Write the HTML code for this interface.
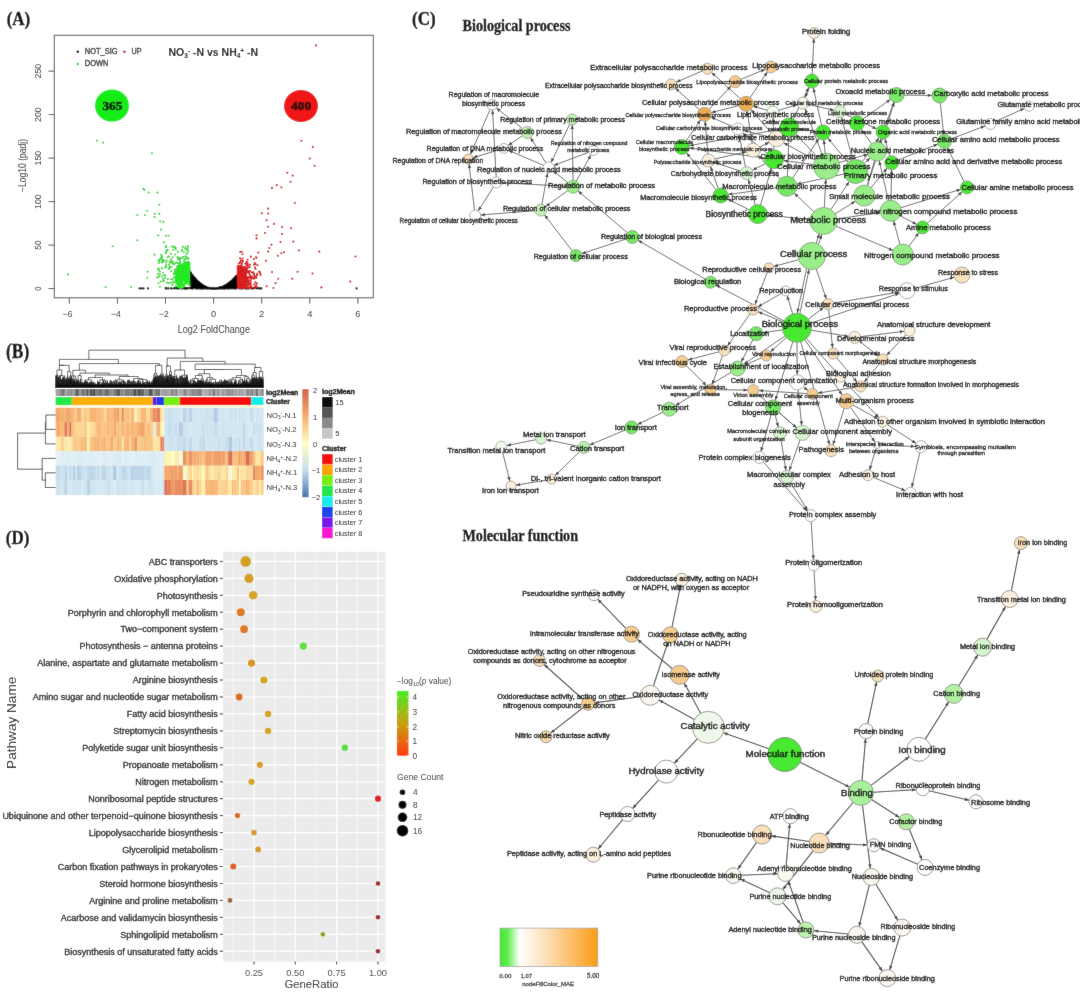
<!DOCTYPE html><html><head><meta charset="utf-8"><style>html,body{margin:0;padding:0;background:#fff;}svg{display:block;}</style></head><body>
<svg width="1080" height="1001" viewBox="0 0 1080 1001">
<defs><filter id="soft" x="0" y="0" width="1" height="1" filterUnits="objectBoundingBox"><feConvolveMatrix order="3" kernelMatrix="1 2 1 2 48 2 1 2 1" divisor="60" edgeMode="duplicate"/></filter></defs>
<rect width="1080" height="1001" fill="#fff"/>
<g filter="url(#soft)">
<rect width="1080" height="1001" fill="#fff"/>
<text x="6.7" y="24.9" font-family="Liberation Serif" font-weight="bold" font-size="19.40" fill="#111" textLength="23.6" lengthAdjust="spacingAndGlyphs" stroke="#111" stroke-width="0.35">(A)</text>
<rect x="54.3" y="35.3" width="319" height="262.5" fill="none" stroke="#555" stroke-width="1"/>
<line x1="48.5" y1="288.6" x2="54.3" y2="288.6" stroke="#555" stroke-width="1"/>
<text transform="translate(41,288.6) rotate(-90)" x="-2.1" y="0" font-family="Liberation Sans" font-size="9.6" fill="#333" textLength="4.2" lengthAdjust="spacingAndGlyphs">0</text>
<line x1="48.5" y1="245.1" x2="54.3" y2="245.1" stroke="#555" stroke-width="1"/>
<text transform="translate(41,245.1) rotate(-90)" x="-4.7" y="0" font-family="Liberation Sans" font-size="9.6" fill="#333" textLength="9.4" lengthAdjust="spacingAndGlyphs">50</text>
<line x1="48.5" y1="201.6" x2="54.3" y2="201.6" stroke="#555" stroke-width="1"/>
<text transform="translate(41,201.6) rotate(-90)" x="-7.3" y="0" font-family="Liberation Sans" font-size="9.6" fill="#333" textLength="14.6" lengthAdjust="spacingAndGlyphs">100</text>
<line x1="48.5" y1="158.1" x2="54.3" y2="158.1" stroke="#555" stroke-width="1"/>
<text transform="translate(41,158.1) rotate(-90)" x="-7.3" y="0" font-family="Liberation Sans" font-size="9.6" fill="#333" textLength="14.6" lengthAdjust="spacingAndGlyphs">150</text>
<line x1="48.5" y1="114.6" x2="54.3" y2="114.6" stroke="#555" stroke-width="1"/>
<text transform="translate(41,114.6) rotate(-90)" x="-7.3" y="0" font-family="Liberation Sans" font-size="9.6" fill="#333" textLength="14.6" lengthAdjust="spacingAndGlyphs">200</text>
<line x1="48.5" y1="71.1" x2="54.3" y2="71.1" stroke="#555" stroke-width="1"/>
<text transform="translate(41,71.1) rotate(-90)" x="-7.3" y="0" font-family="Liberation Sans" font-size="9.6" fill="#333" textLength="14.6" lengthAdjust="spacingAndGlyphs">250</text>
<line x1="69.3" y1="297.8" x2="69.3" y2="303.7" stroke="#555" stroke-width="1"/>
<text x="62.8" y="317.4" font-family="Liberation Sans" font-size="9" fill="#333" textLength="9.7" lengthAdjust="spacingAndGlyphs">−6</text>
<line x1="117.4" y1="297.8" x2="117.4" y2="303.7" stroke="#555" stroke-width="1"/>
<text x="111.0" y="317.4" font-family="Liberation Sans" font-size="9" fill="#333" textLength="9.7" lengthAdjust="spacingAndGlyphs">−4</text>
<line x1="165.5" y1="297.8" x2="165.5" y2="303.7" stroke="#555" stroke-width="1"/>
<text x="159.1" y="317.4" font-family="Liberation Sans" font-size="9" fill="#333" textLength="9.7" lengthAdjust="spacingAndGlyphs">−2</text>
<line x1="213.6" y1="297.8" x2="213.6" y2="303.7" stroke="#555" stroke-width="1"/>
<text x="211.0" y="317.4" font-family="Liberation Sans" font-size="9" fill="#333" textLength="5.2" lengthAdjust="spacingAndGlyphs">0</text>
<line x1="261.7" y1="297.8" x2="261.7" y2="303.7" stroke="#555" stroke-width="1"/>
<text x="259.1" y="317.4" font-family="Liberation Sans" font-size="9" fill="#333" textLength="5.2" lengthAdjust="spacingAndGlyphs">2</text>
<line x1="309.8" y1="297.8" x2="309.8" y2="303.7" stroke="#555" stroke-width="1"/>
<text x="307.2" y="317.4" font-family="Liberation Sans" font-size="9" fill="#333" textLength="5.2" lengthAdjust="spacingAndGlyphs">4</text>
<line x1="357.9" y1="297.8" x2="357.9" y2="303.7" stroke="#555" stroke-width="1"/>
<text x="355.3" y="317.4" font-family="Liberation Sans" font-size="9" fill="#333" textLength="5.2" lengthAdjust="spacingAndGlyphs">6</text>
<text x="177.7" y="332.6" font-family="Liberation Sans" font-size="10" fill="#333" textLength="72.3" lengthAdjust="spacingAndGlyphs">Log2 FoldChange</text>
<text transform="translate(25.5,165.5) rotate(-90)" x="-26.5" y="0" font-family="Liberation Sans" font-size="10" fill="#333" textLength="53" lengthAdjust="spacingAndGlyphs">−Log10 (padj)</text>
<circle cx="77.8" cy="51.8" r="1.3" fill="#000"/>
<circle cx="124.4" cy="51.8" r="1.3" fill="#d42020"/>
<circle cx="77.8" cy="64" r="1.3" fill="#3ad23a"/>
<text x="84.8" y="54.1" font-family="Liberation Sans" font-size="8.30" font-weight="normal" fill="#444" textLength="32.7" lengthAdjust="spacingAndGlyphs" stroke="#444" stroke-width="0.42">NOT_SIG</text>
<text x="131.5" y="54.1" font-family="Liberation Sans" font-size="8.30" font-weight="normal" fill="#444" textLength="10.0" lengthAdjust="spacingAndGlyphs" stroke="#444" stroke-width="0.42">UP</text>
<text x="84.8" y="66.3" font-family="Liberation Sans" font-size="8.30" font-weight="normal" fill="#444" textLength="23.7" lengthAdjust="spacingAndGlyphs" stroke="#444" stroke-width="0.42">DOWN</text>
<text x="168.5" y="56.0" font-family="Liberation Sans" font-weight="bold" font-size="10.5" fill="#111">NO<tspan font-size="6.5" dy="2">3</tspan><tspan font-size="6.5" dy="-5">-</tspan><tspan dy="3"> -N vs NH</tspan><tspan font-size="6.5" dy="2">4</tspan><tspan font-size="6.5" dy="-5">+</tspan><tspan dy="3"> -N</tspan></text>
<ellipse cx="112" cy="105.6" rx="17" ry="16" fill="#18ec18"/>
<ellipse cx="301" cy="106" rx="17" ry="16" fill="#ee1515"/>
<text x="102.5" y="110.1" font-family="Liberation Serif" font-size="13.00" font-weight="bold" fill="#0d2a0d" textLength="19.7" lengthAdjust="spacingAndGlyphs" stroke="#0d2a0d" stroke-width="0.65">365</text>
<text x="291.3" y="110.1" font-family="Liberation Serif" font-size="13.00" font-weight="bold" fill="#3a0808" textLength="19.7" lengthAdjust="spacingAndGlyphs" stroke="#3a0808" stroke-width="0.65">400</text>
<path d="M205.1 287.7h0.01M220.9 288.2h0.01M215.3 288.6h0.01M192.3 278.7h0.01M191.4 278.6h0.01M192.9 284.6h0.01M210.0 288.2h0.01M195.5 283.8h0.01M219.7 287.7h0.01M217.3 288.4h0.01M236.5 285.8h0.01M230.8 284.6h0.01M196.5 285.5h0.01M204.4 286.2h0.01M198.2 283.1h0.01M220.3 287.9h0.01M215.9 288.6h0.01M192.4 282.3h0.01M222.3 287.4h0.01M204.7 286.7h0.01M211.3 288.5h0.01M227.8 284.4h0.01M201.3 285.1h0.01M214.8 288.6h0.01M224.6 287.0h0.01M236.7 284.1h0.01M209.7 288.2h0.01M196.9 282.6h0.01M191.4 276.2h0.01M226.3 285.6h0.01M231.7 284.1h0.01M223.0 286.9h0.01M217.4 288.4h0.01M230.0 282.1h0.01M212.4 288.6h0.01M192.5 277.1h0.01M220.7 287.4h0.01M229.1 285.4h0.01M208.1 287.8h0.01M190.6 277.6h0.01M197.6 285.9h0.01M192.4 276.4h0.01M195.8 283.7h0.01M208.4 287.8h0.01M193.4 280.2h0.01M216.0 288.5h0.01M229.0 283.2h0.01M202.9 286.3h0.01M206.8 287.3h0.01M235.6 283.9h0.01M198.0 285.0h0.01M200.8 285.1h0.01M217.9 288.4h0.01M189.7 277.2h0.01M207.3 287.7h0.01M235.4 278.8h0.01M214.3 288.6h0.01M222.1 288.2h0.01M232.8 280.5h0.01M231.6 281.4h0.01M208.4 288.1h0.01M194.5 279.7h0.01M192.5 285.1h0.01M199.6 286.2h0.01M205.9 288.2h0.01M189.6 281.7h0.01M194.4 281.8h0.01M190.8 273.6h0.01M219.1 288.3h0.01M201.7 286.0h0.01M207.1 288.1h0.01M230.4 281.6h0.01M212.0 288.5h0.01M193.7 284.7h0.01M206.0 287.7h0.01M229.4 286.1h0.01M190.7 272.8h0.01M215.0 288.6h0.01M215.7 288.6h0.01M215.0 288.6h0.01M231.1 282.3h0.01M202.1 286.1h0.01M197.6 281.7h0.01M215.2 288.5h0.01M205.4 287.6h0.01M228.6 283.1h0.01M230.6 282.2h0.01M228.9 283.6h0.01M200.5 284.8h0.01M206.7 288.3h0.01M190.9 280.2h0.01M202.0 285.2h0.01M235.6 280.6h0.01M234.6 277.7h0.01M235.5 281.4h0.01M200.2 285.9h0.01M199.0 285.6h0.01M219.6 287.8h0.01M230.0 284.0h0.01M221.0 287.4h0.01M193.6 278.6h0.01M233.3 280.1h0.01M225.6 286.1h0.01M198.1 282.1h0.01M205.5 286.8h0.01M236.3 280.6h0.01M208.9 287.9h0.01M224.4 287.4h0.01M195.7 284.7h0.01M233.1 280.1h0.01M196.6 280.5h0.01M236.7 277.9h0.01M206.4 287.4h0.01M195.9 287.4h0.01M236.2 278.3h0.01M214.9 288.6h0.01M210.4 288.3h0.01M229.3 285.8h0.01M201.7 286.2h0.01M201.1 284.9h0.01M202.0 285.9h0.01M195.9 279.3h0.01M206.6 287.6h0.01M217.6 288.2h0.01M209.8 288.2h0.01M213.7 288.6h0.01M214.7 288.6h0.01M210.7 288.5h0.01M189.7 272.9h0.01M197.8 283.3h0.01M224.4 286.4h0.01M205.2 287.0h0.01M216.3 288.4h0.01M194.7 280.3h0.01M201.5 286.2h0.01M226.7 285.6h0.01M216.6 288.4h0.01M233.4 282.1h0.01M219.0 288.1h0.01M214.2 288.6h0.01M211.3 288.5h0.01M212.5 288.6h0.01M223.2 286.5h0.01M234.9 282.9h0.01M216.5 288.4h0.01M230.0 286.1h0.01M195.4 281.8h0.01M193.0 282.2h0.01M193.1 278.0h0.01M227.3 284.2h0.01M197.0 281.4h0.01M221.3 288.0h0.01M232.0 280.3h0.01M200.1 283.1h0.01M208.7 288.1h0.01M237.2 276.0h0.01M197.3 283.2h0.01M214.4 288.6h0.01M199.0 284.9h0.01M224.3 288.2h0.01M216.2 288.5h0.01M190.4 279.1h0.01M219.6 288.0h0.01M192.6 275.2h0.01M227.5 283.9h0.01M194.6 282.9h0.01M191.5 275.3h0.01M202.6 287.2h0.01M209.9 288.2h0.01M228.9 285.6h0.01M196.7 280.2h0.01M217.0 288.4h0.01M193.9 285.7h0.01M222.7 287.3h0.01M193.0 276.0h0.01M220.1 287.7h0.01M193.6 277.2h0.01M192.8 276.2h0.01M211.4 288.5h0.01M216.2 288.4h0.01M202.4 287.2h0.01M214.9 288.6h0.01M194.8 284.2h0.01M192.0 282.1h0.01M204.6 287.2h0.01M226.1 286.5h0.01M213.6 288.6h0.01M206.2 288.4h0.01M201.6 288.0h0.01M224.8 286.3h0.01M198.7 283.9h0.01M234.5 285.1h0.01M228.9 284.8h0.01M213.4 288.6h0.01M208.5 288.0h0.01M222.6 286.6h0.01M206.0 287.0h0.01M223.5 286.6h0.01M209.0 288.2h0.01M192.2 283.5h0.01M193.0 277.3h0.01M201.8 286.9h0.01M193.6 277.3h0.01M231.4 282.1h0.01M203.1 286.9h0.01M203.6 286.5h0.01M197.1 283.0h0.01M202.2 284.7h0.01M236.3 279.1h0.01M201.3 284.0h0.01M204.4 287.1h0.01M189.6 277.6h0.01M212.4 288.6h0.01M199.2 284.1h0.01M189.8 279.6h0.01M193.9 281.0h0.01M191.6 286.4h0.01M204.2 287.3h0.01M217.7 288.3h0.01M225.7 285.7h0.01M224.0 286.1h0.01M208.3 288.1h0.01M236.9 283.4h0.01M224.4 286.3h0.01M191.7 275.0h0.01M232.5 281.6h0.01M224.8 285.8h0.01M196.3 281.9h0.01M213.8 288.6h0.01M228.3 283.8h0.01M217.6 288.2h0.01M222.4 287.0h0.01M200.6 287.7h0.01M196.0 282.8h0.01M194.6 278.4h0.01M216.4 288.4h0.01M219.7 287.8h0.01M213.1 288.6h0.01M227.9 284.2h0.01M213.7 288.6h0.01M221.3 288.2h0.01M225.0 287.0h0.01M193.1 281.9h0.01M224.6 287.2h0.01M225.1 285.3h0.01M213.3 288.6h0.01M212.6 288.6h0.01M226.4 285.4h0.01M220.5 288.3h0.01M196.6 284.1h0.01M225.3 286.7h0.01M216.9 288.6h0.01M192.5 281.5h0.01M221.9 287.2h0.01M222.1 287.6h0.01M214.4 288.6h0.01M212.0 288.6h0.01M232.5 284.6h0.01M236.6 275.9h0.01M190.4 277.3h0.01M229.0 282.8h0.01M211.2 288.5h0.01M199.6 282.8h0.01M199.7 284.0h0.01M196.4 282.0h0.01M235.4 284.3h0.01M229.0 284.4h0.01M232.2 281.4h0.01M200.7 283.7h0.01M212.9 288.6h0.01M189.7 276.3h0.01M211.2 288.5h0.01M196.3 283.2h0.01M204.8 286.4h0.01M189.6 273.3h0.01M229.9 286.3h0.01M234.1 279.8h0.01M232.9 283.6h0.01M207.5 287.9h0.01M237.6 277.6h0.01M206.9 287.7h0.01M202.8 287.8h0.01M194.4 278.3h0.01M203.3 285.4h0.01M201.5 286.3h0.01M214.1 288.6h0.01M207.5 287.5h0.01M232.1 281.0h0.01M219.9 287.7h0.01M234.8 280.3h0.01M224.2 288.0h0.01M224.8 286.5h0.01M225.8 285.7h0.01M203.3 287.9h0.01M234.1 284.9h0.01M212.3 288.6h0.01M203.9 286.1h0.01M236.5 282.0h0.01M221.1 287.8h0.01M216.4 288.5h0.01M197.6 285.4h0.01M199.5 282.8h0.01M213.5 288.6h0.01M233.1 279.1h0.01M211.2 288.5h0.01M198.8 286.6h0.01M206.0 288.1h0.01M201.1 286.1h0.01M216.9 288.3h0.01M225.6 286.3h0.01M209.5 288.2h0.01M207.7 288.0h0.01M192.5 281.4h0.01M236.1 284.1h0.01M213.8 288.6h0.01M231.1 285.1h0.01M202.6 286.7h0.01M208.8 288.1h0.01M235.4 277.7h0.01M231.5 287.4h0.01M191.1 275.5h0.01M232.6 282.4h0.01M217.8 288.6h0.01M208.4 287.8h0.01M229.3 283.0h0.01M236.3 282.2h0.01M194.8 284.3h0.01M214.7 288.6h0.01M234.8 279.1h0.01M220.7 287.5h0.01M211.5 288.5h0.01M191.5 275.2h0.01M200.7 283.7h0.01M220.6 287.9h0.01M195.7 283.6h0.01M220.2 287.7h0.01M194.9 285.8h0.01M214.8 288.6h0.01M208.2 288.2h0.01M218.5 288.5h0.01M204.1 286.7h0.01M235.7 278.9h0.01M232.1 282.8h0.01M200.8 286.1h0.01M235.8 278.4h0.01M204.3 288.2h0.01M213.5 288.6h0.01M209.8 288.4h0.01M221.6 287.1h0.01M200.5 287.6h0.01M205.8 287.4h0.01M222.4 287.7h0.01M227.9 284.2h0.01M213.8 288.6h0.01M236.2 281.5h0.01M229.0 285.8h0.01M200.2 283.8h0.01M203.7 285.7h0.01M213.4 288.6h0.01M200.3 285.1h0.01M221.6 287.1h0.01M196.6 283.0h0.01M199.8 282.8h0.01M196.4 286.5h0.01M192.4 279.9h0.01M232.8 280.0h0.01M224.8 285.5h0.01M234.4 282.5h0.01M198.5 281.8h0.01M225.4 288.0h0.01M221.5 287.6h0.01M207.5 287.9h0.01M197.7 288.2h0.01M203.0 286.5h0.01M235.5 284.4h0.01M235.9 283.0h0.01M206.7 287.3h0.01M229.1 284.7h0.01M191.9 278.6h0.01M207.5 287.5h0.01M198.8 284.5h0.01M232.7 287.0h0.01M209.3 288.1h0.01M226.4 287.8h0.01M191.2 284.7h0.01M233.8 283.5h0.01M225.5 285.3h0.01M205.9 287.6h0.01M235.6 279.2h0.01M202.2 285.2h0.01M204.8 287.3h0.01M189.7 273.3h0.01M233.6 280.7h0.01M234.9 286.8h0.01M200.8 285.1h0.01M235.6 276.9h0.01M208.1 288.1h0.01M210.2 288.4h0.01M234.2 284.1h0.01M228.2 284.1h0.01M229.1 283.3h0.01M218.8 288.2h0.01M204.9 287.2h0.01M227.2 287.3h0.01M199.0 282.9h0.01M201.4 287.4h0.01M191.2 277.1h0.01M205.2 286.5h0.01M232.0 280.2h0.01M202.3 287.5h0.01M194.2 280.4h0.01M223.7 286.9h0.01M200.8 285.3h0.01M219.4 287.9h0.01M225.5 285.4h0.01M221.5 288.1h0.01M230.0 285.0h0.01M216.8 288.4h0.01M225.1 287.1h0.01M201.5 286.3h0.01M196.9 280.5h0.01M217.4 288.4h0.01M208.6 287.8h0.01M214.0 288.6h0.01M228.4 284.2h0.01M237.2 284.2h0.01M212.4 288.6h0.01M230.0 282.2h0.01M191.5 280.4h0.01M195.3 284.1h0.01M236.3 278.8h0.01M234.3 282.1h0.01M231.2 283.4h0.01M202.1 285.0h0.01M235.0 284.9h0.01M218.2 288.2h0.01M200.0 285.1h0.01M196.3 284.5h0.01M201.8 285.3h0.01M220.9 288.0h0.01M190.1 278.9h0.01M222.2 287.8h0.01M204.6 287.5h0.01M227.8 284.9h0.01M192.6 284.3h0.01M208.6 288.0h0.01M220.3 288.3h0.01M197.4 281.9h0.01M209.3 288.3h0.01M204.3 286.0h0.01M204.6 286.7h0.01M206.7 287.7h0.01M231.1 281.0h0.01M207.0 288.0h0.01M224.6 287.3h0.01M189.8 272.1h0.01M209.9 288.2h0.01M209.1 288.0h0.01M211.7 288.6h0.01M190.3 276.1h0.01M220.4 287.5h0.01M193.8 279.1h0.01M207.4 287.8h0.01M196.6 283.8h0.01M214.6 288.6h0.01M194.8 281.0h0.01M228.3 283.4h0.01M199.0 286.3h0.01M234.9 277.5h0.01M212.8 288.6h0.01M234.1 282.1h0.01M233.0 281.2h0.01M229.2 286.2h0.01M227.3 286.4h0.01M209.0 288.0h0.01M229.4 285.9h0.01M200.0 285.0h0.01M214.5 288.6h0.01M195.5 283.6h0.01M224.4 285.8h0.01M191.5 277.3h0.01M226.0 287.9h0.01M229.9 286.3h0.01M218.4 288.2h0.01M219.7 288.1h0.01M209.8 288.3h0.01M210.0 288.3h0.01M211.0 288.5h0.01M190.7 275.9h0.01M213.1 288.6h0.01M226.3 285.1h0.01M211.6 288.5h0.01M212.3 288.6h0.01M195.7 282.1h0.01M194.0 280.7h0.01M214.1 288.6h0.01M220.2 288.3h0.01M224.8 285.8h0.01M214.2 288.6h0.01M213.8 288.6h0.01M235.3 284.3h0.01M230.8 281.3h0.01M224.8 285.8h0.01M198.9 282.0h0.01M213.2 288.6h0.01M233.6 284.6h0.01M227.5 284.0h0.01M192.7 280.6h0.01M225.9 287.1h0.01M232.7 283.9h0.01M228.8 286.4h0.01M213.7 288.6h0.01M199.6 285.5h0.01M213.9 288.6h0.01M191.3 282.1h0.01M197.3 280.7h0.01M222.2 286.8h0.01M197.7 281.7h0.01M195.1 280.9h0.01M220.2 288.0h0.01M231.5 282.6h0.01M217.5 288.3h0.01M194.6 277.5h0.01M219.8 288.0h0.01M227.9 286.0h0.01M237.2 278.1h0.01M206.9 287.4h0.01M210.8 288.5h0.01M225.3 287.9h0.01M229.0 285.6h0.01M220.3 287.5h0.01M217.7 288.3h0.01M204.6 288.5h0.01M191.2 282.6h0.01M219.2 288.1h0.01M214.2 288.6h0.01M195.9 284.0h0.01M221.0 288.4h0.01M189.7 278.1h0.01M194.7 282.0h0.01M200.3 284.5h0.01M217.9 288.4h0.01M219.6 288.0h0.01M196.0 279.4h0.01M201.3 286.8h0.01M194.2 279.3h0.01M231.5 281.6h0.01M208.9 288.2h0.01M190.1 274.9h0.01M216.6 288.5h0.01M220.6 287.8h0.01M234.6 279.2h0.01M201.5 284.3h0.01M191.7 277.8h0.01M209.1 288.3h0.01M192.4 276.3h0.01M190.1 276.0h0.01M234.8 284.4h0.01M199.1 283.6h0.01M213.9 288.6h0.01M228.7 286.2h0.01M204.4 287.2h0.01M191.9 274.9h0.01M227.2 284.7h0.01M189.9 272.6h0.01M225.4 286.2h0.01M225.2 286.3h0.01M200.4 286.9h0.01M200.7 287.6h0.01M205.7 286.9h0.01M223.0 286.6h0.01M223.8 287.3h0.01M216.2 288.5h0.01M227.5 285.1h0.01M202.3 285.5h0.01M236.0 282.8h0.01M231.9 287.6h0.01M202.1 286.6h0.01M225.3 285.3h0.01M225.4 286.6h0.01M231.9 283.8h0.01M201.1 284.0h0.01M219.9 287.8h0.01M221.5 287.0h0.01M212.1 288.5h0.01M223.1 286.5h0.01M210.6 288.4h0.01M217.0 288.4h0.01M199.7 283.9h0.01M193.3 276.5h0.01M196.5 287.1h0.01M194.7 278.0h0.01M206.1 288.0h0.01M190.9 285.4h0.01M222.9 286.9h0.01M223.1 286.7h0.01M192.7 278.3h0.01M207.0 287.4h0.01M229.0 283.1h0.01M192.7 276.1h0.01M233.5 279.0h0.01M194.7 283.6h0.01M194.9 286.6h0.01M230.3 282.3h0.01M220.1 287.7h0.01M219.9 288.1h0.01M194.4 285.0h0.01M226.0 286.9h0.01M204.9 287.1h0.01M190.6 280.3h0.01M203.1 285.7h0.01M207.3 287.9h0.01M235.9 279.8h0.01M230.5 283.0h0.01M191.0 278.5h0.01M210.5 288.3h0.01M206.2 287.2h0.01M215.4 288.6h0.01M231.0 286.3h0.01M229.0 286.2h0.01M189.6 280.6h0.01M226.2 284.7h0.01M189.8 276.3h0.01M213.2 288.6h0.01M198.4 283.6h0.01M206.2 287.1h0.01M202.1 284.6h0.01M203.2 287.1h0.01M223.2 287.0h0.01M194.8 279.9h0.01M193.4 277.5h0.01M223.1 286.6h0.01M219.8 288.0h0.01M208.9 288.2h0.01M232.4 286.0h0.01M232.3 287.2h0.01M199.5 285.4h0.01M232.9 282.1h0.01M207.8 287.6h0.01M200.8 285.2h0.01M215.1 288.6h0.01M225.8 285.6h0.01M206.3 287.7h0.01M197.0 280.8h0.01M221.4 287.3h0.01M197.7 283.4h0.01M226.8 285.3h0.01M195.6 281.8h0.01M232.1 284.4h0.01M198.8 284.9h0.01M223.4 286.4h0.01M197.0 285.2h0.01M201.5 286.0h0.01M214.7 288.6h0.01M205.3 287.7h0.01M236.5 277.5h0.01M194.4 277.5h0.01M194.4 281.6h0.01M236.9 276.6h0.01M224.8 286.5h0.01M199.0 283.3h0.01M194.7 283.6h0.01M208.2 288.4h0.01M208.7 288.0h0.01M222.9 287.1h0.01M220.0 287.9h0.01M196.4 281.5h0.01M209.0 288.0h0.01M233.2 282.3h0.01M217.2 288.3h0.01M209.8 288.4h0.01M224.3 285.9h0.01M226.8 285.0h0.01M230.6 282.7h0.01M220.4 287.8h0.01M204.6 286.6h0.01M194.3 281.1h0.01M227.2 284.7h0.01M219.8 288.1h0.01M209.9 288.3h0.01M219.4 288.1h0.01M222.0 286.9h0.01M198.4 282.8h0.01M227.0 285.8h0.01M213.1 288.6h0.01M191.4 277.4h0.01M197.3 281.3h0.01M234.8 280.6h0.01M194.4 280.0h0.01M215.6 288.5h0.01M214.2 288.6h0.01M229.4 284.1h0.01M209.3 288.0h0.01M199.7 283.6h0.01M208.4 287.9h0.01M195.4 278.5h0.01M206.6 288.2h0.01M202.7 286.3h0.01M190.2 277.7h0.01M209.8 288.2h0.01M206.5 287.8h0.01M200.3 283.9h0.01M234.8 280.5h0.01M200.1 283.6h0.01M208.4 288.2h0.01M195.8 280.0h0.01M228.5 284.2h0.01M212.1 288.5h0.01M200.4 283.3h0.01M206.5 287.4h0.01M228.9 283.3h0.01M212.1 288.6h0.01M215.9 288.6h0.01M229.7 284.8h0.01M230.5 284.9h0.01M207.6 288.0h0.01M210.0 288.4h0.01M189.7 273.6h0.01M203.1 286.9h0.01M204.1 286.7h0.01M210.2 288.3h0.01M221.3 287.7h0.01M234.2 278.8h0.01M192.3 275.9h0.01M233.1 280.2h0.01M196.3 280.2h0.01M220.0 288.5h0.01M190.1 272.0h0.01M221.1 287.9h0.01M194.4 284.3h0.01M200.8 284.1h0.01M206.2 287.9h0.01M233.0 280.3h0.01M197.6 281.2h0.01M218.8 288.0h0.01M221.7 287.1h0.01M227.5 284.2h0.01M199.0 283.2h0.01M215.1 288.6h0.01M210.6 288.3h0.01M216.2 288.5h0.01M200.8 286.7h0.01M213.3 288.6h0.01M212.0 288.6h0.01M213.2 288.6h0.01M215.5 288.5h0.01M189.9 272.7h0.01M212.1 288.5h0.01M221.6 287.2h0.01M207.6 287.9h0.01M235.8 285.3h0.01M220.2 287.7h0.01M190.9 276.2h0.01M222.4 286.8h0.01M205.4 286.6h0.01M214.1 288.6h0.01M232.7 286.9h0.01M224.1 286.4h0.01M205.8 286.9h0.01M207.2 287.7h0.01M214.8 288.6h0.01M199.7 284.7h0.01M209.9 288.3h0.01M229.3 285.3h0.01M229.4 284.7h0.01M213.8 288.6h0.01M213.9 288.6h0.01M221.0 287.4h0.01M205.5 287.5h0.01M203.9 286.4h0.01M220.1 287.7h0.01M191.5 275.8h0.01M232.1 282.3h0.01M191.9 280.7h0.01M189.8 281.0h0.01M233.9 280.6h0.01M221.2 287.3h0.01M233.3 281.1h0.01M219.2 288.0h0.01M223.0 286.9h0.01M222.3 287.7h0.01M221.6 287.5h0.01M226.2 287.3h0.01M198.3 287.2h0.01M226.8 284.5h0.01M221.1 287.8h0.01M229.1 283.3h0.01M216.6 288.5h0.01M204.1 286.8h0.01M204.9 287.1h0.01M220.4 287.5h0.01M192.2 277.9h0.01M191.4 283.4h0.01M228.5 284.4h0.01M233.7 281.9h0.01M190.2 278.1h0.01M218.0 288.1h0.01M236.7 279.4h0.01M209.4 288.4h0.01M220.6 288.0h0.01M196.8 287.5h0.01M189.8 274.1h0.01M195.4 278.6h0.01M193.8 277.3h0.01M195.8 287.3h0.01M224.2 287.2h0.01M224.8 287.2h0.01M192.0 275.9h0.01M223.9 286.2h0.01M224.6 287.7h0.01M219.8 287.8h0.01M211.7 288.5h0.01M201.8 284.4h0.01M224.0 288.3h0.01M190.3 275.0h0.01M228.9 287.0h0.01M204.5 286.4h0.01M197.5 281.2h0.01M212.9 288.6h0.01M207.2 287.7h0.01M210.7 288.4h0.01M196.5 280.6h0.01M207.0 287.5h0.01M219.8 288.0h0.01M208.1 287.8h0.01M235.0 278.5h0.01M216.8 288.5h0.01M192.5 275.0h0.01M223.4 286.4h0.01M205.5 287.0h0.01M236.6 276.7h0.01M218.5 288.3h0.01M210.2 288.3h0.01M207.7 287.7h0.01M218.5 288.0h0.01M228.4 285.7h0.01M189.6 279.5h0.01M209.9 288.3h0.01M228.8 283.2h0.01M191.6 275.0h0.01M228.6 283.4h0.01M217.1 288.4h0.01M230.5 282.2h0.01M222.5 286.7h0.01M206.2 288.1h0.01M216.2 288.5h0.01M199.2 283.1h0.01M234.4 283.4h0.01M218.7 288.1h0.01M211.9 288.6h0.01M201.8 284.9h0.01M227.6 285.3h0.01M193.8 277.7h0.01M226.7 286.5h0.01M217.4 288.3h0.01M232.1 282.4h0.01M212.5 288.6h0.01M198.6 285.6h0.01M198.2 282.5h0.01M207.0 287.6h0.01M208.9 288.1h0.01M196.7 286.7h0.01M237.5 279.9h0.01M194.7 279.8h0.01M227.4 286.7h0.01M218.3 288.3h0.01M214.5 288.6h0.01M191.2 273.2h0.01M231.2 283.2h0.01M216.8 288.5h0.01M227.0 285.7h0.01M235.1 278.6h0.01M228.9 282.9h0.01M201.8 287.8h0.01M199.2 285.9h0.01M193.6 285.8h0.01M216.4 288.4h0.01M211.6 288.5h0.01M233.3 286.2h0.01M218.3 288.3h0.01M195.3 278.5h0.01M201.9 285.4h0.01M220.4 287.5h0.01M221.8 287.6h0.01M211.1 288.5h0.01M236.0 276.2h0.01M200.2 287.5h0.01M201.9 286.1h0.01M233.0 279.7h0.01M229.8 287.2h0.01M227.4 284.6h0.01M220.7 287.4h0.01M192.2 283.2h0.01M225.9 285.0h0.01M222.1 287.6h0.01M218.0 288.2h0.01M194.6 282.3h0.01M201.9 287.1h0.01M212.7 288.6h0.01M201.0 286.8h0.01M222.1 288.4h0.01M224.0 287.4h0.01M191.3 273.8h0.01M200.2 283.2h0.01M231.2 281.3h0.01M196.3 282.4h0.01M194.2 277.4h0.01M230.1 283.3h0.01M211.3 288.5h0.01M229.1 284.5h0.01M219.8 288.2h0.01M200.2 287.3h0.01M223.9 286.6h0.01M196.5 280.2h0.01M202.4 286.1h0.01M197.0 284.2h0.01M229.9 284.8h0.01M197.6 283.1h0.01M204.8 286.4h0.01M195.0 278.1h0.01M192.3 275.3h0.01M221.7 287.9h0.01M212.5 288.6h0.01M201.9 286.7h0.01M207.1 287.3h0.01M237.6 274.9h0.01M194.2 282.4h0.01M232.7 286.4h0.01M224.5 287.0h0.01M236.6 286.9h0.01M228.4 285.4h0.01M196.3 288.2h0.01M229.6 284.0h0.01M198.5 284.0h0.01M233.4 284.0h0.01M217.0 288.5h0.01M198.2 282.2h0.01M223.8 287.5h0.01M193.4 284.9h0.01M218.8 288.1h0.01M202.7 286.9h0.01M219.0 288.0h0.01M228.6 284.3h0.01M199.3 287.0h0.01M224.8 286.6h0.01M224.3 287.9h0.01M228.5 285.4h0.01M230.0 282.4h0.01M213.3 288.6h0.01M233.3 281.9h0.01M231.5 284.5h0.01M198.5 282.2h0.01M207.2 288.1h0.01M207.4 287.7h0.01M189.8 276.0h0.01M211.0 288.4h0.01M195.4 279.9h0.01M228.8 283.2h0.01M205.0 286.7h0.01M207.9 287.7h0.01M192.5 275.8h0.01M235.4 280.3h0.01M214.2 288.6h0.01M215.4 288.6h0.01M236.1 282.7h0.01M198.3 286.3h0.01M201.6 284.6h0.01M191.0 283.7h0.01M223.2 287.6h0.01M190.4 275.8h0.01M217.3 288.4h0.01M223.3 287.8h0.01M231.4 282.0h0.01M191.7 283.4h0.01M213.3 288.6h0.01M203.0 287.4h0.01M209.1 288.4h0.01M218.0 288.2h0.01M196.6 281.9h0.01M225.5 287.2h0.01M229.3 282.7h0.01M208.2 288.0h0.01M229.9 283.8h0.01M208.6 287.8h0.01M226.9 286.0h0.01M201.1 285.8h0.01M210.5 288.3h0.01M228.2 283.5h0.01M228.8 283.4h0.01M192.1 278.4h0.01M235.6 277.0h0.01M201.5 285.7h0.01M220.0 288.0h0.01M215.1 288.6h0.01M210.4 288.4h0.01M190.6 282.5h0.01M236.2 277.4h0.01M234.6 279.9h0.01M228.5 283.4h0.01M232.1 287.0h0.01M220.4 288.0h0.01M222.2 287.6h0.01M215.6 288.5h0.01M219.4 288.2h0.01M214.6 288.6h0.01M235.3 282.3h0.01M204.2 286.4h0.01M195.3 280.7h0.01M235.5 280.0h0.01M202.5 286.0h0.01M215.2 288.6h0.01M195.5 284.9h0.01M203.7 286.7h0.01M203.4 287.0h0.01M193.8 279.6h0.01M229.9 283.4h0.01M217.0 288.4h0.01M199.2 283.2h0.01M211.7 288.5h0.01M219.0 288.1h0.01M204.5 287.3h0.01M200.2 284.6h0.01M208.0 287.9h0.01M190.1 278.5h0.01M231.0 284.9h0.01M216.3 288.5h0.01M203.2 285.3h0.01M203.8 286.0h0.01M197.2 286.5h0.01M231.5 283.3h0.01M192.5 280.1h0.01M210.7 288.4h0.01M194.8 283.4h0.01M235.7 278.2h0.01M197.0 283.7h0.01M206.5 287.3h0.01M219.2 287.9h0.01M229.0 284.3h0.01M225.1 285.8h0.01M226.1 285.9h0.01M227.3 284.7h0.01M233.5 285.1h0.01M231.4 288.1h0.01M226.4 285.5h0.01M213.5 288.6h0.01M217.1 288.4h0.01M227.2 284.3h0.01M218.8 288.2h0.01M211.3 288.5h0.01M224.3 287.1h0.01M208.3 288.0h0.01M208.0 288.1h0.01M227.4 284.2h0.01M213.6 288.6h0.01M198.4 284.7h0.01M196.5 281.8h0.01M217.5 288.5h0.01M233.8 282.8h0.01M230.1 282.4h0.01M235.7 283.1h0.01M210.1 288.2h0.01M190.1 284.9h0.01M216.7 288.4h0.01M233.8 279.7h0.01M215.5 288.5h0.01M214.4 288.6h0.01M222.5 287.4h0.01M206.8 287.5h0.01M206.4 287.1h0.01M222.1 287.3h0.01M194.3 281.6h0.01M208.8 288.1h0.01M217.2 288.3h0.01M235.9 280.0h0.01M210.7 288.4h0.01M237.5 280.3h0.01M215.0 288.6h0.01M197.8 284.2h0.01M236.6 276.7h0.01M214.2 288.6h0.01M232.6 281.2h0.01M229.0 282.7h0.01M232.3 283.0h0.01M197.1 284.1h0.01M214.2 288.6h0.01M198.6 285.6h0.01M219.9 287.8h0.01M206.5 287.1h0.01M220.2 288.4h0.01M209.3 288.1h0.01M204.3 286.4h0.01M189.7 278.9h0.01M230.1 283.5h0.01M221.7 287.9h0.01M213.5 288.6h0.01M202.3 285.5h0.01M215.1 288.5h0.01M217.2 288.4h0.01M195.4 284.6h0.01M226.1 287.3h0.01M194.4 283.9h0.01M214.7 288.6h0.01M219.0 287.9h0.01M192.5 287.1h0.01M226.6 286.2h0.01M224.0 287.0h0.01M197.7 284.6h0.01M194.3 277.7h0.01M217.6 288.4h0.01M211.2 288.5h0.01M192.2 275.2h0.01M217.6 288.2h0.01M210.7 288.4h0.01M201.5 287.7h0.01M234.3 278.7h0.01M204.7 286.3h0.01M228.8 285.4h0.01M218.5 288.0h0.01M213.4 288.6h0.01M201.2 285.7h0.01M224.1 287.3h0.01M204.4 286.2h0.01M212.8 288.6h0.01M201.3 286.6h0.01M206.8 288.0h0.01M236.3 281.7h0.01M216.6 288.5h0.01M215.2 288.6h0.01M208.9 288.4h0.01M195.5 279.4h0.01M206.4 287.8h0.01M198.7 285.0h0.01M201.0 287.7h0.01M221.5 287.7h0.01M197.0 281.5h0.01M194.0 282.5h0.01M229.7 286.3h0.01M210.9 288.4h0.01M228.3 286.5h0.01M206.5 287.3h0.01M207.7 287.5h0.01M199.6 282.7h0.01M213.8 288.6h0.01M211.3 288.5h0.01M223.5 287.3h0.01M232.8 281.6h0.01M207.3 288.0h0.01M218.8 288.3h0.01M231.5 285.8h0.01M214.2 288.6h0.01M202.6 285.3h0.01M208.1 287.8h0.01M216.9 288.5h0.01M208.3 288.3h0.01M198.1 281.7h0.01M205.0 286.7h0.01M194.8 280.4h0.01M206.9 287.6h0.01M203.8 287.8h0.01M204.5 287.4h0.01M195.6 280.2h0.01M203.1 286.5h0.01M233.3 280.1h0.01M232.0 280.8h0.01M195.9 283.5h0.01M191.0 275.6h0.01M221.5 287.7h0.01M209.4 288.2h0.01M223.2 287.5h0.01M230.3 284.5h0.01M219.8 288.2h0.01M195.1 278.5h0.01M224.9 285.9h0.01M191.5 285.6h0.01M197.3 285.0h0.01M204.1 286.9h0.01M191.4 280.2h0.01M220.3 288.1h0.01M229.9 283.6h0.01M224.0 287.2h0.01M210.5 288.4h0.01M206.3 288.5h0.01M229.7 282.9h0.01M203.3 287.9h0.01M230.6 283.0h0.01M191.8 281.4h0.01M194.9 279.0h0.01M199.7 282.9h0.01M225.6 287.6h0.01M223.0 287.2h0.01M225.5 285.4h0.01M203.1 287.6h0.01M235.1 281.2h0.01M234.3 279.8h0.01M225.1 285.6h0.01M219.8 288.0h0.01M192.2 276.8h0.01M210.2 288.3h0.01M234.2 284.8h0.01M226.2 287.8h0.01M223.4 286.5h0.01M202.1 285.6h0.01M236.2 278.5h0.01M215.7 288.5h0.01M192.4 280.3h0.01M209.3 288.4h0.01M204.5 287.7h0.01M223.6 286.6h0.01M201.0 286.2h0.01M214.3 288.6h0.01M234.6 282.1h0.01M203.9 285.9h0.01M196.4 281.7h0.01M205.6 286.8h0.01M215.9 288.5h0.01M197.7 282.2h0.01M218.3 288.2h0.01M226.4 284.9h0.01M195.1 282.9h0.01M206.9 288.0h0.01M192.5 281.3h0.01M199.0 283.1h0.01M211.1 288.5h0.01M205.2 287.1h0.01M207.0 288.1h0.01M193.0 287.2h0.01M237.3 276.6h0.01M193.6 278.1h0.01M236.7 278.7h0.01M194.8 281.0h0.01M210.4 288.5h0.01M215.7 288.6h0.01M233.8 280.5h0.01M219.7 287.7h0.01M220.9 287.9h0.01M201.4 286.9h0.01M190.9 274.6h0.01M229.9 285.0h0.01M198.5 283.0h0.01M230.2 282.0h0.01M197.7 281.7h0.01M229.5 283.2h0.01M205.3 287.7h0.01M229.2 285.2h0.01M207.3 287.7h0.01M207.3 287.5h0.01M201.1 287.6h0.01M216.8 288.4h0.01M229.0 283.7h0.01M233.1 279.4h0.01M213.3 288.6h0.01M197.1 284.0h0.01M217.5 288.5h0.01M222.6 287.8h0.01M210.9 288.4h0.01M193.9 286.2h0.01M210.7 288.5h0.01M224.3 288.4h0.01M230.0 282.4h0.01M227.4 285.5h0.01M203.2 285.9h0.01M214.3 288.6h0.01M205.8 287.4h0.01M221.6 287.2h0.01M233.0 284.8h0.01M203.8 286.6h0.01M216.6 288.5h0.01M198.9 286.7h0.01M205.1 287.1h0.01M236.3 276.4h0.01M231.2 281.0h0.01M235.8 279.0h0.01M228.6 287.2h0.01M222.1 287.2h0.01M203.8 286.4h0.01M235.4 280.4h0.01M220.7 287.9h0.01M206.1 287.0h0.01M190.9 281.7h0.01M222.2 287.4h0.01M193.6 278.6h0.01M207.4 287.7h0.01M209.6 288.2h0.01M216.7 288.4h0.01M195.0 284.1h0.01M232.4 282.1h0.01M195.0 278.6h0.01M201.7 287.3h0.01M215.1 288.6h0.01M213.1 288.6h0.01M200.4 284.6h0.01M195.0 280.9h0.01M217.9 288.5h0.01M209.2 288.4h0.01M210.7 288.4h0.01M216.0 288.5h0.01M226.0 287.3h0.01M237.2 276.9h0.01M194.5 278.3h0.01M208.4 288.3h0.01M235.7 279.5h0.01M226.8 287.0h0.01M226.9 287.5h0.01M200.9 285.6h0.01M190.3 275.7h0.01M199.8 285.4h0.01M223.6 287.0h0.01M232.3 281.8h0.01M231.5 282.6h0.01M233.7 279.3h0.01M197.6 281.8h0.01M206.0 287.0h0.01M222.3 286.9h0.01M195.5 282.4h0.01M225.0 285.5h0.01M224.3 288.0h0.01M218.6 288.4h0.01M215.9 288.5h0.01M195.0 278.3h0.01M222.0 287.7h0.01M198.8 284.1h0.01M229.9 283.6h0.01M195.0 287.1h0.01M194.9 278.9h0.01M198.5 283.3h0.01M203.5 286.0h0.01M207.9 288.2h0.01M231.7 282.7h0.01M222.7 286.7h0.01M235.2 287.2h0.01M206.0 287.9h0.01M213.7 288.6h0.01M228.1 287.6h0.01M198.3 282.1h0.01M222.2 287.4h0.01M212.4 288.6h0.01M230.2 284.3h0.01M231.5 282.4h0.01M193.2 281.2h0.01M200.0 283.2h0.01M217.9 288.5h0.01M197.7 283.9h0.01M212.0 288.5h0.01M208.2 288.1h0.01M189.8 275.4h0.01M205.6 288.3h0.01M211.6 288.5h0.01M191.7 283.0h0.01M221.8 287.7h0.01M202.7 286.0h0.01M202.2 285.6h0.01M215.0 288.6h0.01M237.3 286.0h0.01M216.5 288.4h0.01M231.5 281.6h0.01M220.0 287.8h0.01M207.0 287.9h0.01M227.8 283.9h0.01M234.7 279.5h0.01M204.2 286.2h0.01M225.1 286.2h0.01M220.1 288.0h0.01M216.0 288.5h0.01M192.5 280.6h0.01M205.1 286.4h0.01M212.7 288.6h0.01M201.3 286.3h0.01M206.3 288.0h0.01M189.9 272.4h0.01M211.3 288.5h0.01M216.9 288.5h0.01M197.7 286.6h0.01M204.1 287.0h0.01M224.5 286.4h0.01M234.6 282.2h0.01M233.9 280.8h0.01M193.4 283.3h0.01M217.5 288.2h0.01M206.7 287.3h0.01M210.1 288.3h0.01M192.8 279.3h0.01M232.8 283.8h0.01M201.9 288.0h0.01M197.5 284.4h0.01M223.4 287.5h0.01M208.8 288.3h0.01M218.5 288.0h0.01M220.7 288.0h0.01M224.9 285.5h0.01M218.5 288.4h0.01M228.5 283.5h0.01M206.0 287.9h0.01M198.6 283.5h0.01M231.7 282.1h0.01M233.9 283.9h0.01M205.3 286.7h0.01M220.8 287.8h0.01M222.2 287.5h0.01M192.3 279.6h0.01M191.7 276.9h0.01M205.6 287.2h0.01M218.3 288.3h0.01M211.8 288.6h0.01M234.1 280.8h0.01M237.0 285.4h0.01M219.1 288.0h0.01M205.4 288.0h0.01M197.1 285.4h0.01M226.5 287.4h0.01M228.7 284.9h0.01M215.5 288.5h0.01M216.2 288.5h0.01M218.5 288.3h0.01M225.2 286.9h0.01M223.8 286.4h0.01M226.9 286.2h0.01M226.7 284.4h0.01M211.3 288.5h0.01M214.7 288.6h0.01M195.9 287.7h0.01M212.4 288.6h0.01M226.8 286.0h0.01M237.1 282.0h0.01M225.9 287.5h0.01M190.9 282.8h0.01M192.4 278.8h0.01M216.3 288.5h0.01M234.8 281.9h0.01M196.7 284.9h0.01M225.0 285.5h0.01M197.3 287.2h0.01M227.0 286.4h0.01M236.8 279.2h0.01M220.1 288.0h0.01M228.1 285.1h0.01M205.1 286.5h0.01M194.7 279.2h0.01M192.7 277.8h0.01M208.9 288.0h0.01M192.4 278.2h0.01M209.3 288.0h0.01M235.0 279.6h0.01M200.3 285.9h0.01M202.2 285.9h0.01M200.7 286.3h0.01M226.1 285.5h0.01M203.9 285.7h0.01M200.0 284.3h0.01M197.1 280.8h0.01M231.4 284.6h0.01M225.7 285.3h0.01M203.1 286.7h0.01M212.9 288.6h0.01M197.3 281.8h0.01M218.3 288.2h0.01M217.4 288.3h0.01M199.6 283.0h0.01M206.9 287.4h0.01M231.1 285.4h0.01M231.1 281.0h0.01M203.9 288.1h0.01M194.9 278.0h0.01M190.0 272.2h0.01M196.8 281.1h0.01M194.2 283.9h0.01M222.4 288.0h0.01M205.9 286.8h0.01M224.0 286.1h0.01M236.7 286.2h0.01M200.8 284.1h0.01M222.7 288.2h0.01M213.8 288.6h0.01M210.3 288.5h0.01M190.5 272.2h0.01M204.8 286.3h0.01M195.3 281.4h0.01M196.1 282.4h0.01M198.2 282.5h0.01M196.7 281.0h0.01M213.6 288.6h0.01M206.6 287.5h0.01M233.7 282.6h0.01M199.9 282.9h0.01M232.0 281.4h0.01M202.7 287.1h0.01M202.3 287.6h0.01M191.6 278.0h0.01M209.2 288.2h0.01M207.0 288.5h0.01M222.6 287.0h0.01M215.7 288.5h0.01M222.8 286.5h0.01M231.6 281.8h0.01M208.8 288.2h0.01M209.7 288.1h0.01M208.2 288.0h0.01M209.3 288.4h0.01M237.6 287.6h0.01M218.8 288.0h0.01M201.8 285.2h0.01M207.7 288.1h0.01M199.1 286.4h0.01M230.1 282.6h0.01M233.2 286.5h0.01M222.9 287.4h0.01M220.6 287.7h0.01M204.7 286.2h0.01M189.6 273.3h0.01M230.6 283.5h0.01M218.0 288.1h0.01M200.8 284.6h0.01M225.3 286.5h0.01M223.8 287.0h0.01M214.9 288.6h0.01M222.1 287.6h0.01M219.8 287.9h0.01M200.3 284.3h0.01M202.3 284.8h0.01M212.3 288.6h0.01M214.7 288.6h0.01M200.2 286.5h0.01M234.2 281.0h0.01M214.8 288.6h0.01M228.7 285.8h0.01M197.8 281.7h0.01M211.7 288.5h0.01M229.4 282.8h0.01M231.3 287.0h0.01M207.9 287.7h0.01M228.9 286.6h0.01M196.9 284.3h0.01M194.5 281.9h0.01M228.2 284.8h0.01M211.3 288.6h0.01M208.6 287.8h0.01M223.0 287.1h0.01M212.6 288.6h0.01M226.0 287.1h0.01M222.3 287.5h0.01M214.6 288.6h0.01M207.4 287.9h0.01M207.9 288.5h0.01M199.2 283.8h0.01M192.3 282.7h0.01M224.1 287.2h0.01M205.1 287.5h0.01M229.7 286.7h0.01M220.1 287.6h0.01M199.3 284.5h0.01M227.7 284.7h0.01M207.4 288.4h0.01M210.8 288.5h0.01M223.8 287.2h0.01M209.2 288.1h0.01M228.6 285.3h0.01M208.1 287.9h0.01M234.0 284.1h0.01M236.3 277.8h0.01M207.5 287.7h0.01M205.4 288.0h0.01M225.9 286.3h0.01M214.8 288.6h0.01M232.9 280.6h0.01M190.8 276.2h0.01M211.8 288.5h0.01M229.9 284.3h0.01M212.3 288.6h0.01M210.7 288.4h0.01M214.2 288.6h0.01M221.8 287.2h0.01M208.9 288.5h0.01M222.3 287.2h0.01M226.5 284.9h0.01M195.2 283.7h0.01M193.3 277.1h0.01M194.4 285.2h0.01M225.8 285.8h0.01M192.2 276.9h0.01M223.8 286.8h0.01M192.2 276.8h0.01M209.7 288.2h0.01M237.6 275.7h0.01M231.5 285.6h0.01M205.6 287.2h0.01M189.8 271.3h0.01M202.8 286.7h0.01M204.6 287.3h0.01M230.9 283.1h0.01M214.1 288.6h0.01M192.0 280.7h0.01M231.2 281.7h0.01M230.8 284.9h0.01M199.3 287.2h0.01M215.4 288.6h0.01M211.9 288.5h0.01M217.6 288.4h0.01M228.1 286.3h0.01M233.8 281.1h0.01M192.0 280.5h0.01M215.2 288.6h0.01M216.7 288.5h0.01M202.7 285.3h0.01M203.6 286.0h0.01M228.1 284.6h0.01M211.4 288.5h0.01M210.9 288.4h0.01M192.3 279.4h0.01M220.3 288.4h0.01M231.0 286.6h0.01M218.2 288.4h0.01M233.9 280.9h0.01M228.1 284.9h0.01M222.0 287.2h0.01M203.7 287.2h0.01M229.9 286.1h0.01M233.7 284.0h0.01M194.4 285.1h0.01M227.3 284.1h0.01M209.5 288.2h0.01M201.9 284.6h0.01M222.5 287.8h0.01M192.3 276.9h0.01M191.6 274.9h0.01M203.7 287.1h0.01M217.5 288.4h0.01M216.5 288.5h0.01M233.4 283.1h0.01M230.0 286.0h0.01M228.0 283.5h0.01M208.4 288.4h0.01M207.8 287.8h0.01M200.3 284.6h0.01M194.1 280.6h0.01M224.6 286.6h0.01M222.2 288.0h0.01M229.4 286.4h0.01M234.0 278.3h0.01M234.7 280.6h0.01M203.5 286.8h0.01M225.6 286.1h0.01M234.3 285.4h0.01M212.9 288.6h0.01M218.3 288.2h0.01M193.8 284.1h0.01M202.6 285.1h0.01M230.2 285.3h0.01M234.0 286.7h0.01M218.4 288.0h0.01M206.1 286.9h0.01M221.1 288.3h0.01M205.6 287.3h0.01M201.4 284.7h0.01M198.2 282.1h0.01M203.9 287.8h0.01M216.4 288.5h0.01M216.1 288.5h0.01M218.2 288.2h0.01M191.2 277.5h0.01M194.2 279.3h0.01M195.9 281.3h0.01M206.5 287.7h0.01M221.4 288.0h0.01M197.7 281.0h0.01M205.5 286.7h0.01M231.6 283.1h0.01M196.7 285.9h0.01M231.8 285.8h0.01M213.4 288.6h0.01M195.2 281.5h0.01M197.4 282.7h0.01M213.9 288.6h0.01M199.1 284.5h0.01M199.3 286.4h0.01M201.1 284.1h0.01M213.7 288.6h0.01M190.3 272.3h0.01M213.0 288.6h0.01M217.0 288.4h0.01M200.6 284.1h0.01M196.9 284.2h0.01M191.0 278.8h0.01M214.5 288.6h0.01M232.4 286.1h0.01M217.4 288.4h0.01M218.2 288.1h0.01M223.7 288.0h0.01M201.4 285.0h0.01M236.8 285.9h0.01M219.3 287.9h0.01M228.7 285.3h0.01M228.5 284.8h0.01M233.8 287.5h0.01M234.8 281.5h0.01M209.1 288.4h0.01M201.3 284.6h0.01M222.2 287.9h0.01M206.1 288.0h0.01M199.1 285.6h0.01M205.5 286.6h0.01M237.5 276.0h0.01M212.6 288.6h0.01M227.0 284.3h0.01M225.7 285.7h0.01M199.1 283.5h0.01M230.2 282.5h0.01M194.0 278.6h0.01M206.3 287.9h0.01M236.0 278.4h0.01M225.4 287.3h0.01M229.4 282.6h0.01M233.1 280.5h0.01M229.6 282.9h0.01M217.9 288.3h0.01M229.2 283.2h0.01M231.4 284.3h0.01M235.8 279.7h0.01M235.0 284.7h0.01M236.1 277.4h0.01M201.7 284.6h0.01M200.7 286.3h0.01M211.6 288.5h0.01M213.2 288.6h0.01M222.5 286.9h0.01M208.4 287.9h0.01M227.7 284.5h0.01M234.8 278.4h0.01M209.1 288.4h0.01M220.9 287.4h0.01M205.9 287.2h0.01M229.8 282.8h0.01M189.8 276.4h0.01M190.3 283.1h0.01M228.6 285.0h0.01M218.6 288.2h0.01M205.7 287.7h0.01M206.6 287.2h0.01M219.3 288.2h0.01M193.8 282.3h0.01M223.3 287.1h0.01M221.3 287.3h0.01M195.4 280.1h0.01M191.5 275.0h0.01M198.4 284.9h0.01M235.6 281.4h0.01M200.3 283.5h0.01M218.9 287.9h0.01M208.5 288.0h0.01M235.5 280.1h0.01M237.1 282.6h0.01M229.5 286.1h0.01M214.9 288.6h0.01M198.0 281.3h0.01M211.4 288.5h0.01M201.6 286.0h0.01M194.4 280.2h0.01M231.0 283.2h0.01M207.7 287.6h0.01M232.5 281.3h0.01M193.2 278.5h0.01M210.9 288.4h0.01M207.0 287.5h0.01M219.9 288.0h0.01M214.7 288.6h0.01M233.2 281.9h0.01M207.0 287.3h0.01M192.3 275.8h0.01M222.4 287.2h0.01M211.1 288.4h0.01M232.4 281.1h0.01M225.6 287.9h0.01M205.2 287.8h0.01M235.4 277.5h0.01M196.5 281.7h0.01M217.3 288.5h0.01M208.4 287.9h0.01M220.4 288.0h0.01M226.2 286.5h0.01M215.7 288.5h0.01M236.6 278.0h0.01M228.3 284.2h0.01M207.9 287.6h0.01M223.7 286.5h0.01M202.9 287.2h0.01M217.2 288.3h0.01M227.7 285.7h0.01M196.3 282.0h0.01M231.8 285.3h0.01M225.1 287.3h0.01M204.6 288.0h0.01M203.9 286.8h0.01M236.1 276.3h0.01M198.6 284.7h0.01M234.9 283.6h0.01M205.0 287.1h0.01M194.8 283.0h0.01M208.5 288.1h0.01M235.9 282.2h0.01M199.4 282.6h0.01M211.2 288.4h0.01M220.2 287.6h0.01M204.7 287.6h0.01M226.0 286.0h0.01M216.4 288.4h0.01M225.8 286.7h0.01M207.0 287.3h0.01M215.0 288.6h0.01M219.9 288.1h0.01M226.7 287.7h0.01M229.3 284.0h0.01M206.6 287.1h0.01M202.3 286.7h0.01M192.9 278.8h0.01M225.8 285.6h0.01M209.4 288.1h0.01M194.9 282.6h0.01M220.6 287.4h0.01M220.0 287.7h0.01M226.8 285.9h0.01M234.8 279.0h0.01M206.0 287.5h0.01M228.3 285.4h0.01M198.5 282.0h0.01M215.1 288.6h0.01M221.7 287.0h0.01M196.0 283.0h0.01M192.7 280.0h0.01M213.7 288.6h0.01M221.7 287.4h0.01M209.0 288.1h0.01M202.7 285.2h0.01M227.5 284.2h0.01M196.8 281.5h0.01M225.8 286.0h0.01M232.8 280.0h0.01M225.3 285.5h0.01M220.8 287.4h0.01M195.9 280.5h0.01M223.4 286.7h0.01M202.8 287.7h0.01M218.6 288.0h0.01M202.7 286.9h0.01M200.3 286.9h0.01M222.1 286.8h0.01M228.1 285.5h0.01M223.2 288.0h0.01M229.9 284.8h0.01M189.7 274.6h0.01M196.2 283.7h0.01M192.4 279.3h0.01M216.2 288.4h0.01M191.5 274.8h0.01M194.9 283.5h0.01M219.8 288.0h0.01M205.5 287.1h0.01M200.0 283.5h0.01M199.6 283.1h0.01M228.4 284.6h0.01M191.0 274.7h0.01M190.9 277.3h0.01M209.9 288.5h0.01M219.9 287.8h0.01M217.7 288.3h0.01M214.2 288.6h0.01M200.4 283.6h0.01M237.4 275.9h0.01M235.8 281.6h0.01M237.0 285.0h0.01M212.5 288.6h0.01M211.4 288.5h0.01M223.6 286.9h0.01M206.0 287.8h0.01M208.9 288.2h0.01M198.9 282.9h0.01M214.4 288.6h0.01M199.1 283.1h0.01M199.0 285.2h0.01M216.5 288.4h0.01M236.4 277.5h0.01M235.2 277.5h0.01M224.3 286.2h0.01M192.6 282.4h0.01M190.2 272.9h0.01M224.3 286.4h0.01M202.2 286.2h0.01M197.4 282.2h0.01M237.2 280.9h0.01M191.7 282.4h0.01M206.6 287.2h0.01M228.2 285.0h0.01M194.5 284.9h0.01M197.0 281.1h0.01M212.2 288.5h0.01M233.4 279.9h0.01M212.5 288.6h0.01M195.7 285.3h0.01M216.7 288.4h0.01M199.6 285.6h0.01M190.6 273.0h0.01M223.7 286.1h0.01M236.7 279.8h0.01M224.8 286.7h0.01M228.6 283.5h0.01M196.0 287.5h0.01M199.8 284.1h0.01M207.8 288.5h0.01M229.5 283.0h0.01M211.9 288.6h0.01M232.3 282.2h0.01M193.0 281.1h0.01M219.6 287.8h0.01M212.9 288.6h0.01M199.4 285.6h0.01M233.1 282.8h0.01M194.6 280.0h0.01M195.6 284.1h0.01M211.5 288.5h0.01M220.2 287.7h0.01M210.7 288.5h0.01M224.4 287.9h0.01M212.2 288.6h0.01M221.9 287.1h0.01M201.1 284.7h0.01M222.8 287.1h0.01M196.4 279.9h0.01M218.4 288.5h0.01M201.0 283.8h0.01M200.6 285.3h0.01M227.5 284.3h0.01M220.0 287.7h0.01M191.4 283.9h0.01M236.5 276.9h0.01M191.4 285.2h0.01M201.1 284.0h0.01M200.1 284.0h0.01M234.3 280.1h0.01M233.8 283.4h0.01M196.9 287.4h0.01M226.0 287.4h0.01M236.4 277.8h0.01M198.5 282.3h0.01M197.4 282.8h0.01M194.6 278.8h0.01M232.3 280.3h0.01M189.7 272.3h0.01M216.3 288.4h0.01M213.7 288.6h0.01M218.1 288.1h0.01M193.3 285.6h0.01M215.8 288.5h0.01M208.6 288.5h0.01M225.4 288.1h0.01M229.5 283.0h0.01M211.6 288.6h0.01M220.8 288.0h0.01M210.2 288.5h0.01M236.5 279.0h0.01M206.5 288.1h0.01M224.7 285.8h0.01M230.4 286.4h0.01M207.2 287.9h0.01M226.2 287.1h0.01M218.7 288.0h0.01M226.5 288.3h0.01M193.2 284.3h0.01M222.9 287.0h0.01M214.6 288.6h0.01M209.1 288.1h0.01M220.7 287.4h0.01M224.8 285.8h0.01M233.5 279.6h0.01M224.0 288.1h0.01M222.3 286.9h0.01M210.3 288.3h0.01M198.2 281.5h0.01M210.8 288.4h0.01M201.7 286.2h0.01M206.3 287.7h0.01M194.1 280.8h0.01M236.7 277.9h0.01M234.4 279.2h0.01M229.8 282.1h0.01M225.8 286.7h0.01M201.6 285.7h0.01M190.6 280.7h0.01M232.2 280.4h0.01M205.4 286.8h0.01M226.8 284.5h0.01M227.8 285.0h0.01M194.6 278.5h0.01M204.6 286.6h0.01M207.2 287.7h0.01M236.0 283.6h0.01M215.1 288.6h0.01M215.4 288.5h0.01M209.2 288.0h0.01M222.7 286.6h0.01M193.9 283.1h0.01M203.4 285.5h0.01M190.2 280.0h0.01M224.0 285.9h0.01M198.0 283.7h0.01M222.6 286.9h0.01M225.4 285.6h0.01M201.5 286.3h0.01M190.9 275.4h0.01M199.6 285.5h0.01M235.9 278.7h0.01M218.0 288.2h0.01M218.3 288.1h0.01M204.2 287.9h0.01M192.8 287.0h0.01M206.9 288.1h0.01M195.0 281.1h0.01M236.2 278.1h0.01M202.7 285.4h0.01M198.1 286.3h0.01M204.1 286.8h0.01M222.7 287.2h0.01M224.6 287.7h0.01M234.4 282.3h0.01M229.6 287.5h0.01M229.4 285.6h0.01M230.7 282.1h0.01M221.8 287.7h0.01M190.0 281.1h0.01M233.1 284.9h0.01M221.3 287.5h0.01M221.4 288.0h0.01M196.5 285.8h0.01M236.8 280.3h0.01M220.9 287.6h0.01M200.3 287.2h0.01M190.3 273.1h0.01M195.8 279.0h0.01M207.0 287.5h0.01M196.2 280.3h0.01M201.7 285.9h0.01M214.7 288.6h0.01M201.5 284.6h0.01M203.3 286.6h0.01M226.3 286.7h0.01M198.9 285.5h0.01M208.0 288.0h0.01M220.4 287.8h0.01M231.4 286.8h0.01M221.5 287.2h0.01M200.8 287.7h0.01M210.6 288.5h0.01M211.7 288.5h0.01M194.1 284.6h0.01M212.6 288.6h0.01M200.6 285.2h0.01M195.2 285.9h0.01M206.9 287.7h0.01M234.6 280.4h0.01M193.0 282.4h0.01M225.3 286.0h0.01M231.4 280.9h0.01M230.8 286.2h0.01M234.9 280.4h0.01M201.1 286.6h0.01M231.1 285.1h0.01M193.5 282.2h0.01M234.0 281.6h0.01M224.7 287.8h0.01M211.3 288.5h0.01M199.4 283.6h0.01M206.9 288.1h0.01M236.9 279.3h0.01M198.2 287.8h0.01M221.0 287.6h0.01M190.7 277.5h0.01M225.2 286.2h0.01M200.8 285.0h0.01M218.6 288.1h0.01M196.5 280.5h0.01M235.0 278.8h0.01M230.8 284.2h0.01M233.0 284.6h0.01M200.5 284.5h0.01M232.9 285.9h0.01M200.0 287.5h0.01M210.7 288.5h0.01M198.8 282.7h0.01M217.6 288.2h0.01M208.9 288.0h0.01M190.2 272.1h0.01M200.8 285.1h0.01M214.2 288.6h0.01M213.2 288.6h0.01M219.4 288.2h0.01M229.7 285.7h0.01M237.6 278.9h0.01M200.4 283.4h0.01M205.0 287.2h0.01M206.1 287.2h0.01M190.7 278.7h0.01M197.3 281.2h0.01M189.6 274.7h0.01M202.0 285.8h0.01M216.6 288.4h0.01M196.2 284.0h0.01M195.3 278.5h0.01M196.7 285.3h0.01M214.7 288.6h0.01M232.2 286.6h0.01M200.8 286.5h0.01M217.7 288.3h0.01M209.2 288.0h0.01M221.4 287.2h0.01M235.6 282.4h0.01M234.9 281.4h0.01M192.0 274.9h0.01M194.6 287.1h0.01M203.5 286.9h0.01M236.1 276.9h0.01M209.8 288.3h0.01M230.4 282.3h0.01M221.0 287.6h0.01M195.2 283.4h0.01M221.2 287.5h0.01M228.1 283.7h0.01M235.8 283.2h0.01M193.2 276.5h0.01M217.0 288.5h0.01M222.8 287.5h0.01M200.9 285.6h0.01M214.7 288.6h0.01M193.1 277.4h0.01M219.6 288.0h0.01M221.9 287.1h0.01M190.0 276.8h0.01M222.2 287.1h0.01M220.7 288.1h0.01M235.7 277.9h0.01M200.8 285.3h0.01M235.6 283.1h0.01M209.2 288.0h0.01M232.8 284.2h0.01M224.9 286.7h0.01M221.5 287.3h0.01M195.7 283.9h0.01M199.9 285.6h0.01M191.3 282.9h0.01M209.1 288.2h0.01M193.3 278.9h0.01M234.9 280.1h0.01M206.7 287.4h0.01M210.6 288.5h0.01M212.7 288.6h0.01M222.1 287.9h0.01M207.3 287.4h0.01M226.4 284.9h0.01M220.4 287.7h0.01M223.5 286.2h0.01M199.0 282.8h0.01M204.0 287.2h0.01M229.1 284.0h0.01M230.4 282.0h0.01M217.9 288.4h0.01M190.3 276.3h0.01M224.5 287.1h0.01M192.9 287.7h0.01M197.9 282.2h0.01M189.7 280.2h0.01M202.3 285.3h0.01M237.0 286.7h0.01M195.0 278.3h0.01M236.2 283.7h0.01M205.7 287.2h0.01M204.9 287.1h0.01M212.6 288.6h0.01M192.2 284.5h0.01M197.4 286.1h0.01M219.6 287.9h0.01M202.2 285.0h0.01M224.6 286.8h0.01M213.2 288.6h0.01M234.2 280.7h0.01M192.0 283.0h0.01M222.9 287.3h0.01M224.0 287.3h0.01M227.9 284.1h0.01M194.1 279.6h0.01M198.8 282.9h0.01M228.2 283.9h0.01M200.7 287.0h0.01M221.5 287.4h0.01M196.2 284.5h0.01M217.6 288.5h0.01M220.0 288.1h0.01M202.0 285.9h0.01M215.2 288.5h0.01M191.0 275.2h0.01M200.2 285.6h0.01M220.3 287.7h0.01M219.1 287.9h0.01M199.4 285.1h0.01M221.4 287.8h0.01M197.1 284.6h0.01M226.7 284.8h0.01M224.0 286.0h0.01M227.8 285.8h0.01M204.7 286.5h0.01M192.2 277.6h0.01M193.8 285.9h0.01M214.3 288.6h0.01M234.4 278.6h0.01M211.8 288.6h0.01M195.3 281.3h0.01M214.6 288.6h0.01M224.0 286.6h0.01M226.8 287.2h0.01M192.9 280.4h0.01M212.8 288.6h0.01M221.7 287.8h0.01M204.9 287.0h0.01M223.8 286.3h0.01M207.4 287.8h0.01M234.2 278.5h0.01M219.3 288.3h0.01M211.5 288.5h0.01M203.0 287.9h0.01M236.7 275.9h0.01M195.8 281.9h0.01M219.3 288.2h0.01M192.8 277.1h0.01M226.6 285.8h0.01M193.7 280.9h0.01M194.1 277.1h0.01M192.0 280.9h0.01M226.5 287.1h0.01M194.7 285.7h0.01M197.4 282.7h0.01M229.6 286.0h0.01M197.9 282.0h0.01M210.0 288.4h0.01M195.5 283.6h0.01M236.3 284.2h0.01M202.0 285.1h0.01M232.4 280.2h0.01M212.3 288.5h0.01M218.6 288.3h0.01M211.9 288.5h0.01M224.9 287.5h0.01M198.9 282.0h0.01M194.7 278.7h0.01M205.8 287.7h0.01M201.8 285.7h0.01M237.2 283.3h0.01M230.7 284.5h0.01M197.9 282.0h0.01M206.0 287.8h0.01M209.7 288.2h0.01M231.1 282.9h0.01M190.1 273.7h0.01M218.7 288.0h0.01M235.3 281.9h0.01M230.4 282.3h0.01M202.3 286.2h0.01M207.6 287.9h0.01M207.7 288.2h0.01M200.5 283.5h0.01M209.3 288.1h0.01M232.2 281.1h0.01M201.3 284.1h0.01M228.2 283.3h0.01M224.6 286.0h0.01M228.7 285.8h0.01M221.1 287.7h0.01M229.9 286.2h0.01M215.5 288.5h0.01M229.0 285.1h0.01M230.1 282.3h0.01M231.8 285.5h0.01M234.7 279.1h0.01M222.1 287.1h0.01M191.9 275.0h0.01M215.9 288.5h0.01M205.9 287.0h0.01M227.2 284.3h0.01M199.8 285.2h0.01M201.5 287.2h0.01M205.3 288.3h0.01M227.9 286.2h0.01M192.9 285.2h0.01M225.2 287.1h0.01M211.8 288.5h0.01M228.1 283.5h0.01M204.5 286.5h0.01M232.6 282.5h0.01M232.8 280.7h0.01M204.5 286.2h0.01M217.1 288.5h0.01M217.8 288.2h0.01M214.5 288.6h0.01M209.6 288.1h0.01M221.6 287.9h0.01M207.0 287.8h0.01M235.7 278.5h0.01M195.6 279.0h0.01M191.2 276.7h0.01M210.3 288.3h0.01M210.2 288.5h0.01M214.7 288.6h0.01M227.5 285.7h0.01M200.2 283.9h0.01M228.1 286.2h0.01M232.0 280.2h0.01M210.4 288.4h0.01M223.7 286.2h0.01M199.3 285.1h0.01M205.4 286.8h0.01M198.5 283.4h0.01M213.6 288.6h0.01M196.4 279.7h0.01M237.6 277.8h0.01M227.8 286.5h0.01M233.3 281.4h0.01M226.1 285.0h0.01M206.9 287.3h0.01M199.5 287.7h0.01M213.7 288.6h0.01M232.9 279.6h0.01M214.1 288.6h0.01M216.5 288.5h0.01M219.9 287.7h0.01M209.9 288.3h0.01M202.0 286.4h0.01M209.8 288.3h0.01M212.1 288.6h0.01M189.8 278.4h0.01M224.0 286.3h0.01M201.0 286.1h0.01M214.4 288.6h0.01M218.6 288.0h0.01M199.3 283.8h0.01M224.2 286.2h0.01M223.8 286.4h0.01M202.7 285.2h0.01M234.0 286.2h0.01M235.0 281.1h0.01M193.7 285.4h0.01M227.9 284.4h0.01M196.4 282.4h0.01M220.3 287.5h0.01M205.7 286.9h0.01M201.3 286.5h0.01M197.3 283.4h0.01M219.3 288.2h0.01M197.3 284.8h0.01M193.6 283.2h0.01M204.7 286.9h0.01M198.4 283.7h0.01M210.7 288.3h0.01M212.9 288.6h0.01M212.2 288.6h0.01M218.0 288.4h0.01M197.7 286.5h0.01M223.3 286.3h0.01M209.0 288.2h0.01M210.0 288.4h0.01M222.8 287.3h0.01M196.9 280.6h0.01M217.1 288.6h0.01M230.4 282.6h0.01M206.6 287.4h0.01M233.8 282.2h0.01M210.4 288.4h0.01M216.2 288.5h0.01M224.9 285.5h0.01M196.5 283.2h0.01M230.5 282.3h0.01M217.9 288.2h0.01M205.9 286.8h0.01M216.0 288.5h0.01M198.3 286.2h0.01M232.7 280.5h0.01M190.8 279.5h0.01M212.6 288.6h0.01M207.0 287.3h0.01M206.4 287.4h0.01M234.3 280.1h0.01M212.5 288.6h0.01M208.2 287.9h0.01M227.4 286.2h0.01M207.4 287.9h0.01M207.0 287.3h0.01M215.5 288.6h0.01M205.5 286.8h0.01M197.3 281.8h0.01M190.6 281.4h0.01M192.4 276.2h0.01M196.6 284.4h0.01M192.3 281.4h0.01M224.8 285.9h0.01M233.3 279.2h0.01M216.0 288.5h0.01M193.9 277.0h0.01M210.4 288.5h0.01M225.5 285.3h0.01M208.1 288.3h0.01M231.5 281.7h0.01M218.3 288.1h0.01M191.4 285.0h0.01M195.5 287.1h0.01M223.6 286.6h0.01M195.0 284.3h0.01M198.3 282.9h0.01M221.9 286.9h0.01M206.9 287.2h0.01M210.4 288.4h0.01M201.7 286.5h0.01M236.4 275.7h0.01M223.5 287.6h0.01M198.2 285.7h0.01M206.4 287.2h0.01M192.4 278.5h0.01M222.3 288.3h0.01M210.7 288.4h0.01M217.2 288.4h0.01M231.9 282.1h0.01M205.8 287.4h0.01M234.9 278.1h0.01M233.6 281.2h0.01M196.4 284.8h0.01M208.0 287.8h0.01M189.8 272.9h0.01M227.4 285.2h0.01M189.8 273.0h0.01M209.5 288.2h0.01M217.0 288.4h0.01M209.2 288.0h0.01M235.5 277.1h0.01M219.1 288.2h0.01M207.7 288.0h0.01M233.0 280.3h0.01M227.5 284.3h0.01M237.2 277.1h0.01M204.9 286.5h0.01M202.2 285.4h0.01M197.2 280.9h0.01M213.1 288.6h0.01M233.9 285.6h0.01M234.3 279.4h0.01M196.7 280.9h0.01M217.1 288.3h0.01M217.8 288.3h0.01M234.4 285.4h0.01M226.9 287.2h0.01M202.9 287.4h0.01M231.5 283.3h0.01M224.5 287.1h0.01M224.7 286.1h0.01M194.2 280.5h0.01M224.3 287.3h0.01M221.0 287.9h0.01M207.4 287.5h0.01M234.9 277.3h0.01M210.1 288.3h0.01M228.4 283.8h0.01M211.5 288.5h0.01M208.9 287.9h0.01M212.3 288.6h0.01M225.6 287.2h0.01M222.2 288.2h0.01M237.1 278.5h0.01M225.2 287.4h0.01M220.2 287.9h0.01M201.5 284.5h0.01M191.1 277.9h0.01M193.7 277.4h0.01M232.5 287.0h0.01M211.9 288.5h0.01M224.1 286.3h0.01M206.1 286.9h0.01M198.5 286.0h0.01M228.7 286.6h0.01M198.5 283.6h0.01M205.7 287.8h0.01M234.3 281.3h0.01M227.3 286.3h0.01M233.4 284.0h0.01M233.1 281.2h0.01M236.3 277.4h0.01M219.9 287.9h0.01M230.7 283.8h0.01M194.3 277.6h0.01M228.3 284.2h0.01M225.4 286.9h0.01M211.8 288.5h0.01M235.8 276.8h0.01M197.3 281.8h0.01M216.2 288.5h0.01M197.6 285.7h0.01M212.2 288.6h0.01M202.4 286.3h0.01M216.2 288.5h0.01M217.9 288.4h0.01M232.2 283.4h0.01M235.7 276.6h0.01M196.3 281.6h0.01M236.1 280.8h0.01M215.9 288.5h0.01M190.9 281.4h0.01M195.5 283.2h0.01M219.8 287.9h0.01M235.2 279.0h0.01M207.0 287.3h0.01M220.0 287.8h0.01M231.0 282.4h0.01M206.9 287.5h0.01M204.0 285.8h0.01M201.3 284.0h0.01M192.6 287.3h0.01M216.2 288.5h0.01M214.0 288.6h0.01M229.8 283.3h0.01M222.5 286.7h0.01M237.3 277.1h0.01M223.9 288.5h0.01M191.9 279.1h0.01M236.2 281.5h0.01M216.9 288.6h0.01M209.5 288.1h0.01M217.9 288.2h0.01M190.2 281.0h0.01M198.2 281.9h0.01M194.4 277.7h0.01M202.4 285.0h0.01M214.3 288.6h0.01M236.0 280.7h0.01M223.1 288.0h0.01M229.5 282.4h0.01M194.9 279.3h0.01M202.6 287.2h0.01M207.1 287.5h0.01M235.4 276.8h0.01M237.3 277.6h0.01M221.0 288.1h0.01M224.5 286.4h0.01M206.8 287.3h0.01M201.8 287.0h0.01M197.2 285.4h0.01M217.9 288.2h0.01M197.2 282.8h0.01M217.2 288.4h0.01M209.4 288.2h0.01M190.3 284.6h0.01M209.9 288.4h0.01M226.0 286.7h0.01M229.2 285.6h0.01M194.0 280.4h0.01M208.2 288.1h0.01M226.4 286.7h0.01M221.8 287.1h0.01M211.3 288.5h0.01M234.0 280.6h0.01M198.3 286.7h0.01M193.5 281.4h0.01M193.8 278.9h0.01M209.9 288.4h0.01M214.2 288.6h0.01M201.3 286.8h0.01M204.2 287.1h0.01M233.3 280.5h0.01M210.2 288.5h0.01M191.7 283.4h0.01M230.3 283.0h0.01M197.1 281.9h0.01M192.4 278.7h0.01M205.7 288.0h0.01M225.3 285.7h0.01M214.1 288.6h0.01M221.8 287.5h0.01M221.4 288.1h0.01M233.0 288.0h0.01M200.3 285.1h0.01M199.1 286.7h0.01M222.6 286.6h0.01M205.7 287.6h0.01M221.8 287.8h0.01M208.8 288.0h0.01M210.3 288.5h0.01M192.9 278.9h0.01M237.2 275.3h0.01M194.4 280.5h0.01M213.0 288.6h0.01M221.8 287.4h0.01M228.5 285.6h0.01M234.5 278.8h0.01M212.3 288.6h0.01M212.8 288.6h0.01M222.5 286.9h0.01M217.4 288.3h0.01M191.7 276.1h0.01M228.1 286.9h0.01M205.0 288.1h0.01M217.6 288.3h0.01M206.3 287.2h0.01M200.8 288.1h0.01M192.1 287.9h0.01M207.6 288.6h0.01M174.3 288.1h0.01M248.7 288.2h0.01M180.4 288.0h0.01M234.5 288.5h0.01M202.1 288.1h0.01M165.8 288.6h0.01M199.5 288.0h0.01M261.3 288.4h0.01M252.9 288.1h0.01M248.7 288.2h0.01M258.8 288.2h0.01M256.7 288.2h0.01M184.4 288.2h0.01M212.0 288.4h0.01M201.4 288.2h0.01M222.1 288.4h0.01M192.2 288.2h0.01M214.0 288.3h0.01M229.4 288.5h0.01M216.7 288.4h0.01M239.6 288.1h0.01M240.6 288.2h0.01M189.5 288.0h0.01M214.6 288.3h0.01M193.4 288.3h0.01M233.7 288.0h0.01M211.9 288.1h0.01M186.0 288.3h0.01M199.9 288.4h0.01M200.1 288.1h0.01M236.0 288.5h0.01M188.0 288.1h0.01M228.5 288.1h0.01M226.6 288.1h0.01M191.7 288.6h0.01M200.2 288.6h0.01M258.0 288.2h0.01M230.0 287.9h0.01M242.9 288.4h0.01M197.9 288.5h0.01M242.0 288.1h0.01M212.4 288.3h0.01M191.5 288.3h0.01M234.0 288.0h0.01M247.2 288.0h0.01M207.8 288.3h0.01M195.7 287.9h0.01M183.1 288.5h0.01M192.5 288.0h0.01M247.5 288.4h0.01M247.4 288.0h0.01M206.6 288.5h0.01M239.8 288.3h0.01M177.0 288.0h0.01M207.8 288.3h0.01M222.8 288.4h0.01M167.4 288.3h0.01M202.0 288.6h0.01M201.3 288.1h0.01M197.5 288.1h0.01M225.6 288.5h0.01M167.5 288.1h0.01M224.3 288.4h0.01M184.8 288.0h0.01M253.0 288.4h0.01M221.9 288.2h0.01M196.5 288.6h0.01M196.8 288.2h0.01M223.4 288.2h0.01M177.3 288.5h0.01M195.4 288.3h0.01M200.4 288.0h0.01M176.7 287.9h0.01M188.6 288.0h0.01M188.9 288.2h0.01M201.8 288.6h0.01M242.1 288.0h0.01M191.4 288.1h0.01M211.6 287.9h0.01M170.7 288.3h0.01M187.4 288.2h0.01M240.3 288.0h0.01M218.3 288.3h0.01M242.4 288.5h0.01M190.5 288.1h0.01M207.9 287.9h0.01M174.2 288.3h0.01M185.9 288.6h0.01M174.5 288.5h0.01M201.0 288.3h0.01M214.3 288.4h0.01M233.0 288.2h0.01M260.0 288.5h0.01M214.6 288.3h0.01M201.3 288.0h0.01M185.7 288.0h0.01M199.9 288.4h0.01M224.6 288.2h0.01M192.8 288.5h0.01M257.4 288.3h0.01M176.5 288.1h0.01M216.7 288.4h0.01M197.1 288.0h0.01M198.1 288.3h0.01M257.6 288.3h0.01M204.2 288.5h0.01M229.2 288.1h0.01M208.4 288.3h0.01M187.9 288.1h0.01M209.5 288.0h0.01M201.6 288.1h0.01M168.3 288.4h0.01M257.9 288.1h0.01M230.5 288.3h0.01M210.9 288.5h0.01M182.1 288.2h0.01M232.2 288.4h0.01M227.5 288.5h0.01M224.5 288.5h0.01M214.5 288.4h0.01M218.5 288.5h0.01M212.0 288.2h0.01M178.5 288.4h0.01M230.8 288.2h0.01M224.8 288.1h0.01M220.5 288.4h0.01M208.1 288.0h0.01M220.0 288.1h0.01M200.5 288.3h0.01M258.8 288.0h0.01M228.3 288.5h0.01M224.4 288.6h0.01M255.3 287.9h0.01M235.5 288.4h0.01M246.9 288.5h0.01M245.1 288.2h0.01M167.0 288.0h0.01M207.8 288.0h0.01M231.7 288.2h0.01M248.5 288.5h0.01M251.9 288.4h0.01M168.0 288.4h0.01M171.9 288.5h0.01M225.5 288.5h0.01M180.9 288.4h0.01M192.3 288.0h0.01M252.6 288.0h0.01M260.7 288.3h0.01M242.1 288.4h0.01M254.6 288.0h0.01M235.9 288.4h0.01M174.3 288.0h0.01M218.6 288.2h0.01M248.4 288.5h0.01M232.8 288.3h0.01M241.1 288.3h0.01M184.4 287.9h0.01M192.5 288.1h0.01M245.5 288.4h0.01M232.4 288.3h0.01M187.1 288.4h0.01M257.3 288.3h0.01M214.5 288.3h0.01M168.1 288.1h0.01M237.2 288.0h0.01M199.8 288.5h0.01M198.9 288.1h0.01M228.8 288.3h0.01M216.0 288.5h0.01M253.9 288.3h0.01M214.3 288.1h0.01M184.5 288.1h0.01M199.5 288.0h0.01M174.6 288.4h0.01M226.6 288.3h0.01M201.8 288.2h0.01M186.4 288.3h0.01M165.7 288.0h0.01M189.9 288.0h0.01M218.6 288.2h0.01M225.7 288.5h0.01M240.3 288.4h0.01M248.5 288.1h0.01M230.7 288.0h0.01M207.5 288.1h0.01M257.2 288.5h0.01M175.2 288.3h0.01M214.5 288.5h0.01M186.8 288.0h0.01M202.8 288.5h0.01M183.1 288.2h0.01M183.8 288.3h0.01M217.2 288.3h0.01M214.0 288.0h0.01M167.1 288.0h0.01M184.7 288.6h0.01M239.3 288.2h0.01M356.6 288.4h0.01M139.5 288.4h0.01M141.5 288.4h0.01M143.5 288.4h0.01M148.0 288.4h0.01" stroke="#000" stroke-width="2.1" stroke-linecap="round" fill="none"/>
<path d="M183.1 276.2h0.01M186.5 273.5h0.01M185.7 275.4h0.01M183.6 268.2h0.01M180.8 271.8h0.01M176.5 272.2h0.01M185.2 277.7h0.01M183.3 267.1h0.01M177.0 269.7h0.01M187.7 281.8h0.01M179.1 281.3h0.01M179.1 281.2h0.01M182.4 275.6h0.01M179.8 272.6h0.01M180.8 267.6h0.01M185.7 279.0h0.01M178.7 286.1h0.01M180.2 280.2h0.01M185.3 265.8h0.01M189.5 275.7h0.01M176.1 271.3h0.01M181.3 265.7h0.01M181.1 274.7h0.01M176.6 269.0h0.01M182.7 271.7h0.01M181.7 267.4h0.01M187.2 270.1h0.01M178.1 274.3h0.01M188.0 271.2h0.01M184.8 269.1h0.01M182.0 269.8h0.01M179.0 271.6h0.01M187.7 280.3h0.01M180.7 266.6h0.01M189.2 284.9h0.01M184.3 268.2h0.01M187.4 270.1h0.01M177.4 276.5h0.01M185.5 266.5h0.01M178.5 270.8h0.01M184.8 267.7h0.01M175.9 275.1h0.01M180.1 270.4h0.01M180.3 279.5h0.01M185.0 274.2h0.01M186.6 273.5h0.01M183.2 266.2h0.01M177.2 270.7h0.01M176.6 269.1h0.01M176.0 271.7h0.01M180.7 277.8h0.01M181.1 271.3h0.01M181.4 279.4h0.01M182.9 274.3h0.01M189.1 271.7h0.01M181.7 276.3h0.01M189.1 272.9h0.01M184.6 265.4h0.01M181.1 267.9h0.01M179.5 280.3h0.01M176.2 274.9h0.01M187.8 275.9h0.01M181.7 267.4h0.01M179.5 279.0h0.01M182.8 271.9h0.01M188.7 263.8h0.01M178.9 271.6h0.01M181.4 283.4h0.01M181.8 265.6h0.01M179.8 270.7h0.01M185.5 281.2h0.01M188.5 279.0h0.01M179.8 269.1h0.01M175.9 276.1h0.01M177.4 273.8h0.01M175.8 280.3h0.01M178.7 281.5h0.01M176.9 278.9h0.01M182.8 278.6h0.01M187.1 271.1h0.01M179.1 276.9h0.01M187.3 282.1h0.01M186.0 279.6h0.01M188.8 271.2h0.01M183.9 265.2h0.01M177.0 282.7h0.01M185.3 268.6h0.01M185.7 274.2h0.01M182.5 277.2h0.01M181.7 275.1h0.01M183.8 274.1h0.01M179.4 270.2h0.01M176.8 270.2h0.01M182.5 276.1h0.01M177.2 273.4h0.01M182.6 267.6h0.01M180.8 272.9h0.01M188.1 274.1h0.01M189.3 263.8h0.01M189.4 263.2h0.01M179.2 268.3h0.01M184.1 276.3h0.01M189.5 267.1h0.01M186.9 268.7h0.01M176.7 269.7h0.01M178.0 277.0h0.01M184.2 276.6h0.01M182.1 267.9h0.01M176.9 271.7h0.01M177.1 273.9h0.01M184.7 267.3h0.01M176.2 279.2h0.01M189.0 271.5h0.01M181.5 273.3h0.01M185.3 266.4h0.01M184.7 271.8h0.01M183.5 270.2h0.01M178.2 267.6h0.01M189.1 265.3h0.01M189.4 270.1h0.01M187.3 274.9h0.01M186.0 266.6h0.01M188.7 264.6h0.01M187.9 274.2h0.01M186.6 270.1h0.01M180.0 274.0h0.01M186.7 264.7h0.01M187.4 267.0h0.01M178.0 279.4h0.01M183.5 276.3h0.01M180.3 280.3h0.01M177.8 270.4h0.01M178.7 268.3h0.01M180.2 267.3h0.01M179.8 276.1h0.01M181.1 285.4h0.01M181.7 273.1h0.01M175.8 270.5h0.01M180.8 287.9h0.01M189.0 275.2h0.01M179.1 284.4h0.01M177.0 271.1h0.01M183.7 270.3h0.01M179.0 276.0h0.01M189.1 271.9h0.01M189.4 263.9h0.01M177.3 269.3h0.01M175.9 271.9h0.01M186.9 266.6h0.01M183.3 266.1h0.01M177.8 272.6h0.01M179.3 273.8h0.01M178.3 270.1h0.01M183.6 266.4h0.01M184.4 268.6h0.01M188.5 264.9h0.01M183.5 273.6h0.01M188.5 271.9h0.01M177.0 276.1h0.01M185.5 263.9h0.01M184.6 267.6h0.01M188.7 265.3h0.01M181.8 271.7h0.01M186.2 273.3h0.01M177.1 272.0h0.01M186.9 274.8h0.01M185.1 264.5h0.01M177.4 280.1h0.01M182.5 273.8h0.01M188.8 262.6h0.01M181.8 267.0h0.01M184.4 277.2h0.01M189.2 276.7h0.01M176.7 274.5h0.01M175.8 274.7h0.01M181.3 265.4h0.01M181.4 266.6h0.01M186.5 268.3h0.01M178.9 275.7h0.01M182.5 272.6h0.01M184.6 270.0h0.01M180.1 270.3h0.01M189.5 275.9h0.01M180.3 285.4h0.01M176.9 283.1h0.01M181.5 266.7h0.01M185.3 263.5h0.01M187.3 268.2h0.01M183.7 285.1h0.01M181.0 275.8h0.01M184.3 281.2h0.01M183.2 272.7h0.01M182.5 272.4h0.01M177.0 270.8h0.01M186.8 268.1h0.01M177.2 272.2h0.01M187.8 262.8h0.01M186.2 282.2h0.01M187.9 267.0h0.01M179.5 267.0h0.01M187.1 264.0h0.01M179.1 271.3h0.01M180.9 275.1h0.01M186.2 267.9h0.01M180.2 271.1h0.01M188.6 268.4h0.01M188.3 268.4h0.01M189.4 283.3h0.01M182.0 270.2h0.01M185.7 263.4h0.01M184.3 270.6h0.01M184.4 269.6h0.01M185.4 263.7h0.01M175.8 277.0h0.01M187.8 281.3h0.01M186.6 283.2h0.01M184.6 265.8h0.01M178.9 274.3h0.01M178.8 269.9h0.01M183.0 269.0h0.01M180.1 270.6h0.01M188.9 265.3h0.01M188.9 274.7h0.01M182.8 272.7h0.01M180.4 267.6h0.01M178.0 272.2h0.01M186.4 263.6h0.01M175.9 277.8h0.01M182.5 265.0h0.01M177.9 269.0h0.01M181.1 270.6h0.01M188.5 281.0h0.01M180.2 278.6h0.01M177.5 276.4h0.01M185.4 268.7h0.01M177.3 269.8h0.01M182.7 278.4h0.01M187.0 264.9h0.01M178.6 267.4h0.01M186.9 275.3h0.01M175.6 270.6h0.01M187.1 279.5h0.01M186.3 265.7h0.01M184.4 265.4h0.01M189.3 272.8h0.01M187.2 263.6h0.01M180.0 269.4h0.01M185.1 265.0h0.01M183.5 274.7h0.01M179.1 271.7h0.01M177.5 269.1h0.01M188.0 274.9h0.01M185.3 267.3h0.01M177.3 270.1h0.01M186.3 273.5h0.01M177.0 277.0h0.01M186.4 270.3h0.01M187.0 277.3h0.01M177.1 275.8h0.01M187.9 277.1h0.01M176.6 270.9h0.01M176.9 271.6h0.01M176.8 277.8h0.01M184.9 264.8h0.01M181.3 272.1h0.01M176.0 276.5h0.01M179.0 268.7h0.01M185.6 265.7h0.01M183.0 267.7h0.01M177.4 275.1h0.01M179.7 275.8h0.01M185.9 275.8h0.01M180.1 275.6h0.01M187.7 267.4h0.01M182.3 272.9h0.01M188.5 263.3h0.01M181.9 270.0h0.01M187.6 274.5h0.01M179.2 280.6h0.01M182.6 267.0h0.01M177.8 274.1h0.01M189.4 269.8h0.01M180.9 266.9h0.01M188.0 271.8h0.01M177.3 271.7h0.01M185.9 263.9h0.01M184.8 273.7h0.01M182.8 274.6h0.01M181.8 271.6h0.01M188.3 263.7h0.01M188.5 269.9h0.01M189.1 277.9h0.01M188.4 267.3h0.01M187.8 271.1h0.01M189.4 283.6h0.01M187.4 264.9h0.01M180.8 267.1h0.01M178.6 269.4h0.01M182.1 272.4h0.01M178.3 269.1h0.01M185.8 280.0h0.01M189.2 275.4h0.01M180.8 272.9h0.01M183.6 265.0h0.01M188.8 267.4h0.01M180.7 280.1h0.01M176.6 273.7h0.01M183.7 271.3h0.01M189.3 271.1h0.01M180.5 273.0h0.01M178.0 267.9h0.01M183.8 269.7h0.01M181.5 275.8h0.01M180.0 272.0h0.01M181.8 264.9h0.01M183.5 276.4h0.01M176.3 279.9h0.01M180.4 267.9h0.01M188.0 275.0h0.01M186.5 270.8h0.01M183.1 270.1h0.01M176.2 282.8h0.01M184.9 267.2h0.01M180.9 266.0h0.01M187.0 273.5h0.01M176.5 273.2h0.01M184.7 275.7h0.01M176.2 274.3h0.01M176.1 271.5h0.01M184.3 274.5h0.01M181.8 276.2h0.01M178.2 278.6h0.01M187.0 270.5h0.01M185.6 272.7h0.01M186.9 268.1h0.01M184.7 272.0h0.01M183.4 276.9h0.01M189.2 266.8h0.01M183.0 268.5h0.01M177.0 276.1h0.01M178.8 268.2h0.01M175.8 275.2h0.01M187.7 265.3h0.01M185.6 273.7h0.01M178.8 269.8h0.01M179.8 269.0h0.01M180.5 268.1h0.01M183.6 265.9h0.01M189.3 271.7h0.01M189.4 285.3h0.01M187.8 283.3h0.01M183.2 272.5h0.01M186.3 273.3h0.01M178.5 269.1h0.01M183.3 266.8h0.01M182.4 283.1h0.01M186.4 275.6h0.01M182.2 287.8h0.01M179.2 270.1h0.01M186.3 267.6h0.01M181.8 267.8h0.01M184.9 276.2h0.01M183.1 269.1h0.01M185.8 276.3h0.01M179.9 274.5h0.01M176.9 275.9h0.01M185.8 268.6h0.01M178.0 270.1h0.01M177.2 270.4h0.01M177.7 281.3h0.01M179.1 272.1h0.01M179.4 267.4h0.01M188.7 273.8h0.01M186.1 266.8h0.01M183.4 275.2h0.01M188.8 263.0h0.01M175.8 276.9h0.01M180.1 277.5h0.01M181.6 265.9h0.01M175.9 270.6h0.01M179.9 285.3h0.01M188.2 274.1h0.01M178.6 280.3h0.01M180.7 279.6h0.01M178.1 277.1h0.01M183.7 271.3h0.01M179.9 271.6h0.01M186.4 266.3h0.01M180.4 266.4h0.01M186.6 268.7h0.01M182.2 273.9h0.01M177.5 268.8h0.01M184.1 279.8h0.01M188.5 263.9h0.01M176.1 271.9h0.01M178.9 271.9h0.01M187.2 272.4h0.01M182.6 268.3h0.01M178.3 271.1h0.01M181.5 265.0h0.01M178.2 270.2h0.01M176.2 277.6h0.01M177.2 279.8h0.01M183.0 277.4h0.01M186.7 279.6h0.01M184.3 265.1h0.01M177.4 278.1h0.01M186.3 270.3h0.01M188.6 272.6h0.01M181.2 265.5h0.01M180.4 265.8h0.01M188.0 276.0h0.01M183.2 264.6h0.01M177.2 269.4h0.01M186.4 266.0h0.01M184.0 279.7h0.01M189.0 279.2h0.01M186.5 266.3h0.01M180.0 269.3h0.01M181.3 267.8h0.01M176.2 269.5h0.01M181.0 267.3h0.01M182.2 266.6h0.01M179.8 271.3h0.01M176.0 274.5h0.01M176.7 269.7h0.01M185.0 271.3h0.01M189.2 263.1h0.01M188.9 280.1h0.01M185.4 266.5h0.01M184.1 284.7h0.01M188.5 270.6h0.01M183.9 265.8h0.01M179.4 284.0h0.01M188.5 274.1h0.01M176.2 280.6h0.01M189.5 265.8h0.01M178.5 279.4h0.01M188.1 266.9h0.01M183.7 278.6h0.01M181.4 265.5h0.01M175.6 275.6h0.01M176.4 268.7h0.01M177.1 268.5h0.01M187.3 266.1h0.01M176.2 271.9h0.01M182.5 270.9h0.01M177.6 273.0h0.01M186.8 278.2h0.01M187.8 271.0h0.01M179.3 276.9h0.01M182.0 268.8h0.01M183.5 265.1h0.01M182.7 270.5h0.01M189.4 275.5h0.01M175.8 276.9h0.01M180.0 279.7h0.01M181.4 283.4h0.01M188.4 269.8h0.01M187.9 266.5h0.01M185.8 266.0h0.01M179.8 268.9h0.01M178.5 271.9h0.01M183.9 266.3h0.01M177.9 275.4h0.01M187.1 265.1h0.01M189.2 278.6h0.01M178.5 280.7h0.01M185.7 266.2h0.01M184.6 266.0h0.01M182.8 269.7h0.01M188.4 267.2h0.01M184.8 268.7h0.01M182.5 267.1h0.01M183.6 278.7h0.01M181.5 272.5h0.01M181.6 270.2h0.01M180.6 273.4h0.01M181.6 273.3h0.01M189.2 279.8h0.01M175.8 271.9h0.01M181.1 272.2h0.01M183.9 272.7h0.01M178.9 285.2h0.01M187.8 263.3h0.01M179.6 272.6h0.01M180.1 282.2h0.01M188.1 264.6h0.01M179.0 276.7h0.01M185.3 265.6h0.01M182.2 272.8h0.01M178.9 268.7h0.01M187.6 264.4h0.01M177.2 272.3h0.01M189.3 266.2h0.01M182.0 278.5h0.01M176.4 271.3h0.01M176.6 270.4h0.01M184.9 270.5h0.01M188.0 263.4h0.01M184.2 279.7h0.01M183.8 271.7h0.01M179.1 267.1h0.01M185.8 278.7h0.01M178.8 275.0h0.01M183.6 273.6h0.01M181.7 266.8h0.01M178.1 270.1h0.01M180.2 266.2h0.01M188.9 272.8h0.01M184.1 279.3h0.01M181.3 269.5h0.01M184.5 273.0h0.01M176.1 280.9h0.01M183.4 277.4h0.01M179.9 270.3h0.01M188.2 269.3h0.01M179.2 271.1h0.01M179.4 268.5h0.01M177.8 277.0h0.01M181.7 265.7h0.01M177.9 278.5h0.01M177.4 278.2h0.01M180.2 273.5h0.01M186.2 271.5h0.01M182.2 272.7h0.01M186.4 264.0h0.01M181.5 265.7h0.01M179.1 266.6h0.01M182.9 267.9h0.01M180.9 275.6h0.01M177.5 268.8h0.01M180.6 268.8h0.01M182.0 270.6h0.01M178.5 278.6h0.01M180.3 269.2h0.01M183.2 287.0h0.01M185.5 271.1h0.01M176.6 277.7h0.01M178.6 268.7h0.01M183.3 273.7h0.01M179.1 275.9h0.01M179.5 274.6h0.01M186.6 265.4h0.01M185.3 264.5h0.01M184.7 279.1h0.01M176.2 279.8h0.01M179.2 271.9h0.01M187.1 268.3h0.01M181.6 276.0h0.01M189.3 265.6h0.01M180.4 282.8h0.01M189.3 274.5h0.01M187.4 278.7h0.01M184.7 272.7h0.01M188.0 273.5h0.01M177.0 278.7h0.01M186.8 263.0h0.01M184.6 267.4h0.01M179.5 276.1h0.01M176.8 268.4h0.01M176.2 272.8h0.01M180.5 277.7h0.01M181.7 265.5h0.01M179.1 278.8h0.01M184.4 267.8h0.01M182.7 277.3h0.01M187.8 278.9h0.01M178.0 277.3h0.01M182.8 271.1h0.01M183.3 267.2h0.01M188.1 270.1h0.01M176.2 270.5h0.01M175.9 277.0h0.01M177.6 271.9h0.01M186.5 278.4h0.01M179.7 267.5h0.01M185.2 279.2h0.01M185.2 265.7h0.01M181.3 278.4h0.01M184.8 273.5h0.01M177.5 279.3h0.01M181.2 279.3h0.01M181.0 270.6h0.01M183.3 272.2h0.01M186.8 280.0h0.01M180.2 266.3h0.01M187.7 263.6h0.01M186.3 269.2h0.01M186.6 268.5h0.01M177.2 277.4h0.01M177.0 269.4h0.01M180.1 273.3h0.01M183.1 279.8h0.01M185.4 265.6h0.01M186.7 264.2h0.01M180.0 279.0h0.01M186.2 266.8h0.01M180.8 274.2h0.01M177.7 269.2h0.01M182.0 266.7h0.01M180.3 274.8h0.01M182.8 267.2h0.01M187.9 272.3h0.01M185.3 271.7h0.01M187.6 265.6h0.01M183.3 272.9h0.01M179.4 267.4h0.01M186.8 273.5h0.01M176.8 278.9h0.01M189.1 282.5h0.01M186.9 269.2h0.01M183.3 269.9h0.01M181.3 270.4h0.01M176.9 269.0h0.01M177.0 280.2h0.01M185.0 267.8h0.01M186.9 266.7h0.01M188.6 281.7h0.01M175.7 278.5h0.01M186.5 277.5h0.01M183.0 266.8h0.01M177.8 272.7h0.01M188.2 265.8h0.01M181.2 271.7h0.01M179.5 266.5h0.01M186.5 266.9h0.01M179.8 268.8h0.01M182.4 266.7h0.01M180.7 266.6h0.01M185.2 270.9h0.01M183.5 266.1h0.01M183.0 264.5h0.01M175.7 270.3h0.01M185.6 270.1h0.01M187.5 277.6h0.01M180.3 268.8h0.01M187.1 272.0h0.01M189.5 267.1h0.01M176.2 280.9h0.01M176.7 272.9h0.01M180.1 276.1h0.01M181.8 281.0h0.01M188.3 264.5h0.01M183.4 271.4h0.01M179.9 270.5h0.01M180.4 265.7h0.01M188.9 266.0h0.01M187.1 280.5h0.01M177.3 275.7h0.01M177.4 274.5h0.01M189.4 264.5h0.01M189.0 275.4h0.01M178.7 284.6h0.01M179.4 282.4h0.01M183.0 274.3h0.01M185.0 269.0h0.01M183.9 274.1h0.01M185.9 266.9h0.01M185.6 270.4h0.01M182.1 274.9h0.01M176.2 274.6h0.01M184.2 276.8h0.01M187.6 264.1h0.01M187.5 264.9h0.01M182.4 277.5h0.01M179.4 269.1h0.01M189.3 278.9h0.01M175.7 276.6h0.01M180.5 270.2h0.01M177.2 269.5h0.01M180.3 266.5h0.01M180.2 275.1h0.01M178.1 267.6h0.01M183.8 265.7h0.01M176.5 273.4h0.01M185.8 263.2h0.01M188.7 279.2h0.01M180.8 265.2h0.01M183.1 264.5h0.01M179.1 284.3h0.01M188.8 274.3h0.01M183.4 273.0h0.01M183.7 264.5h0.01M188.8 264.0h0.01M179.2 268.2h0.01M175.9 275.5h0.01M188.8 274.5h0.01M180.7 270.3h0.01M178.9 269.7h0.01M184.7 279.8h0.01M188.4 280.7h0.01M185.3 272.8h0.01M177.6 281.9h0.01M189.5 265.0h0.01M182.0 266.9h0.01M189.1 263.4h0.01M183.0 274.9h0.01M182.8 264.3h0.01M185.8 267.2h0.01M187.4 271.3h0.01M183.4 265.6h0.01M178.4 268.4h0.01M175.9 273.9h0.01M183.6 278.1h0.01M188.5 270.6h0.01M178.2 274.2h0.01M183.9 271.6h0.01M175.6 282.0h0.01M185.5 278.3h0.01M179.2 268.4h0.01M187.6 264.1h0.01M178.0 286.6h0.01M186.1 268.2h0.01M180.7 284.7h0.01M181.6 276.1h0.01M183.8 263.9h0.01M178.5 281.8h0.01M185.3 279.3h0.01M178.7 273.5h0.01M189.4 272.9h0.01M180.0 272.3h0.01M177.9 274.5h0.01M185.4 273.3h0.01M186.7 276.5h0.01M177.0 272.0h0.01M181.9 265.5h0.01M177.1 270.6h0.01M184.9 272.4h0.01M177.4 271.9h0.01M186.2 270.3h0.01M182.2 268.2h0.01M184.1 271.6h0.01M178.2 273.4h0.01M183.3 265.1h0.01M189.5 268.5h0.01M180.2 276.9h0.01M184.4 266.7h0.01M179.1 269.8h0.01M189.5 271.5h0.01M188.7 270.6h0.01M184.7 264.9h0.01M178.4 275.2h0.01M189.3 281.0h0.01M179.9 272.3h0.01M186.0 267.8h0.01M188.6 266.8h0.01M175.6 282.8h0.01M176.1 275.1h0.01M176.0 274.0h0.01M184.4 276.3h0.01M187.5 271.2h0.01M189.0 272.2h0.01M184.2 269.6h0.01M179.3 268.6h0.01M175.7 278.3h0.01M180.1 267.0h0.01M182.6 283.1h0.01M179.8 270.4h0.01M186.9 279.1h0.01M186.5 271.7h0.01M182.9 272.0h0.01M181.7 264.8h0.01M188.4 263.5h0.01M185.9 266.8h0.01M177.6 283.9h0.01M187.2 266.9h0.01M184.4 273.7h0.01M179.3 267.1h0.01M183.0 284.4h0.01M180.4 274.2h0.01M176.5 268.7h0.01M188.2 264.9h0.01M175.7 275.6h0.01M177.2 270.8h0.01M186.9 265.4h0.01M186.6 278.6h0.01M175.8 282.0h0.01M187.4 264.8h0.01M182.8 275.9h0.01M187.6 278.6h0.01M180.1 287.2h0.01M189.3 271.0h0.01M186.4 265.3h0.01M183.7 263.9h0.01M186.4 263.7h0.01M189.0 280.1h0.01M186.1 275.4h0.01M180.1 274.5h0.01M189.4 281.2h0.01M181.7 279.1h0.01M189.5 269.6h0.01M185.4 269.6h0.01M186.3 272.8h0.01M181.4 267.8h0.01M185.4 264.4h0.01M179.9 267.4h0.01M185.9 268.7h0.01M181.3 270.3h0.01M176.7 281.5h0.01M179.9 279.7h0.01M176.3 271.6h0.01M185.8 268.0h0.01M178.5 269.8h0.01M187.1 267.7h0.01M178.8 271.6h0.01M181.1 275.6h0.01M177.7 268.9h0.01M184.4 264.2h0.01M178.0 276.9h0.01M182.7 281.8h0.01M179.8 271.4h0.01M182.3 265.4h0.01M183.7 268.3h0.01M183.8 266.3h0.01M180.7 287.8h0.01M189.3 265.1h0.01M177.4 280.8h0.01M178.7 270.5h0.01M177.4 285.0h0.01M182.5 286.1h0.01M179.2 274.1h0.01M178.5 287.1h0.01M179.2 276.8h0.01M180.1 273.2h0.01M180.6 274.6h0.01M175.9 270.7h0.01M185.9 270.0h0.01M175.6 278.6h0.01M188.2 270.3h0.01M178.5 268.8h0.01M188.0 278.5h0.01M182.6 269.8h0.01M177.2 276.2h0.01M184.2 267.6h0.01M184.4 268.3h0.01M180.9 281.6h0.01M175.8 270.7h0.01M187.7 263.8h0.01M176.7 270.7h0.01M178.0 275.4h0.01M178.4 268.4h0.01M187.0 264.8h0.01M180.9 265.8h0.01M179.2 271.2h0.01M185.0 275.4h0.01M180.9 280.3h0.01M186.7 276.5h0.01M177.5 276.9h0.01M184.5 268.0h0.01M182.9 265.8h0.01M186.1 275.9h0.01M183.1 277.5h0.01M179.0 279.3h0.01M176.7 276.0h0.01M188.0 267.1h0.01M176.8 278.3h0.01M183.9 269.9h0.01M176.0 281.9h0.01M183.5 268.9h0.01M176.7 270.6h0.01M179.0 271.2h0.01M183.0 273.5h0.01M188.8 271.4h0.01M181.5 270.6h0.01M187.3 262.8h0.01M186.3 269.1h0.01M185.6 267.7h0.01M189.0 262.9h0.01M186.2 275.7h0.01M183.5 271.5h0.01M178.8 268.9h0.01M178.7 269.9h0.01M182.4 272.0h0.01M185.5 266.5h0.01M189.4 262.5h0.01M186.8 274.4h0.01M184.9 270.1h0.01M188.7 270.4h0.01M180.6 284.1h0.01M182.2 270.4h0.01M179.9 280.3h0.01M182.4 281.2h0.01M178.0 273.8h0.01M180.5 271.7h0.01M183.0 272.5h0.01M177.5 285.1h0.01M183.4 264.2h0.01M179.5 274.5h0.01M180.1 268.6h0.01M182.5 266.7h0.01M175.7 280.9h0.01M178.5 274.7h0.01M181.2 273.2h0.01M189.1 270.6h0.01M183.6 264.2h0.01M184.6 268.6h0.01M187.2 272.8h0.01M176.1 269.3h0.01M183.1 269.3h0.01M176.5 271.0h0.01M180.8 269.4h0.01M179.6 266.9h0.01M180.7 275.5h0.01M188.1 275.4h0.01M179.4 272.4h0.01M189.3 278.7h0.01M178.5 269.0h0.01M176.6 275.0h0.01M186.5 266.5h0.01M186.7 278.8h0.01M188.0 272.2h0.01M187.0 270.2h0.01M188.0 269.9h0.01M179.2 279.1h0.01M182.5 282.3h0.01M177.9 268.6h0.01M183.6 265.4h0.01M177.7 273.4h0.01M182.1 279.7h0.01M179.3 267.1h0.01M185.7 269.7h0.01M184.1 265.2h0.01M188.9 268.0h0.01M176.3 270.0h0.01M177.9 277.4h0.01M177.5 273.1h0.01M183.7 271.0h0.01M182.2 278.6h0.01M185.6 269.3h0.01M179.9 267.6h0.01M188.7 263.5h0.01M189.3 280.8h0.01M181.0 272.2h0.01M179.2 269.1h0.01M188.2 277.9h0.01M182.7 264.6h0.01M188.0 270.4h0.01M177.1 274.2h0.01M182.8 266.6h0.01M178.2 276.5h0.01M189.3 285.1h0.01M184.1 279.9h0.01M186.1 271.2h0.01M188.5 275.3h0.01M187.8 275.2h0.01M176.3 282.0h0.01M176.7 275.4h0.01M189.2 272.2h0.01M185.6 283.0h0.01M182.8 270.1h0.01M177.0 272.6h0.01M181.8 274.1h0.01M187.2 266.7h0.01M177.3 281.1h0.01M176.3 277.7h0.01M184.5 263.8h0.01M189.1 264.2h0.01M177.3 269.9h0.01M186.2 270.3h0.01M189.5 267.9h0.01M177.3 278.2h0.01M177.4 271.9h0.01M184.3 265.2h0.01M175.7 286.2h0.01M189.2 274.3h0.01M179.3 267.7h0.01M177.2 270.0h0.01M188.1 268.5h0.01M184.1 286.1h0.01M184.1 268.5h0.01M186.4 269.5h0.01M177.2 278.1h0.01M184.7 280.5h0.01M177.1 277.6h0.01M186.7 268.9h0.01M180.6 265.8h0.01M183.7 275.5h0.01M183.5 265.5h0.01M180.7 272.6h0.01M183.7 263.9h0.01M184.5 276.9h0.01M183.7 273.7h0.01M182.2 267.8h0.01M175.9 274.3h0.01M180.0 270.5h0.01M187.0 270.2h0.01M184.4 274.2h0.01M179.2 272.2h0.01M183.0 276.1h0.01M186.3 269.8h0.01M180.6 276.1h0.01M187.3 263.9h0.01M188.7 274.7h0.01M176.6 272.3h0.01M175.9 270.4h0.01M185.1 273.0h0.01M181.8 268.4h0.01M177.8 275.1h0.01M186.6 266.9h0.01" stroke="#1ef01e" stroke-width="2.1" stroke-linecap="round" fill="none"/>
<path d="M176.1 281.5h0.01M164.1 275.0h0.01M158.1 269.4h0.01M175.7 247.8h0.01M175.1 248.0h0.01M172.3 262.9h0.01M166.2 265.1h0.01M187.5 264.1h0.01M157.2 277.5h0.01M163.5 261.8h0.01M173.6 264.6h0.01M187.2 253.6h0.01M159.9 286.7h0.01M179.8 259.8h0.01M178.3 263.6h0.01M158.2 273.9h0.01M184.2 259.6h0.01M158.5 283.2h0.01M186.5 261.8h0.01M162.4 260.7h0.01M187.1 249.9h0.01M178.0 251.9h0.01M159.9 271.6h0.01M183.4 270.2h0.01M161.8 257.1h0.01M180.0 287.7h0.01M159.1 270.0h0.01M188.1 259.0h0.01M185.5 281.4h0.01M175.8 277.5h0.01M167.9 279.1h0.01M172.1 284.9h0.01M178.4 257.9h0.01M186.5 253.4h0.01M159.5 261.3h0.01M174.7 247.3h0.01M173.1 282.8h0.01M179.9 277.9h0.01M189.0 262.1h0.01M186.4 263.9h0.01M167.7 257.3h0.01M180.1 265.2h0.01M166.0 266.9h0.01M180.3 275.2h0.01M162.2 268.3h0.01M178.4 283.6h0.01M165.9 246.1h0.01M165.8 253.2h0.01M167.0 282.5h0.01M172.9 249.7h0.01M182.3 284.8h0.01M179.9 258.9h0.01M172.7 257.2h0.01M174.0 277.4h0.01M179.7 280.2h0.01M167.1 250.3h0.01M175.5 263.2h0.01M180.1 263.9h0.01M169.6 261.5h0.01M157.8 277.0h0.01M158.4 260.7h0.01M186.6 257.6h0.01M162.2 256.5h0.01M166.3 252.0h0.01M178.2 259.5h0.01M181.2 273.5h0.01M184.2 261.9h0.01M181.7 250.8h0.01M165.3 267.4h0.01M168.8 283.0h0.01M185.5 256.4h0.01M173.0 261.8h0.01M185.6 283.4h0.01M168.7 256.4h0.01M174.4 263.7h0.01M165.5 275.5h0.01M178.8 270.2h0.01M187.5 248.5h0.01M188.6 273.0h0.01M173.8 281.5h0.01M168.7 283.1h0.01M173.4 246.6h0.01M181.8 269.2h0.01M166.0 247.5h0.01M158.8 263.3h0.01M184.9 283.5h0.01M188.0 257.9h0.01M169.7 266.7h0.01M176.8 262.5h0.01M185.3 248.8h0.01M167.7 287.6h0.01M182.4 257.9h0.01M178.3 283.2h0.01M159.5 260.5h0.01M168.9 264.7h0.01M188.7 276.8h0.01M177.7 283.9h0.01M175.3 254.5h0.01M162.2 259.4h0.01M188.5 251.3h0.01M182.8 246.9h0.01M180.4 261.7h0.01M183.8 252.0h0.01M177.5 257.1h0.01M162.9 272.7h0.01M167.6 250.1h0.01M182.5 272.4h0.01M189.4 284.1h0.01M159.1 276.5h0.01M159.6 259.2h0.01M168.7 268.2h0.01M184.8 262.3h0.01M177.6 266.0h0.01M172.0 246.6h0.01M166.1 262.6h0.01M172.6 279.5h0.01M161.8 268.0h0.01M183.0 266.4h0.01M159.0 260.7h0.01M161.5 257.0h0.01M158.5 268.5h0.01M161.8 276.5h0.01M170.8 253.8h0.01M171.2 266.9h0.01M170.1 262.8h0.01M166.2 246.7h0.01M163.3 280.9h0.01M174.9 269.8h0.01M180.5 285.3h0.01M179.1 269.2h0.01M187.2 272.0h0.01M171.1 271.2h0.01M174.4 272.8h0.01M178.8 267.2h0.01M180.1 272.4h0.01M171.9 261.4h0.01M180.4 257.7h0.01M171.0 282.5h0.01M160.7 281.5h0.01M163.1 278.8h0.01M178.6 270.2h0.01M186.6 275.0h0.01M165.1 277.7h0.01M161.8 262.5h0.01M175.9 274.2h0.01M183.4 256.8h0.01M171.0 259.4h0.01M178.4 266.0h0.01M160.1 274.5h0.01M187.8 268.8h0.01M177.8 282.4h0.01M182.2 249.9h0.01M169.2 268.9h0.01M173.7 274.1h0.01M163.9 280.8h0.01M179.4 263.2h0.01M188.1 246.4h0.01M185.5 247.0h0.01M184.3 286.4h0.01M161.3 254.9h0.01M185.5 259.1h0.01M177.2 266.2h0.01M170.9 279.3h0.01M174.9 273.1h0.01M161.0 258.3h0.01M175.7 249.5h0.01M166.6 260.6h0.01M166.1 251.1h0.01M163.9 260.4h0.01M175.1 270.9h0.01" stroke="#3ad93a" stroke-width="2.1" stroke-linecap="round" fill="none"/>
<path d="M238.3 272.3h0.01M242.1 269.2h0.01M239.4 278.1h0.01M240.2 268.6h0.01M239.6 270.4h0.01M237.9 281.3h0.01M243.6 274.0h0.01M238.6 272.5h0.01M245.6 276.8h0.01M242.3 274.4h0.01M241.9 283.4h0.01M245.1 274.1h0.01M240.6 276.1h0.01M239.2 266.8h0.01M244.7 276.4h0.01M242.7 272.7h0.01M239.3 283.8h0.01M243.8 279.9h0.01M242.4 285.2h0.01M237.8 278.6h0.01M243.2 272.2h0.01M246.0 274.1h0.01M242.0 285.6h0.01M245.7 275.7h0.01M244.9 284.1h0.01M244.7 275.0h0.01M239.5 273.7h0.01M238.3 270.9h0.01M239.5 269.5h0.01M239.1 269.6h0.01M242.8 270.9h0.01M245.7 278.3h0.01M243.4 275.3h0.01M245.2 271.7h0.01M244.1 273.0h0.01M239.9 267.3h0.01M245.8 271.3h0.01M240.5 268.4h0.01M243.4 269.9h0.01M244.4 275.1h0.01M241.0 268.9h0.01M243.2 273.2h0.01M245.0 284.7h0.01M237.8 272.6h0.01M238.5 267.7h0.01M238.4 267.3h0.01M239.5 279.6h0.01M244.0 272.1h0.01M241.1 271.4h0.01M242.3 268.1h0.01M241.9 272.5h0.01M241.5 274.2h0.01M243.5 281.1h0.01M243.5 269.1h0.01M244.1 273.7h0.01M240.6 280.9h0.01M238.4 271.5h0.01M245.1 271.2h0.01M239.2 268.9h0.01M244.4 274.8h0.01M244.9 279.8h0.01M240.5 272.3h0.01M243.8 274.7h0.01M240.2 267.8h0.01M240.9 273.8h0.01M239.5 272.5h0.01M243.6 275.9h0.01M243.2 273.8h0.01M237.7 266.4h0.01M240.1 271.7h0.01M245.7 279.8h0.01M238.2 277.5h0.01M238.9 267.7h0.01M242.0 283.5h0.01M239.9 272.2h0.01M239.1 275.4h0.01M245.3 275.9h0.01M239.6 270.9h0.01M238.6 271.8h0.01M243.1 281.7h0.01M242.3 276.2h0.01M243.9 272.7h0.01M245.3 274.0h0.01M239.2 278.1h0.01M243.6 270.4h0.01M238.2 273.4h0.01M240.0 272.8h0.01M245.0 274.2h0.01M243.9 271.1h0.01M240.0 270.7h0.01M240.8 273.0h0.01M242.1 271.0h0.01M239.1 267.8h0.01M239.0 275.3h0.01M244.8 269.9h0.01M240.7 267.2h0.01M238.0 266.4h0.01M239.3 283.6h0.01M244.1 280.0h0.01M244.0 286.5h0.01M238.7 274.4h0.01M238.4 272.5h0.01M240.6 269.4h0.01M241.8 267.6h0.01M244.8 280.1h0.01M245.4 271.3h0.01M242.4 272.9h0.01M239.1 275.1h0.01M239.5 277.9h0.01M242.8 276.2h0.01M244.1 273.4h0.01M244.6 282.2h0.01M244.8 274.7h0.01M243.0 277.8h0.01M243.5 275.2h0.01M243.7 273.0h0.01M238.8 275.5h0.01M244.0 285.5h0.01M243.0 273.0h0.01M243.7 276.5h0.01M241.7 273.2h0.01M244.0 282.5h0.01M241.9 277.0h0.01M242.6 277.3h0.01M239.4 277.0h0.01M245.2 276.9h0.01M245.1 272.4h0.01M239.9 271.5h0.01M237.7 266.7h0.01M243.0 280.9h0.01M242.0 273.1h0.01M243.3 277.0h0.01M245.3 273.8h0.01M238.3 268.0h0.01M245.1 277.7h0.01M243.6 269.9h0.01M245.1 283.0h0.01M244.7 278.5h0.01M244.4 272.3h0.01M241.6 268.1h0.01M244.4 269.4h0.01M245.7 274.7h0.01M243.8 272.1h0.01M241.0 272.7h0.01M241.9 277.9h0.01M239.8 268.0h0.01M244.8 272.5h0.01M243.4 273.7h0.01M242.5 271.2h0.01M237.7 272.9h0.01M245.8 279.9h0.01M241.6 281.8h0.01M239.8 268.2h0.01M237.9 268.2h0.01M244.4 270.5h0.01M239.8 267.0h0.01M240.8 273.3h0.01M245.7 275.0h0.01M243.4 281.1h0.01M237.7 276.2h0.01M238.5 267.9h0.01M239.8 266.7h0.01M243.4 279.0h0.01M243.6 276.7h0.01M242.1 282.0h0.01M244.7 271.5h0.01M242.5 270.9h0.01M240.5 279.9h0.01M240.4 269.3h0.01M242.4 280.1h0.01M239.7 272.6h0.01M237.8 283.0h0.01M241.4 279.9h0.01M245.1 281.2h0.01M244.0 270.8h0.01M240.3 271.8h0.01M246.0 274.5h0.01M240.9 267.0h0.01M239.8 266.8h0.01M240.3 273.6h0.01M240.3 270.4h0.01M245.1 272.9h0.01M239.2 266.3h0.01M243.7 274.0h0.01M244.8 281.7h0.01M242.7 270.0h0.01M244.2 272.3h0.01M238.2 272.4h0.01M239.9 270.8h0.01M241.0 273.3h0.01M242.2 272.0h0.01M245.1 278.1h0.01M240.0 278.2h0.01M238.6 267.6h0.01M245.4 281.4h0.01M240.7 267.6h0.01M244.9 270.1h0.01M246.0 278.4h0.01M238.2 276.5h0.01M241.9 285.4h0.01M239.8 272.7h0.01M243.4 279.9h0.01M238.7 274.9h0.01M238.4 279.8h0.01M238.5 268.2h0.01M245.1 284.1h0.01M244.4 270.8h0.01M243.1 276.7h0.01M244.6 282.4h0.01M238.0 266.5h0.01M239.5 267.1h0.01M244.0 283.6h0.01M238.4 270.1h0.01M238.9 269.9h0.01M243.3 278.1h0.01M241.7 277.9h0.01M245.0 273.4h0.01M243.5 272.4h0.01M238.2 267.2h0.01M244.2 274.2h0.01M242.6 273.5h0.01M244.0 273.8h0.01M240.0 272.1h0.01M239.4 286.6h0.01M242.0 268.7h0.01M243.7 278.7h0.01M241.9 271.9h0.01M242.5 273.9h0.01M241.9 270.6h0.01M245.1 274.8h0.01M244.3 272.3h0.01M238.7 276.3h0.01M240.3 274.7h0.01M241.8 276.3h0.01M246.0 273.4h0.01M240.8 269.9h0.01M245.4 280.6h0.01M242.9 268.4h0.01M240.8 268.0h0.01M244.4 277.1h0.01M238.9 268.2h0.01M241.1 275.1h0.01M241.6 270.0h0.01M245.2 270.9h0.01M244.1 279.7h0.01M240.8 286.3h0.01M239.3 274.8h0.01M239.1 272.5h0.01M238.8 270.0h0.01M241.1 277.0h0.01M243.4 276.4h0.01M237.9 267.7h0.01M244.0 270.1h0.01M240.1 276.4h0.01M243.5 280.1h0.01M245.8 274.0h0.01M242.3 283.1h0.01M240.0 273.5h0.01M245.9 281.2h0.01M242.6 282.0h0.01M245.8 273.1h0.01M244.5 271.8h0.01M239.2 276.8h0.01M238.0 271.3h0.01M238.3 277.9h0.01M239.1 267.0h0.01M244.3 277.6h0.01M245.8 280.9h0.01M238.8 274.0h0.01M244.4 281.8h0.01M244.3 273.9h0.01M244.4 276.8h0.01M238.0 280.6h0.01M243.7 273.9h0.01M244.1 279.1h0.01M240.0 277.6h0.01M244.8 272.5h0.01M239.0 269.1h0.01M238.0 272.6h0.01M239.8 268.9h0.01M243.7 271.8h0.01M239.3 283.2h0.01M243.0 271.2h0.01M237.7 267.7h0.01M245.2 277.0h0.01M242.0 271.1h0.01M245.4 273.7h0.01M242.0 269.7h0.01M241.8 284.0h0.01M242.3 274.4h0.01M240.5 274.1h0.01M239.5 275.4h0.01M243.9 269.9h0.01M241.5 268.6h0.01M238.7 271.9h0.01M243.9 270.9h0.01M240.9 278.8h0.01M245.7 274.4h0.01M243.1 276.0h0.01M238.6 271.1h0.01M241.1 267.9h0.01M243.2 270.7h0.01M242.4 270.2h0.01M238.8 266.1h0.01M242.5 272.1h0.01M239.2 281.0h0.01M243.6 271.3h0.01M243.3 277.6h0.01M241.7 269.6h0.01M243.0 269.0h0.01M238.4 268.5h0.01M237.8 270.3h0.01M242.1 282.0h0.01M241.2 270.5h0.01M245.0 282.7h0.01M241.9 269.4h0.01M238.6 267.2h0.01M245.6 277.5h0.01M239.4 279.2h0.01M239.5 273.5h0.01M243.6 269.2h0.01M242.4 268.1h0.01M241.2 270.7h0.01M237.7 273.3h0.01M237.8 279.5h0.01M244.5 281.4h0.01M240.2 272.0h0.01M242.1 284.2h0.01M238.6 269.7h0.01M241.1 281.2h0.01M241.7 274.9h0.01M246.1 284.2h0.01M239.2 281.6h0.01M242.3 267.9h0.01M244.2 281.3h0.01M242.2 275.3h0.01M245.9 273.5h0.01M242.7 277.4h0.01M241.3 272.4h0.01M240.8 271.7h0.01M238.4 273.3h0.01M246.0 277.0h0.01M241.9 269.9h0.01M244.5 271.9h0.01M240.9 269.8h0.01M239.3 270.6h0.01M237.8 277.8h0.01M239.1 274.6h0.01M243.9 285.1h0.01M245.0 282.2h0.01M245.6 271.1h0.01M242.8 269.5h0.01M245.6 276.1h0.01M244.9 284.5h0.01M244.2 272.6h0.01M244.2 280.3h0.01M238.4 271.7h0.01M242.8 271.1h0.01M239.2 271.2h0.01M245.8 279.1h0.01M244.6 269.8h0.01M243.3 274.6h0.01M241.2 273.2h0.01M238.7 281.6h0.01M240.0 278.5h0.01M245.2 277.0h0.01M245.0 274.2h0.01M245.2 271.1h0.01M243.6 274.7h0.01M239.7 271.4h0.01M240.3 268.3h0.01M238.0 270.1h0.01M240.5 273.7h0.01M242.2 267.7h0.01M246.0 277.6h0.01M245.7 271.1h0.01M242.1 272.2h0.01M239.3 268.4h0.01M241.7 269.7h0.01M245.4 273.9h0.01M243.5 273.3h0.01M238.8 272.7h0.01M238.2 278.1h0.01M245.9 277.2h0.01M238.8 273.1h0.01M238.2 270.5h0.01M239.6 277.4h0.01M243.0 268.8h0.01M237.8 269.2h0.01M242.5 273.5h0.01M241.2 285.7h0.01M240.6 272.2h0.01M240.5 266.6h0.01M240.5 268.2h0.01M244.5 271.3h0.01M241.8 273.0h0.01M244.8 281.4h0.01M239.5 285.4h0.01M241.8 273.6h0.01M245.7 271.3h0.01M241.1 272.7h0.01M238.5 268.7h0.01M242.0 279.1h0.01M245.0 284.1h0.01M239.3 272.5h0.01M246.0 281.4h0.01M239.9 268.6h0.01M240.5 267.3h0.01M237.8 276.7h0.01M240.3 268.1h0.01M238.5 269.7h0.01M245.1 270.3h0.01M244.4 283.6h0.01M241.7 277.8h0.01M238.7 276.7h0.01M243.8 273.2h0.01M238.7 275.8h0.01M238.2 266.8h0.01M244.0 274.6h0.01M245.7 271.0h0.01M239.4 276.5h0.01M239.3 270.4h0.01M242.7 273.1h0.01M244.2 274.0h0.01M240.3 270.2h0.01M245.6 284.0h0.01M241.7 279.8h0.01M243.9 275.1h0.01M244.7 272.8h0.01M245.7 274.7h0.01M242.7 268.1h0.01M244.4 276.8h0.01M238.5 266.9h0.01M238.2 266.8h0.01M245.5 273.6h0.01M245.6 274.3h0.01M243.9 273.0h0.01M239.5 281.5h0.01M243.9 274.8h0.01M238.7 271.3h0.01M239.9 276.4h0.01M245.0 273.6h0.01M243.9 270.6h0.01M241.3 273.5h0.01M241.3 275.0h0.01M244.2 270.2h0.01M240.2 269.6h0.01M239.5 286.1h0.01M243.4 270.6h0.01M240.4 266.6h0.01M243.7 276.7h0.01M244.0 270.4h0.01M238.8 267.0h0.01M241.3 276.5h0.01M240.8 272.2h0.01M242.1 276.4h0.01M238.2 270.2h0.01M243.7 271.7h0.01M241.0 268.3h0.01M237.8 279.6h0.01M237.8 271.3h0.01M242.1 277.7h0.01M242.1 286.9h0.01M238.0 266.4h0.01M245.1 283.0h0.01M243.2 273.6h0.01M242.2 269.1h0.01M243.0 268.7h0.01M243.4 269.2h0.01M238.6 268.0h0.01M240.3 267.3h0.01M244.3 269.5h0.01M244.0 275.7h0.01M242.1 269.6h0.01M238.1 271.5h0.01M242.4 270.6h0.01M240.5 271.0h0.01M243.8 275.8h0.01M243.4 269.3h0.01M240.8 272.2h0.01M241.7 268.8h0.01M239.9 275.9h0.01M241.0 270.6h0.01M239.0 266.3h0.01M241.9 270.1h0.01M241.1 284.3h0.01M240.9 271.6h0.01M238.4 266.2h0.01M242.6 273.9h0.01M237.9 276.6h0.01M240.5 270.5h0.01M239.1 272.4h0.01M239.9 271.4h0.01M243.4 273.6h0.01M244.0 272.7h0.01M238.4 269.9h0.01M241.7 269.7h0.01M245.5 277.3h0.01M244.8 278.9h0.01M243.1 286.6h0.01M244.6 275.3h0.01M241.5 272.9h0.01M240.8 277.3h0.01M243.5 272.3h0.01M238.1 276.0h0.01M245.5 278.4h0.01M240.1 271.3h0.01M240.8 267.2h0.01M245.9 281.6h0.01M239.5 278.5h0.01M241.4 276.4h0.01M243.3 269.4h0.01M238.3 284.2h0.01M238.6 275.3h0.01M238.8 273.2h0.01M240.7 269.6h0.01M245.8 271.0h0.01M241.2 270.8h0.01M238.8 270.6h0.01M245.1 271.0h0.01M238.8 278.6h0.01M245.2 273.0h0.01M244.1 282.8h0.01M242.9 284.8h0.01M243.9 270.8h0.01M240.4 287.0h0.01M243.8 268.8h0.01M242.9 275.5h0.01M240.4 268.5h0.01M245.8 277.3h0.01M239.5 266.3h0.01M241.2 273.6h0.01M240.3 269.5h0.01M245.9 276.1h0.01M244.8 276.1h0.01M241.2 269.0h0.01M245.8 273.0h0.01M243.6 270.2h0.01M245.4 270.8h0.01M242.1 274.8h0.01M237.7 271.6h0.01M240.6 288.0h0.01M246.0 278.3h0.01M245.5 285.8h0.01M240.7 268.9h0.01M243.3 271.7h0.01M241.8 281.3h0.01M244.6 271.8h0.01M241.7 272.1h0.01M244.4 274.6h0.01M241.7 273.1h0.01M243.8 271.4h0.01M240.5 268.9h0.01M240.8 270.3h0.01M240.8 267.7h0.01M245.6 272.5h0.01M240.9 274.9h0.01M241.3 271.3h0.01M237.9 271.4h0.01M245.5 283.3h0.01M245.2 274.2h0.01M246.0 273.5h0.01M243.7 271.1h0.01M241.2 280.3h0.01M244.8 270.9h0.01M243.7 278.6h0.01M241.9 272.8h0.01M240.7 272.7h0.01M241.5 267.3h0.01M242.9 268.3h0.01M245.3 280.2h0.01M244.1 276.0h0.01M242.7 272.6h0.01M243.9 277.1h0.01M243.4 275.7h0.01M244.2 274.5h0.01M243.1 268.2h0.01M240.0 286.6h0.01M245.2 274.8h0.01M243.1 269.8h0.01M245.1 276.6h0.01M246.0 277.1h0.01M243.8 270.3h0.01M240.7 273.8h0.01M240.7 275.1h0.01M241.1 268.4h0.01M238.2 266.1h0.01M244.3 273.7h0.01M243.1 276.7h0.01M244.1 270.2h0.01M240.9 272.6h0.01M239.5 276.6h0.01M244.8 273.2h0.01M241.4 270.9h0.01M239.2 286.8h0.01M240.7 271.5h0.01M239.2 271.6h0.01M240.4 276.5h0.01M243.9 276.1h0.01M243.9 271.3h0.01M240.8 284.0h0.01M244.7 274.1h0.01M242.5 271.0h0.01M242.3 268.5h0.01M237.7 266.3h0.01M242.8 274.8h0.01M245.3 271.2h0.01M242.7 286.0h0.01M242.9 274.8h0.01M242.5 269.4h0.01M238.8 267.7h0.01M240.3 276.7h0.01M238.0 280.3h0.01M239.9 271.9h0.01M245.6 280.4h0.01M240.1 274.4h0.01M243.0 275.8h0.01M243.3 280.0h0.01M238.0 270.9h0.01M243.7 280.6h0.01M238.1 269.7h0.01M238.2 266.8h0.01M243.5 279.8h0.01M241.1 282.7h0.01M238.4 274.5h0.01M245.0 270.8h0.01M244.0 272.5h0.01M242.6 273.2h0.01M243.2 273.7h0.01M241.0 268.5h0.01M240.2 273.8h0.01M243.4 268.7h0.01M240.6 273.5h0.01M241.0 277.8h0.01M240.6 268.9h0.01M239.2 272.5h0.01M240.0 271.3h0.01M244.2 281.2h0.01M241.7 278.5h0.01M243.1 271.4h0.01M239.5 277.0h0.01M240.2 275.2h0.01M245.2 271.2h0.01M244.3 275.9h0.01M241.5 278.1h0.01M241.5 267.6h0.01M238.4 273.7h0.01M239.3 267.8h0.01M240.2 272.6h0.01M238.1 269.5h0.01M242.0 269.4h0.01M243.7 271.2h0.01M239.9 276.7h0.01M242.7 283.2h0.01M245.5 273.0h0.01M241.8 275.1h0.01M238.3 271.3h0.01M244.2 281.2h0.01M238.5 269.6h0.01M241.6 269.3h0.01M241.1 267.0h0.01M245.0 277.4h0.01M242.2 272.0h0.01M241.4 268.9h0.01M243.6 270.3h0.01M239.8 272.2h0.01M242.2 272.1h0.01M237.8 268.0h0.01M241.4 279.2h0.01M244.8 274.2h0.01M243.9 271.3h0.01M242.9 268.8h0.01M238.1 274.8h0.01M239.0 270.3h0.01M239.5 284.1h0.01M238.8 278.3h0.01M242.2 273.8h0.01M241.6 285.6h0.01M242.1 277.2h0.01M238.4 282.4h0.01M238.9 273.7h0.01M239.1 272.7h0.01M239.0 269.0h0.01M245.0 277.4h0.01M238.3 266.4h0.01M238.4 270.0h0.01M244.0 274.5h0.01M245.2 280.8h0.01M243.7 269.5h0.01M245.2 271.5h0.01M241.3 272.6h0.01M244.8 276.4h0.01M239.8 283.9h0.01M239.4 279.3h0.01M245.5 277.9h0.01M240.6 266.9h0.01M243.5 274.8h0.01M238.5 274.3h0.01M240.1 266.9h0.01M241.2 267.2h0.01M239.9 283.0h0.01M245.2 282.9h0.01M244.3 273.3h0.01M240.0 268.1h0.01M241.3 267.1h0.01M242.3 268.1h0.01M245.5 276.9h0.01M243.5 271.2h0.01M243.2 284.9h0.01M243.4 270.8h0.01M239.3 280.8h0.01M238.2 271.4h0.01M238.5 267.7h0.01M241.1 266.9h0.01M243.8 275.1h0.01M239.2 273.3h0.01M242.8 269.2h0.01M245.2 277.5h0.01M237.8 269.8h0.01M243.4 272.0h0.01M244.4 271.1h0.01M242.9 269.8h0.01M238.7 266.6h0.01M243.3 281.6h0.01M239.1 270.2h0.01M240.2 267.1h0.01M240.0 272.5h0.01M241.9 267.9h0.01M240.2 267.6h0.01M243.7 273.2h0.01M245.6 271.6h0.01M244.0 273.6h0.01M238.0 277.1h0.01M243.1 280.8h0.01M243.1 275.9h0.01M240.9 268.6h0.01M244.7 272.0h0.01M241.4 272.3h0.01M245.9 271.6h0.01M242.8 282.0h0.01M245.2 284.0h0.01M238.6 269.9h0.01M239.3 268.9h0.01M243.4 279.6h0.01M245.3 270.3h0.01M243.2 268.4h0.01M244.4 274.8h0.01M244.6 270.1h0.01M243.5 282.0h0.01M240.8 269.9h0.01M240.7 278.8h0.01M241.5 279.7h0.01M241.6 281.0h0.01M243.8 278.7h0.01M245.5 282.0h0.01M243.0 271.8h0.01M239.3 270.4h0.01M242.3 271.7h0.01M239.2 272.5h0.01M244.7 273.3h0.01M239.7 275.0h0.01M245.1 283.6h0.01M241.7 272.7h0.01M241.3 287.1h0.01M238.5 267.7h0.01M241.5 276.2h0.01M241.5 282.9h0.01M238.3 267.8h0.01M244.0 279.2h0.01M240.3 281.6h0.01M240.3 272.1h0.01M244.0 274.1h0.01M244.8 269.7h0.01M242.4 283.5h0.01M238.8 269.8h0.01M238.7 267.1h0.01M238.1 282.5h0.01M246.0 277.0h0.01M242.3 272.0h0.01M238.6 274.8h0.01M240.8 269.5h0.01M244.2 272.1h0.01M239.2 272.7h0.01M245.4 280.3h0.01M240.6 270.9h0.01M246.0 285.3h0.01M243.5 274.4h0.01M242.1 269.0h0.01M238.5 270.7h0.01M240.3 269.1h0.01M243.7 275.2h0.01M238.9 268.7h0.01M243.5 273.1h0.01M243.9 269.3h0.01M239.7 269.7h0.01M244.4 278.0h0.01M245.3 277.7h0.01M245.7 274.6h0.01M245.8 271.9h0.01M244.2 276.2h0.01M241.5 271.7h0.01M244.4 275.6h0.01M245.2 279.4h0.01M242.0 279.7h0.01M239.1 275.7h0.01M238.1 271.0h0.01M242.9 275.0h0.01M244.4 273.9h0.01M243.4 281.9h0.01M240.4 284.7h0.01M239.0 267.7h0.01M238.8 270.8h0.01M240.8 270.3h0.01M245.0 271.4h0.01M245.8 271.1h0.01M241.0 266.9h0.01M244.1 277.6h0.01M240.4 272.1h0.01M244.8 281.9h0.01M245.2 273.2h0.01M242.6 274.7h0.01M240.9 274.0h0.01M243.7 274.8h0.01M243.7 269.8h0.01M238.4 284.8h0.01M245.6 280.0h0.01M244.5 275.8h0.01M239.5 285.5h0.01M241.3 271.4h0.01M238.1 285.6h0.01M240.1 267.6h0.01M244.0 277.9h0.01M241.0 273.9h0.01M243.6 277.2h0.01M240.6 272.5h0.01M239.6 273.3h0.01M243.9 274.1h0.01M238.1 274.5h0.01M242.5 277.8h0.01M240.9 271.8h0.01M240.7 278.4h0.01M245.0 283.1h0.01M245.3 282.2h0.01M242.3 272.6h0.01M241.1 271.0h0.01M245.1 277.5h0.01M238.2 277.6h0.01M245.0 273.8h0.01M244.0 275.7h0.01M240.4 269.9h0.01" stroke="#f51010" stroke-width="2.1" stroke-linecap="round" fill="none"/>
<path d="M250.6 284.9h0.01M253.3 272.4h0.01M239.7 277.9h0.01M240.3 279.6h0.01M253.9 284.5h0.01M246.2 268.9h0.01M239.0 280.9h0.01M247.9 265.5h0.01M238.3 277.1h0.01M238.8 284.1h0.01M241.3 278.8h0.01M240.9 281.6h0.01M243.7 284.0h0.01M243.4 277.4h0.01M248.1 282.6h0.01M247.6 267.5h0.01M238.5 267.5h0.01M244.8 287.3h0.01M242.1 273.5h0.01M242.0 278.5h0.01M242.6 258.5h0.01M250.1 277.6h0.01M249.1 277.4h0.01M243.6 266.9h0.01M253.9 278.7h0.01M255.6 264.3h0.01M242.2 262.5h0.01M245.3 266.9h0.01M245.3 263.7h0.01M253.9 273.9h0.01M254.8 276.6h0.01M238.7 263.5h0.01M247.5 288.1h0.01M242.1 277.8h0.01M250.3 288.1h0.01M250.4 285.6h0.01M237.7 281.0h0.01M242.6 278.0h0.01M249.5 276.8h0.01M239.5 283.4h0.01M238.3 279.3h0.01M254.7 287.9h0.01M253.2 273.2h0.01M251.2 278.9h0.01M241.8 264.5h0.01M238.7 274.7h0.01M239.7 269.0h0.01M238.3 277.4h0.01M247.5 279.1h0.01M257.3 273.9h0.01M247.3 265.7h0.01M247.2 276.9h0.01M243.2 268.4h0.01M244.4 284.9h0.01M241.2 281.9h0.01M251.8 287.5h0.01M240.8 267.9h0.01M257.5 265.3h0.01M243.5 286.6h0.01M249.8 275.1h0.01M249.9 283.3h0.01M254.8 263.1h0.01M240.1 276.7h0.01M245.9 271.1h0.01M243.8 280.8h0.01M241.5 279.5h0.01M256.7 274.2h0.01M238.0 267.2h0.01M260.6 274.9h0.01M239.5 275.2h0.01M240.4 268.6h0.01M241.8 280.5h0.01M249.2 272.3h0.01M242.1 267.4h0.01M247.7 278.2h0.01M246.7 270.0h0.01M248.8 282.7h0.01M242.1 288.1h0.01M245.8 281.5h0.01M240.1 287.1h0.01M249.6 267.1h0.01M242.7 268.1h0.01M254.9 267.6h0.01M249.3 273.9h0.01M260.0 272.0h0.01M239.4 270.7h0.01M245.9 273.8h0.01M249.9 287.4h0.01M243.1 279.6h0.01M244.0 287.3h0.01M246.5 263.1h0.01M244.1 284.1h0.01M244.2 278.9h0.01M253.9 259.1h0.01M241.9 273.8h0.01M251.8 276.2h0.01M259.6 272.2h0.01M250.3 284.9h0.01M241.3 280.7h0.01M238.0 275.1h0.01M241.6 287.6h0.01M249.0 277.4h0.01M243.8 285.1h0.01M256.4 258.0h0.01M238.6 284.5h0.01M244.9 275.5h0.01M246.3 283.8h0.01M241.5 268.9h0.01M241.9 284.0h0.01M244.0 281.2h0.01M241.0 282.0h0.01M244.5 285.0h0.01M249.2 287.4h0.01M252.8 277.7h0.01M238.7 270.4h0.01M257.1 275.1h0.01M246.8 282.6h0.01M238.0 278.7h0.01M242.4 282.6h0.01M250.1 284.7h0.01M239.5 267.8h0.01M240.5 261.5h0.01M243.8 282.7h0.01M244.5 271.2h0.01M237.9 282.4h0.01M247.3 265.6h0.01M250.2 284.4h0.01M254.0 264.6h0.01M241.1 272.7h0.01M255.5 268.9h0.01M238.5 276.3h0.01M245.4 287.8h0.01M241.8 280.4h0.01M248.4 280.0h0.01M238.1 269.5h0.01M251.5 286.9h0.01M244.6 278.8h0.01M247.6 268.2h0.01M244.1 283.1h0.01M241.4 272.2h0.01M239.7 278.8h0.01M238.0 287.0h0.01M242.5 282.9h0.01M247.5 277.3h0.01M241.6 265.4h0.01M254.1 275.2h0.01M247.7 259.7h0.01M240.6 265.8h0.01M251.0 281.4h0.01M243.7 278.9h0.01M251.4 288.1h0.01M240.2 251.8h0.01M244.1 278.1h0.01M257.0 274.4h0.01M238.6 284.1h0.01M244.5 280.7h0.01M237.9 288.3h0.01M238.2 287.9h0.01M247.9 280.8h0.01M258.3 252.6h0.01M243.8 274.2h0.01M239.3 275.6h0.01M250.0 288.5h0.01M242.8 272.9h0.01M248.0 265.4h0.01M254.3 277.9h0.01M251.6 272.2h0.01M246.8 285.7h0.01M242.2 282.6h0.01M242.9 260.9h0.01M245.3 269.3h0.01M246.1 282.7h0.01M238.9 286.4h0.01M244.8 284.7h0.01M245.8 273.6h0.01M242.3 277.5h0.01M247.5 287.0h0.01M244.3 279.1h0.01M238.4 274.6h0.01M256.2 285.0h0.01M237.9 280.3h0.01M243.0 278.7h0.01M245.8 287.9h0.01M241.6 287.0h0.01M238.2 281.4h0.01M249.9 271.1h0.01M243.8 271.3h0.01M246.9 270.5h0.01M246.9 265.1h0.01M242.5 254.2h0.01M244.2 284.1h0.01M243.9 281.7h0.01M241.2 266.9h0.01M239.7 287.6h0.01M247.2 270.7h0.01M237.8 269.5h0.01M248.1 284.9h0.01M250.9 284.1h0.01M243.1 269.5h0.01M249.8 288.2h0.01M255.0 286.8h0.01M243.8 287.6h0.01M243.4 287.7h0.01M256.1 257.2h0.01M240.5 279.3h0.01M241.7 286.1h0.01M245.4 271.4h0.01M240.3 279.9h0.01M256.3 277.9h0.01M241.8 251.8h0.01M260.2 273.0h0.01M250.8 256.5h0.01M241.3 277.6h0.01M239.9 284.6h0.01M259.0 271.6h0.01M247.8 281.3h0.01M240.7 277.3h0.01M240.1 258.3h0.01M256.9 283.3h0.01M255.3 282.4h0.01M238.6 280.4h0.01M247.5 272.4h0.01M239.5 263.1h0.01M246.6 261.7h0.01M256.7 287.1h0.01M247.0 279.5h0.01M241.0 271.9h0.01M241.8 263.2h0.01M243.6 282.1h0.01M250.0 264.7h0.01M248.2 271.2h0.01M241.0 260.3h0.01M256.2 276.2h0.01M250.7 256.7h0.01M241.9 287.0h0.01M243.5 287.1h0.01M247.7 263.2h0.01M249.3 280.6h0.01M251.4 276.6h0.01M254.1 277.8h0.01" stroke="#d42020" stroke-width="2.1" stroke-linecap="round" fill="none"/>
<path d="M309.7 158.5h0.01M314.6 165.8h0.01M287.3 172.8h0.01M292.7 175.6h0.01M290.5 181.7h0.01M272.0 187.9h0.01M276.7 185.1h0.01M281.4 187.3h0.01M294.8 203.0h0.01M268.2 208.6h0.01M261.8 213.2h0.01M268.2 213.5h0.01M266.7 220.3h0.01M273.9 223.9h0.01M282.0 227.1h0.01M291.0 228.2h0.01M268.2 226.7h0.01M265.0 233.0h0.01M282.0 234.1h0.01M256.5 235.2h0.01M256.5 238.4h0.01M280.5 242.0h0.01M293.3 241.6h0.01M271.4 244.8h0.01M269.2 248.0h0.01M268.2 251.6h0.01M299.0 250.5h0.01M319.3 251.6h0.01M355.5 256.5h0.01M284.2 252.2h0.01M281.4 253.3h0.01M277.8 255.8h0.01M266.0 260.7h0.01M272.0 272.0h0.01M297.6 271.8h0.01M312.5 273.5h0.01M292.3 278.8h0.01M278.2 278.8h0.01M350.2 281.6h0.01M275.6 283.1h0.01M321.4 287.4h0.01M273.5 288.0h0.01M266.7 286.3h0.01M316.1 45.4h0.01M301.3 140.7h0.01M312.8 146.9h0.01" stroke="#cc1f1f" stroke-width="2.1" stroke-linecap="round" fill="none"/>
<path d="M151.9 153.3h0.01M143.5 188.9h0.01M144.4 189.8h0.01M148.7 192.6h0.01M157.4 192.6h0.01M159.3 204.8h0.01M147.2 210.7h0.01M137.4 215.2h0.01M145.0 215.2h0.01M154.6 213.9h0.01M159.3 213.9h0.01M154.6 217.0h0.01M160.2 221.3h0.01M163.3 221.9h0.01M161.1 229.6h0.01M158.3 235.2h0.01M165.7 235.7h0.01M168.5 235.7h0.01M137.4 240.2h0.01M163.9 242.0h0.01M112.6 246.3h0.01M68.1 274.4h0.01M105.6 287.0h0.01M131.1 287.0h0.01M147.6 271.7h0.01M147.2 277.8h0.01M154.6 254.6h0.01M97.0 140.7h0.01M103.0 142.6h0.01" stroke="#3ad23a" stroke-width="2.1" stroke-linecap="round" fill="none"/>
<text x="6.1" y="357.8" font-family="Liberation Serif" font-weight="bold" font-size="20.00" fill="#111" textLength="23.1" lengthAdjust="spacingAndGlyphs" stroke="#111" stroke-width="0.35">(B)</text>
<path d="M88.90 350.20H185.00M88.90 350.20V359.40M185.00 350.20V358.10M59.40 359.40H118.30M59.40 359.40V365.30M118.30 359.40V363.60M79.40 363.60H159.40M79.40 363.60V370.20M159.40 363.60V365.30M167.10 358.10H202.80M167.10 358.10V366.00M202.80 358.10V361.40M180.40 361.40H225.20M180.40 361.40V370.00M225.20 361.40V364.10M195.10 364.10H255.20M195.10 364.10V369.50M255.20 364.10V367.50M55.75 378.29V387.70M56.02 383.90V387.70M56.28 383.07V387.70M56.02 381.47V383.90M56.28 381.47V383.07M56.02 381.47H56.28M55.75 376.41V378.29M56.15 376.41V381.47M55.75 376.41H56.15M56.60 384.28V387.70M56.93 383.85V387.70M56.60 383.47V384.28M56.93 383.47V383.85M56.60 383.47H56.93M57.29 384.68V387.70M56.77 382.98V383.47M57.29 382.98V384.68M56.77 382.98H57.29M57.72 383.50V387.70M57.03 381.20V382.98M57.72 381.20V383.50M57.03 381.20H57.72M58.06 386.13V387.70M58.34 385.80V387.70M58.06 385.18V386.13M58.34 385.18V385.80M58.06 385.18H58.34M58.61 385.48V387.70M58.20 383.86V385.18M58.61 383.86V385.48M58.20 383.86H58.61M58.87 384.33V387.70M58.40 382.54V383.86M58.87 382.54V384.33M58.40 382.54H58.87M57.38 380.17V381.20M58.64 380.17V382.54M57.38 380.17H58.64M55.95 375.37V376.41M58.01 375.37V380.17M55.95 375.37H58.01M59.25 383.51V387.70M59.62 383.87V387.70M59.89 383.81V387.70M59.62 382.78V383.87M59.89 382.78V383.81M59.62 382.78H59.89M59.25 381.61V383.51M59.75 381.61V382.78M59.25 381.61H59.75M60.27 387.07V387.70M60.61 387.05V387.70M60.27 386.59V387.07M60.61 386.59V387.05M60.27 386.59H60.61M60.79 386.28V387.70M60.44 386.04V386.59M60.79 386.04V386.28M60.44 386.04H60.79M61.03 386.56V387.70M61.31 386.24V387.70M61.03 385.97V386.56M61.31 385.97V386.24M61.03 385.97H61.31M60.62 384.83V386.04M61.17 384.83V385.97M60.62 384.83H61.17M61.53 386.68V387.70M61.70 387.12V387.70M62.01 386.98V387.70M61.70 386.76V387.12M62.01 386.76V386.98M61.70 386.76H62.01M61.53 386.01V386.68M61.85 386.01V386.76M61.53 386.01H61.85M62.41 385.75V387.70M61.69 385.31V386.01M62.41 385.31V385.75M61.69 385.31H62.41M60.89 383.62V384.83M62.05 383.62V385.31M60.89 383.62H62.05M59.50 380.45V381.61M61.47 380.45V383.62M59.50 380.45H61.47M62.74 378.96V387.70M62.97 383.65V387.70M63.26 382.76V387.70M62.97 381.51V383.65M63.26 381.51V382.76M62.97 381.51H63.26M63.59 382.96V387.70M63.12 380.85V381.51M63.59 380.85V382.96M63.12 380.85H63.59M62.74 376.92V378.96M63.35 376.92V380.85M62.74 376.92H63.35M60.49 375.51V380.45M63.05 375.51V376.92M60.49 375.51H63.05M56.98 369.99V375.37M61.77 369.99V375.51M56.98 369.99H61.77M63.83 384.99V387.70M64.13 386.14V387.70M64.49 386.24V387.70M64.13 385.56V386.14M64.49 385.56V386.24M64.13 385.56H64.49M64.77 384.86V387.70M64.31 384.06V385.56M64.77 384.06V384.86M64.31 384.06H64.77M63.83 383.17V384.99M64.54 383.17V384.06M63.83 383.17H64.54M65.07 385.26V387.70M65.38 385.33V387.70M65.07 384.76V385.26M65.38 384.76V385.33M65.07 384.76H65.38M65.60 384.65V387.70M65.23 383.69V384.76M65.60 383.69V384.65M65.23 383.69H65.60M65.74 385.54V387.70M66.00 385.71V387.70M65.74 384.88V385.54M66.00 384.88V385.71M65.74 384.88H66.00M66.27 384.92V387.70M65.87 383.82V384.88M66.27 383.82V384.92M65.87 383.82H66.27M65.41 382.08V383.69M66.07 382.08V383.82M65.41 382.08H66.07M64.19 381.18V383.17M65.74 381.18V382.08M64.19 381.18H65.74M66.56 383.49V387.70M66.97 384.83V387.70M67.41 385.46V387.70M67.79 385.49V387.70M67.41 385.24V385.46M67.79 385.24V385.49M67.41 385.24H67.79M68.17 385.65V387.70M67.60 384.58V385.24M68.17 384.58V385.65M67.60 384.58H68.17M66.97 383.53V384.83M67.89 383.53V384.58M66.97 383.53H67.89M66.56 381.62V383.49M67.43 381.62V383.53M66.56 381.62H67.43M64.96 380.52V381.18M66.99 380.52V381.62M64.96 380.52H66.99M68.59 384.56V387.70M68.94 384.11V387.70M68.59 383.22V384.56M68.94 383.22V384.11M68.59 383.22H68.94M69.37 381.13V387.70M68.77 379.76V383.22M69.37 379.76V381.13M68.77 379.76H69.37M65.98 378.79V380.52M69.07 378.79V379.76M65.98 378.79H69.07M69.77 380.76V387.70M70.03 382.29V387.70M69.77 380.07V380.76M70.03 380.07V382.29M69.77 380.07H70.03M70.32 380.34V387.70M69.90 378.27V380.07M70.32 378.27V380.34M69.90 378.27H70.32M70.65 383.63V387.70M70.93 382.27V387.70M70.65 381.55V383.63M70.93 381.55V382.27M70.65 381.55H70.93M71.21 381.41V387.70M70.79 380.30V381.55M71.21 380.30V381.41M70.79 380.30H71.21M71.57 380.01V387.70M71.00 378.52V380.30M71.57 378.52V380.01M71.00 378.52H71.57M70.11 375.98V378.27M71.29 375.98V378.52M70.11 375.98H71.29M67.52 371.71V378.79M70.70 371.71V375.98M67.52 371.71H70.70M59.37 365.30V369.99M69.11 365.30V371.71M59.37 365.30H69.11M59.40 365.30H64.24M72.80 370.20H85.60M72.80 370.20V376.00M85.60 370.20V373.10M72.05 382.27V387.70M72.41 385.17V387.70M72.73 385.89V387.70M73.04 385.17V387.70M72.73 384.73V385.89M73.04 384.73V385.17M72.73 384.73H73.04M72.41 384.21V385.17M72.89 384.21V384.73M72.41 384.21H72.89M73.29 383.82V387.70M72.65 383.06V384.21M73.29 383.06V383.82M72.65 383.06H73.29M72.05 380.88V382.27M72.97 380.88V383.06M72.05 380.88H72.97M73.57 384.32V387.70M73.93 383.99V387.70M73.57 382.27V384.32M73.93 382.27V383.99M73.57 382.27H73.93M72.51 378.70V380.88M73.75 378.70V382.27M72.51 378.70H73.75M74.27 384.29V387.70M74.57 384.30V387.70M74.27 383.25V384.29M74.57 383.25V384.30M74.27 383.25H74.57M74.98 384.33V387.70M75.26 384.83V387.70M75.54 384.71V387.70M75.26 382.68V384.83M75.54 382.68V384.71M75.26 382.68H75.54M74.98 381.88V384.33M75.40 381.88V382.68M74.98 381.88H75.40M74.42 380.59V383.25M75.19 380.59V381.88M74.42 380.59H75.19M75.98 382.72V387.70M76.27 383.87V387.70M75.98 381.76V382.72M76.27 381.76V383.87M75.98 381.76H76.27M76.42 383.25V387.70M76.13 379.88V381.76M76.42 379.88V383.25M76.13 379.88H76.42M74.80 378.73V380.59M76.27 378.73V379.88M74.80 378.73H76.27M73.13 376.00V378.70M75.54 376.00V378.73M73.13 376.00H75.54M72.80 376.00H74.33M80.00 373.10H109.40M80.00 373.10V375.50M109.40 373.10V375.00M76.60 384.17V387.70M76.88 382.56V387.70M76.60 382.01V384.17M76.88 382.01V382.56M76.60 382.01H76.88M77.12 386.58V387.70M77.42 386.21V387.70M77.12 385.96V386.58M77.42 385.96V386.21M77.12 385.96H77.42M77.77 385.61V387.70M77.27 384.74V385.96M77.77 384.74V385.61M77.27 384.74H77.77M78.02 385.12V387.70M77.52 383.24V384.74M78.02 383.24V385.12M77.52 383.24H78.02M76.74 381.34V382.01M77.77 381.34V383.24M76.74 381.34H77.77M78.30 385.30V387.70M78.60 384.80V387.70M78.30 383.51V385.30M78.60 383.51V384.80M78.30 383.51H78.60M78.96 383.98V387.70M79.31 385.99V387.70M79.60 385.56V387.70M79.31 384.99V385.99M79.60 384.99V385.56M79.31 384.99H79.60M78.96 383.20V383.98M79.45 383.20V384.99M78.96 383.20H79.45M78.45 381.49V383.51M79.21 381.49V383.20M78.45 381.49H79.21M77.26 379.88V381.34M78.83 379.88V381.49M77.26 379.88H78.83M79.91 383.92V387.70M80.31 385.55V387.70M80.67 384.50V387.70M80.31 384.21V385.55M80.67 384.21V384.50M80.31 384.21H80.67M79.91 381.67V383.92M80.49 381.67V384.21M79.91 381.67H80.49M81.02 385.16V387.70M81.43 386.03V387.70M81.84 386.28V387.70M81.43 385.45V386.03M81.84 385.45V386.28M81.43 385.45H81.84M81.02 384.60V385.16M81.64 384.60V385.45M81.02 384.60H81.64M82.16 383.52V387.70M82.35 384.07V387.70M82.65 385.68V387.70M82.92 386.03V387.70M82.65 385.43V385.68M82.92 385.43V386.03M82.65 385.43H82.92M82.35 383.64V384.07M82.79 383.64V385.43M82.35 383.64H82.79M82.16 383.05V383.52M82.57 383.05V383.64M82.16 383.05H82.57M81.33 382.54V384.60M82.36 382.54V383.05M81.33 382.54H82.36M80.20 379.35V381.67M81.85 379.35V382.54M80.20 379.35H81.85M78.04 375.50V379.88M81.02 375.50V379.35M78.04 375.50H81.02M80.00 375.50H79.53M95.00 375.00H128.00M95.00 375.00V377.50M128.00 375.00V376.50M83.14 384.81V387.70M83.45 384.93V387.70M83.14 384.45V384.81M83.45 384.45V384.93M83.14 384.45H83.45M83.79 386.41V387.70M84.14 386.27V387.70M83.79 385.63V386.41M84.14 385.63V386.27M83.79 385.63H84.14M84.57 386.23V387.70M84.95 386.64V387.70M85.21 386.78V387.70M84.95 386.32V386.64M85.21 386.32V386.78M84.95 386.32H85.21M84.57 385.82V386.23M85.08 385.82V386.32M84.57 385.82H85.08M83.96 384.72V385.63M84.82 384.72V385.82M83.96 384.72H84.82M83.29 383.15V384.45M84.39 383.15V384.72M83.29 383.15H84.39M85.53 385.82V387.70M85.85 386.63V387.70M86.11 386.56V387.70M85.85 385.88V386.63M86.11 385.88V386.56M85.85 385.88H86.11M85.53 384.53V385.82M85.98 384.53V385.88M85.53 384.53H85.98M86.37 385.68V387.70M86.66 385.34V387.70M86.37 385.00V385.68M86.66 385.00V385.34M86.37 385.00H86.66M85.75 384.16V384.53M86.51 384.16V385.00M85.75 384.16H86.51M87.06 386.46V387.70M87.46 386.72V387.70M87.06 386.30V386.46M87.46 386.30V386.72M87.06 386.30H87.46M87.83 386.35V387.70M87.26 385.62V386.30M87.83 385.62V386.35M87.26 385.62H87.83M88.07 386.12V387.70M88.33 386.54V387.70M88.07 385.88V386.12M88.33 385.88V386.54M88.07 385.88H88.33M87.54 384.62V385.62M88.20 384.62V385.88M87.54 384.62H88.20M86.13 383.43V384.16M87.87 383.43V384.62M86.13 383.43H87.87M83.84 382.35V383.15M87.00 382.35V383.43M83.84 382.35H87.00M88.70 386.30V387.70M88.98 385.67V387.70M88.70 385.47V386.30M88.98 385.47V385.67M88.70 385.47H88.98M89.29 385.62V387.70M88.84 384.04V385.47M89.29 384.04V385.62M88.84 384.04H89.29M89.66 385.16V387.70M89.06 383.52V384.04M89.66 383.52V385.16M89.06 383.52H89.66M90.10 383.24V387.70M89.36 382.80V383.52M90.10 382.80V383.24M89.36 382.80H90.10M90.47 385.86V387.70M90.70 386.76V387.70M90.99 386.83V387.70M90.70 386.34V386.76M90.99 386.34V386.83M90.70 386.34H90.99M91.30 386.31V387.70M90.84 386.07V386.34M91.30 386.07V386.31M90.84 386.07H91.30M90.47 385.41V385.86M91.07 385.41V386.07M90.47 385.41H91.07M91.55 387.01V387.70M91.82 386.76V387.70M91.55 386.47V387.01M91.82 386.47V386.76M91.55 386.47H91.82M92.21 386.47V387.70M92.59 386.75V387.70M92.21 386.27V386.47M92.59 386.27V386.75M92.21 386.27H92.59M91.69 386.09V386.47M92.40 386.09V386.27M91.69 386.09H92.40M92.80 387.06V387.70M93.07 387.23V387.70M92.80 386.98V387.06M93.07 386.98V387.23M92.80 386.98H93.07M93.48 387.24V387.70M93.76 387.23V387.70M93.48 387.08V387.24M93.76 387.08V387.23M93.48 387.08H93.76M92.94 386.64V386.98M93.62 386.64V387.08M92.94 386.64H93.62M94.01 386.72V387.70M94.30 386.75V387.70M94.01 386.55V386.72M94.30 386.55V386.75M94.01 386.55H94.30M93.28 386.12V386.64M94.16 386.12V386.55M93.28 386.12H94.16M92.04 385.65V386.09M93.72 385.65V386.12M92.04 385.65H93.72M90.77 384.13V385.41M92.88 384.13V385.65M90.77 384.13H92.88M94.52 386.20V387.70M94.86 386.42V387.70M94.52 385.45V386.20M94.86 385.45V386.42M94.52 385.45H94.86M95.27 386.51V387.70M95.54 386.31V387.70M95.27 386.01V386.51M95.54 386.01V386.31M95.27 386.01H95.54M95.76 385.90V387.70M96.03 386.45V387.70M96.33 386.55V387.70M96.03 386.24V386.45M96.33 386.24V386.55M96.03 386.24H96.33M95.76 385.73V385.90M96.18 385.73V386.24M95.76 385.73H96.18M95.40 385.13V386.01M95.97 385.13V385.73M95.40 385.13H95.97M94.69 384.50V385.45M95.69 384.50V385.13M94.69 384.50H95.69M91.83 382.82V384.13M95.19 382.82V384.50M91.83 382.82H95.19M89.73 382.17V382.80M93.51 382.17V382.82M89.73 382.17H93.51M85.42 379.84V382.35M91.62 379.84V382.17M85.42 379.84H91.62M96.60 387.07V387.70M96.90 387.05V387.70M96.60 386.73V387.07M96.90 386.73V387.05M96.60 386.73H96.90M97.19 386.62V387.70M96.75 386.40V386.73M97.19 386.40V386.62M96.75 386.40H97.19M97.43 386.61V387.70M96.97 386.02V386.40M97.43 386.02V386.61M96.97 386.02H97.43M97.70 386.96V387.70M97.97 387.24V387.70M98.22 387.25V387.70M97.97 386.94V387.24M98.22 386.94V387.25M97.97 386.94H98.22M97.70 386.81V386.96M98.10 386.81V386.94M97.70 386.81H98.10M98.42 386.47V387.70M97.90 386.22V386.81M98.42 386.22V386.47M97.90 386.22H98.42M97.20 385.44V386.02M98.16 385.44V386.22M97.20 385.44H98.16M98.70 386.81V387.70M99.09 386.49V387.70M98.70 386.33V386.81M99.09 386.33V386.49M98.70 386.33H99.09M99.48 386.58V387.70M99.88 386.65V387.70M100.16 386.91V387.70M100.47 386.94V387.70M100.16 386.70V386.91M100.47 386.70V386.94M100.16 386.70H100.47M99.88 386.21V386.65M100.32 386.21V386.70M99.88 386.21H100.32M99.48 385.87V386.58M100.10 385.87V386.21M99.48 385.87H100.10M98.90 385.42V386.33M99.79 385.42V385.87M98.90 385.42H99.79M97.68 384.00V385.44M99.34 384.00V385.42M97.68 384.00H99.34M100.93 385.43V387.70M101.19 385.59V387.70M100.93 384.77V385.43M101.19 384.77V385.59M100.93 384.77H101.19M101.33 385.70V387.70M101.61 386.05V387.70M101.33 385.25V385.70M101.61 385.25V386.05M101.33 385.25H101.61M101.06 384.22V384.77M101.47 384.22V385.25M101.06 384.22H101.47M98.51 382.72V384.00M101.26 382.72V384.22M98.51 382.72H101.26M102.00 386.22V387.70M102.28 385.83V387.70M102.00 385.39V386.22M102.28 385.39V385.83M102.00 385.39H102.28M102.55 386.33V387.70M102.92 386.83V387.70M103.23 386.64V387.70M102.92 386.49V386.83M103.23 386.49V386.64M102.92 386.49H103.23M102.55 385.56V386.33M103.08 385.56V386.49M102.55 385.56H103.08M103.52 386.15V387.70M103.84 386.42V387.70M103.52 385.74V386.15M103.84 385.74V386.42M103.52 385.74H103.84M102.81 384.55V385.56M103.68 384.55V385.74M102.81 384.55H103.68M102.14 383.66V385.39M103.25 383.66V384.55M102.14 383.66H103.25M104.22 387.10V387.70M104.60 387.06V387.70M104.22 386.90V387.10M104.60 386.90V387.06M104.22 386.90H104.60M104.97 386.88V387.70M104.41 386.56V386.90M104.97 386.56V386.88M104.41 386.56H104.97M105.38 386.65V387.70M104.69 386.38V386.56M105.38 386.38V386.65M104.69 386.38H105.38M105.66 386.18V387.70M105.94 386.59V387.70M105.66 386.00V386.18M105.94 386.00V386.59M105.66 386.00H105.94M105.04 385.76V386.38M105.80 385.76V386.00M105.04 385.76H105.80M106.34 386.27V387.70M106.75 386.48V387.70M107.04 386.71V387.70M106.75 386.35V386.48M107.04 386.35V386.71M106.75 386.35H107.04M106.34 385.96V386.27M106.90 385.96V386.35M106.34 385.96H106.90M107.21 386.71V387.70M107.47 386.47V387.70M107.21 386.14V386.71M107.47 386.14V386.47M107.21 386.14H107.47M106.62 385.29V385.96M107.34 385.29V386.14M106.62 385.29H107.34M105.42 384.87V385.76M106.98 384.87V385.29M105.42 384.87H106.98M107.73 386.01V387.70M108.04 385.88V387.70M107.73 385.63V386.01M108.04 385.63V385.88M107.73 385.63H108.04M108.43 386.11V387.70M107.88 385.08V385.63M108.43 385.08V386.11M107.88 385.08H108.43M108.77 386.16V387.70M109.12 386.35V387.70M109.52 386.95V387.70M109.87 386.92V387.70M109.52 386.48V386.95M109.87 386.48V386.92M109.52 386.48H109.87M109.12 386.11V386.35M109.70 386.11V386.48M109.12 386.11H109.70M108.77 385.26V386.16M109.41 385.26V386.11M108.77 385.26H109.41M108.15 384.31V385.08M109.09 384.31V385.26M108.15 384.31H109.09M106.20 383.72V384.87M108.62 383.72V384.31M106.20 383.72H108.62M102.69 380.88V383.66M107.41 380.88V383.72M102.69 380.88H107.41M99.89 379.83V382.72M105.05 379.83V380.88M99.89 379.83H105.05M88.52 377.50V379.84M102.47 377.50V379.83M88.52 377.50H102.47M95.00 377.50H95.50M110.24 386.77V387.70M110.61 387.06V387.70M110.24 386.69V386.77M110.61 386.69V387.06M110.24 386.69H110.61M110.90 386.75V387.70M110.42 386.33V386.69M110.90 386.33V386.75M110.42 386.33H110.90M111.19 386.04V387.70M110.66 385.65V386.33M111.19 385.65V386.04M110.66 385.65H111.19M111.49 386.45V387.70M111.84 386.63V387.70M111.49 386.23V386.45M111.84 386.23V386.63M111.49 386.23H111.84M112.26 386.25V387.70M111.67 385.70V386.23M112.26 385.70V386.25M111.67 385.70H112.26M110.92 384.79V385.65M111.97 384.79V385.70M110.92 384.79H111.97M112.60 384.77V387.70M112.86 385.77V387.70M113.21 386.17V387.70M112.86 384.98V385.77M113.21 384.98V386.17M112.86 384.98H113.21M112.60 383.71V384.77M113.04 383.71V384.98M112.60 383.71H113.04M111.44 382.58V384.79M112.82 382.58V383.71M111.44 382.58H112.82M113.52 385.25V387.70M113.88 385.72V387.70M113.52 384.95V385.25M113.88 384.95V385.72M113.52 384.95H113.88M114.31 385.78V387.70M114.57 386.26V387.70M114.31 385.30V385.78M114.57 385.30V386.26M114.31 385.30H114.57M113.70 384.65V384.95M114.44 384.65V385.30M113.70 384.65H114.44M114.86 385.50V387.70M114.07 384.19V384.65M114.86 384.19V385.50M114.07 384.19H114.86M112.13 382.06V382.58M114.47 382.06V384.19M112.13 382.06H114.47M115.32 386.72V387.70M115.69 386.54V387.70M115.32 386.38V386.72M115.69 386.38V386.54M115.32 386.38H115.69M115.93 386.03V387.70M115.50 385.50V386.38M115.93 385.50V386.03M115.50 385.50H115.93M116.10 386.16V387.70M116.37 386.24V387.70M116.10 385.98V386.16M116.37 385.98V386.24M116.10 385.98H116.37M115.72 384.93V385.50M116.24 384.93V385.98M115.72 384.93H116.24M116.75 385.38V387.70M117.14 386.11V387.70M117.55 386.29V387.70M117.14 385.62V386.11M117.55 385.62V386.29M117.14 385.62H117.55M116.75 384.55V385.38M117.34 384.55V385.62M116.75 384.55H117.34M115.98 382.90V384.93M117.04 382.90V384.55M115.98 382.90H117.04M117.88 385.58V387.70M118.20 386.24V387.70M117.88 385.21V385.58M118.20 385.21V386.24M117.88 385.21H118.20M118.54 386.53V387.70M118.86 386.30V387.70M118.54 386.03V386.53M118.86 386.03V386.30M118.54 386.03H118.86M119.21 386.03V387.70M118.70 385.57V386.03M119.21 385.57V386.03M118.70 385.57H119.21M118.04 384.37V385.21M118.96 384.37V385.57M118.04 384.37H118.96M116.51 382.18V382.90M118.50 382.18V384.37M116.51 382.18H118.50M113.30 381.03V382.06M117.50 381.03V382.18M113.30 381.03H117.50M119.51 384.61V387.70M119.85 384.93V387.70M119.51 384.10V384.61M119.85 384.10V384.93M119.51 384.10H119.85M120.17 384.96V387.70M120.43 384.37V387.70M120.17 384.00V384.96M120.43 384.00V384.37M120.17 384.00H120.43M120.74 385.00V387.70M121.00 385.44V387.70M121.29 386.30V387.70M121.00 385.22V385.44M121.29 385.22V386.30M121.00 385.22H121.29M121.64 385.58V387.70M121.14 384.95V385.22M121.64 384.95V385.58M121.14 384.95H121.64M120.74 384.12V385.00M121.39 384.12V384.95M120.74 384.12H121.39M120.30 383.63V384.00M121.06 383.63V384.12M120.30 383.63H121.06M119.68 382.90V384.10M120.68 382.90V383.63M119.68 382.90H120.68M121.95 385.73V387.70M122.20 386.80V387.70M122.55 386.63V387.70M122.20 386.27V386.80M122.55 386.27V386.63M122.20 386.27H122.55M121.95 385.51V385.73M122.37 385.51V386.27M121.95 385.51H122.37M122.89 386.59V387.70M123.19 386.86V387.70M122.89 386.44V386.59M123.19 386.44V386.86M122.89 386.44H123.19M123.47 386.83V387.70M123.63 386.94V387.70M123.96 387.13V387.70M123.63 386.86V386.94M123.96 386.86V387.13M123.63 386.86H123.96M123.47 386.72V386.83M123.80 386.72V386.86M123.47 386.72H123.80M124.34 386.41V387.70M123.63 386.30V386.72M124.34 386.30V386.41M123.63 386.30H124.34M123.04 385.66V386.44M123.98 385.66V386.30M123.04 385.66H123.98M124.65 385.94V387.70M124.92 386.53V387.70M124.65 385.62V385.94M124.92 385.62V386.53M124.65 385.62H124.92M123.51 385.18V385.66M124.79 385.18V385.62M123.51 385.18H124.79M122.16 384.52V385.51M124.15 384.52V385.18M122.16 384.52H124.15M125.24 387.18V387.70M125.68 387.10V387.70M126.10 387.20V387.70M125.68 386.94V387.10M126.10 386.94V387.20M125.68 386.94H126.10M125.24 386.84V387.18M125.89 386.84V386.94M125.24 386.84H125.89M126.52 387.15V387.70M126.78 387.16V387.70M126.52 387.00V387.15M126.78 387.00V387.16M126.52 387.00H126.78M126.98 386.88V387.70M126.65 386.55V387.00M126.98 386.55V386.88M126.65 386.55H126.98M127.25 386.83V387.70M126.81 386.36V386.55M127.25 386.36V386.83M126.81 386.36H127.25M125.57 386.19V386.84M127.03 386.19V386.36M125.57 386.19H127.03M127.50 386.85V387.70M127.86 386.70V387.70M127.50 386.36V386.85M127.86 386.36V386.70M127.50 386.36H127.86M126.30 386.04V386.19M127.68 386.04V386.36M126.30 386.04H127.68M128.27 386.95V387.70M128.61 387.13V387.70M128.27 386.83V386.95M128.61 386.83V387.13M128.27 386.83H128.61M128.83 386.93V387.70M129.09 387.04V387.70M128.83 386.67V386.93M129.09 386.67V387.04M128.83 386.67H129.09M128.44 386.37V386.83M128.96 386.37V386.67M128.44 386.37H128.96M129.62 387.24V387.70M130.07 387.34V387.70M129.62 387.09V387.24M130.07 387.09V387.34M129.62 387.09H130.07M130.39 387.17V387.70M129.85 386.80V387.09M130.39 386.80V387.17M129.85 386.80H130.39M130.64 387.18V387.70M130.90 387.32V387.70M130.64 387.03V387.18M130.90 387.03V387.32M130.64 387.03H130.90M131.25 387.04V387.70M130.77 386.86V387.03M131.25 386.86V387.04M130.77 386.86H131.25M130.12 386.69V386.80M131.01 386.69V386.86M130.12 386.69H131.01M128.70 386.15V386.37M130.56 386.15V386.69M128.70 386.15H130.56M126.99 385.03V386.04M129.63 385.03V386.15M126.99 385.03H129.63M123.16 384.11V384.52M128.31 384.11V385.03M123.16 384.11H128.31M120.18 382.00V382.90M125.73 382.00V384.11M120.18 382.00H125.73M115.40 379.84V381.03M122.96 379.84V382.00M115.40 379.84H122.96M131.56 383.91V387.70M131.95 385.40V387.70M132.25 385.75V387.70M131.95 384.96V385.40M132.25 384.96V385.75M131.95 384.96H132.25M132.56 385.20V387.70M132.10 384.71V384.96M132.56 384.71V385.20M132.10 384.71H132.56M131.56 383.31V383.91M132.33 383.31V384.71M131.56 383.31H132.33M133.00 385.52V387.70M133.31 386.33V387.70M133.54 387.20V387.70M133.86 386.95V387.70M133.54 386.85V387.20M133.86 386.85V386.95M133.54 386.85H133.86M133.31 386.20V386.33M133.70 386.20V386.85M133.31 386.20H133.70M133.00 385.25V385.52M133.51 385.25V386.20M133.00 385.25H133.51M134.23 385.29V387.70M134.55 385.93V387.70M134.23 384.82V385.29M134.55 384.82V385.93M134.23 384.82H134.55M133.25 384.31V385.25M134.39 384.31V384.82M133.25 384.31H134.39M134.93 385.92V387.70M135.30 386.94V387.70M135.55 386.66V387.70M135.30 386.46V386.94M135.55 386.46V386.66M135.30 386.46H135.55M134.93 385.68V385.92M135.42 385.68V386.46M134.93 385.68H135.42M135.85 385.92V387.70M135.18 385.15V385.68M135.85 385.15V385.92M135.18 385.15H135.85M136.09 386.29V387.70M136.36 386.38V387.70M136.09 385.91V386.29M136.36 385.91V386.38M136.09 385.91H136.36M136.79 386.15V387.70M136.22 385.31V385.91M136.79 385.31V386.15M136.22 385.31H136.79M135.51 383.96V385.15M136.51 383.96V385.31M135.51 383.96H136.51M133.82 382.33V384.31M136.01 382.33V383.96M133.82 382.33H136.01M131.94 381.24V383.31M134.92 381.24V382.33M131.94 381.24H134.92M137.14 385.36V387.70M137.43 384.96V387.70M137.14 384.62V385.36M137.43 384.62V384.96M137.14 384.62H137.43M137.79 385.85V387.70M138.23 386.96V387.70M138.62 387.01V387.70M138.23 386.46V386.96M138.62 386.46V387.01M138.23 386.46H138.62M137.79 385.55V385.85M138.43 385.55V386.46M137.79 385.55H138.43M137.29 383.80V384.62M138.11 383.80V385.55M137.29 383.80H138.11M138.97 386.73V387.70M139.24 386.87V387.70M138.97 386.39V386.73M139.24 386.39V386.87M138.97 386.39H139.24M139.45 386.96V387.70M139.77 386.92V387.70M139.45 386.36V386.96M139.77 386.36V386.92M139.45 386.36H139.77M139.11 385.41V386.39M139.61 385.41V386.36M139.11 385.41H139.61M140.12 386.05V387.70M140.37 386.10V387.70M140.65 385.71V387.70M140.37 385.25V386.10M140.65 385.25V385.71M140.37 385.25H140.65M140.12 384.82V386.05M140.51 384.82V385.25M140.12 384.82H140.51M139.36 383.71V385.41M140.32 383.71V384.82M139.36 383.71H140.32M137.70 381.97V383.80M139.84 381.97V383.71M137.70 381.97H139.84M140.99 386.23V387.70M141.29 386.27V387.70M140.99 386.05V386.23M141.29 386.05V386.27M140.99 386.05H141.29M141.72 387.10V387.70M142.05 386.92V387.70M141.72 386.70V387.10M142.05 386.70V386.92M141.72 386.70H142.05M142.30 386.85V387.70M141.89 386.18V386.70M142.30 386.18V386.85M141.89 386.18H142.30M141.14 385.83V386.05M142.09 385.83V386.18M141.14 385.83H142.09M142.65 386.62V387.70M143.00 386.52V387.70M142.65 386.20V386.62M143.00 386.20V386.52M142.65 386.20H143.00M143.31 387.26V387.70M143.54 387.23V387.70M143.82 387.23V387.70M143.54 387.05V387.23M143.82 387.05V387.23M143.54 387.05H143.82M143.31 386.99V387.26M143.68 386.99V387.05M143.31 386.99H143.68M144.18 386.78V387.70M143.50 386.56V386.99M144.18 386.56V386.78M143.50 386.56H144.18M144.58 386.65V387.70M143.84 386.30V386.56M144.58 386.30V386.65M143.84 386.30H144.58M142.82 385.83V386.20M144.21 385.83V386.30M142.82 385.83H144.21M141.62 384.80V385.83M143.51 384.80V385.83M141.62 384.80H143.51M145.03 385.88V387.70M145.35 386.34V387.70M145.03 385.27V385.88M145.35 385.27V386.34M145.03 385.27H145.35M145.62 386.54V387.70M145.91 386.83V387.70M146.26 387.01V387.70M145.91 386.73V386.83M146.26 386.73V387.01M145.91 386.73H146.26M145.62 386.43V386.54M146.09 386.43V386.73M145.62 386.43H146.09M146.72 385.63V387.70M145.85 385.42V386.43M146.72 385.42V385.63M145.85 385.42H146.72M145.19 385.00V385.27M146.29 385.00V385.42M145.19 385.00H146.29M142.57 384.15V384.80M145.74 384.15V385.00M142.57 384.15H145.74M147.08 385.50V387.70M147.44 386.54V387.70M147.83 386.46V387.70M147.44 385.71V386.54M147.83 385.71V386.46M147.44 385.71H147.83M147.08 384.81V385.50M147.63 384.81V385.71M147.08 384.81H147.63M148.23 384.59V387.70M147.36 383.92V384.81M148.23 383.92V384.59M147.36 383.92H148.23M148.52 386.32V387.70M148.79 386.51V387.70M148.52 385.68V386.32M148.79 385.68V386.51M148.52 385.68H148.79M149.24 385.58V387.70M148.66 385.22V385.68M149.24 385.22V385.58M148.66 385.22H149.24M149.73 385.63V387.70M148.95 384.32V385.22M149.73 384.32V385.63M148.95 384.32H149.73M150.09 387.14V387.70M150.44 387.24V387.70M150.09 386.86V387.14M150.44 386.86V387.24M150.09 386.86H150.44M150.92 386.94V387.70M151.36 386.92V387.70M150.92 386.71V386.94M151.36 386.71V386.92M150.92 386.71H151.36M150.26 386.55V386.86M151.14 386.55V386.71M150.26 386.55H151.14M151.69 386.89V387.70M151.94 386.72V387.70M151.69 386.40V386.89M151.94 386.40V386.72M151.69 386.40H151.94M150.70 385.84V386.55M151.81 385.84V386.40M150.70 385.84H151.81M152.22 386.59V387.70M152.50 386.82V387.70M152.22 386.25V386.59M152.50 386.25V386.82M152.22 386.25H152.50M152.72 386.35V387.70M152.36 386.02V386.25M152.72 386.02V386.35M152.36 386.02H152.72M151.26 385.21V385.84M152.54 385.21V386.02M151.26 385.21H152.54M149.34 383.81V384.32M151.90 383.81V385.21M149.34 383.81H151.90M147.79 383.00V383.92M150.62 383.00V383.81M147.79 383.00H150.62M144.15 382.51V384.15M149.21 382.51V383.00M144.15 382.51H149.21M138.77 379.69V381.97M146.68 379.69V382.51M138.77 379.69H146.68M133.43 378.59V381.24M142.72 378.59V379.69M133.43 378.59H142.72M119.18 376.50V379.84M138.08 376.50V378.59M119.18 376.50H138.08M128.00 376.50H128.63M153.03 385.21V387.70M153.35 384.69V387.70M153.03 383.29V385.21M153.35 383.29V384.69M153.03 383.29H153.35M153.64 383.58V387.70M153.19 382.06V383.29M153.64 382.06V383.58M153.19 382.06H153.64M153.94 382.75V387.70M154.26 380.42V387.70M153.94 379.16V382.75M154.26 379.16V380.42M153.94 379.16H154.26M153.41 378.02V382.06M154.10 378.02V379.16M153.41 378.02H154.10M154.58 383.97V387.70M154.90 383.96V387.70M154.58 381.14V383.97M154.90 381.14V383.96M154.58 381.14H154.90M155.27 381.05V387.70M155.51 381.91V387.70M155.76 383.80V387.70M155.51 380.70V381.91M155.76 380.70V383.80M155.51 380.70H155.76M155.27 379.12V381.05M155.64 379.12V380.70M155.27 379.12H155.64M154.74 377.01V381.14M155.45 377.01V379.12M154.74 377.01H155.45M153.76 374.61V378.02M155.10 374.61V377.01M153.76 374.61H155.10M156.02 381.53V387.70M156.32 382.21V387.70M156.02 379.19V381.53M156.32 379.19V382.21M156.02 379.19H156.32M156.67 382.87V387.70M156.92 384.96V387.70M157.18 385.92V387.70M157.57 385.47V387.70M157.18 385.22V385.92M157.57 385.22V385.47M157.18 385.22H157.57M156.92 384.36V384.96M157.38 384.36V385.22M156.92 384.36H157.38M156.67 381.78V382.87M157.15 381.78V384.36M156.67 381.78H157.15M157.91 384.69V387.70M158.17 383.09V387.70M157.91 382.38V384.69M158.17 382.38V383.09M157.91 382.38H158.17M156.91 379.08V381.78M158.04 379.08V382.38M156.91 379.08H158.04M156.17 377.51V379.19M157.48 377.51V379.08M156.17 377.51H157.48M154.43 373.29V374.61M156.82 373.29V377.51M154.43 373.29H156.82M158.44 384.54V387.70M158.73 384.64V387.70M158.44 382.56V384.54M158.73 382.56V384.64M158.44 382.56H158.73M159.15 383.82V387.70M159.44 384.59V387.70M159.69 384.89V387.70M159.44 384.14V384.59M159.69 384.14V384.89M159.44 384.14H159.69M159.94 383.89V387.70M159.57 383.33V384.14M159.94 383.33V383.89M159.57 383.33H159.94M160.24 385.81V387.70M160.56 385.79V387.70M160.24 384.27V385.81M160.56 384.27V385.79M160.24 384.27H160.56M160.74 384.43V387.70M160.40 383.85V384.27M160.74 383.85V384.43M160.40 383.85H160.74M159.75 382.74V383.33M160.57 382.74V383.85M159.75 382.74H160.57M159.15 380.83V383.82M160.16 380.83V382.74M159.15 380.83H160.16M158.59 379.66V382.56M159.66 379.66V380.83M158.59 379.66H159.66M160.98 382.37V387.70M161.27 381.20V387.70M160.98 379.62V382.37M161.27 379.62V381.20M160.98 379.62H161.27M161.52 383.09V387.70M161.78 385.69V387.70M162.06 385.78V387.70M161.78 385.04V385.69M162.06 385.04V385.78M161.78 385.04H162.06M162.34 384.90V387.70M161.92 383.96V385.04M162.34 383.96V384.90M161.92 383.96H162.34M161.52 381.88V383.09M162.13 381.88V383.96M161.52 381.88H162.13M161.13 377.46V379.62M161.83 377.46V381.88M161.13 377.46H161.83M159.12 375.89V379.66M161.48 375.89V377.46M159.12 375.89H161.48M162.58 385.68V387.70M162.88 385.55V387.70M162.58 385.31V385.68M162.88 385.31V385.55M162.58 385.31H162.88M163.15 384.34V387.70M162.73 383.78V385.31M163.15 383.78V384.34M162.73 383.78H163.15M163.35 382.18V387.70M162.94 381.24V383.78M163.35 381.24V382.18M162.94 381.24H163.35M163.69 382.35V387.70M163.15 380.06V381.24M163.69 380.06V382.35M163.15 380.06H163.69M160.30 373.88V375.89M163.42 373.88V380.06M160.30 373.88H163.42M155.63 365.30V373.29M161.86 365.30V373.88M155.63 365.30H161.86M159.40 365.30H158.74M164.07 383.93V387.70M164.37 384.93V387.70M164.68 385.22V387.70M165.02 385.15V387.70M164.68 384.53V385.22M165.02 384.53V385.15M164.68 384.53H165.02M164.37 383.74V384.93M164.85 383.74V384.53M164.37 383.74H164.85M164.07 382.46V383.93M164.61 382.46V383.74M164.07 382.46H164.61M165.36 384.49V387.70M165.78 385.14V387.70M165.36 383.10V384.49M165.78 383.10V385.14M165.36 383.10H165.78M164.34 380.48V382.46M165.57 380.48V383.10M164.34 380.48H165.57M166.13 385.56V387.70M166.44 384.56V387.70M166.13 383.87V385.56M166.44 383.87V384.56M166.13 383.87H166.44M166.73 383.80V387.70M166.29 381.32V383.87M166.73 381.32V383.80M166.29 381.32H166.73M164.95 376.17V380.48M166.51 376.17V381.32M164.95 376.17H166.51M166.98 378.87V387.70M167.30 382.39V387.70M167.71 381.34V387.70M167.30 379.90V382.39M167.71 379.90V381.34M167.30 379.90H167.71M166.98 375.68V378.87M167.50 375.68V379.90M166.98 375.68H167.50M165.73 374.56V376.17M167.24 374.56V375.68M165.73 374.56H167.24M168.05 383.50V387.70M168.37 384.70V387.70M168.69 385.68V387.70M168.37 384.36V384.70M168.69 384.36V385.68M168.37 384.36H168.69M168.05 382.19V383.50M168.53 382.19V384.36M168.05 382.19H168.53M168.97 384.90V387.70M169.36 383.75V387.70M168.97 382.67V384.90M169.36 382.67V383.75M168.97 382.67H169.36M168.29 380.42V382.19M169.17 380.42V382.67M168.29 380.42H169.17M169.84 382.84V387.70M170.32 385.29V387.70M170.67 385.57V387.70M170.95 385.77V387.70M170.67 385.06V385.57M170.95 385.06V385.77M170.67 385.06H170.95M170.32 383.68V385.29M170.81 383.68V385.06M170.32 383.68H170.81M169.84 380.92V382.84M170.57 380.92V383.68M169.84 380.92H170.57M168.73 375.49V380.42M170.20 375.49V380.92M168.73 375.49H170.20M171.31 378.27V387.70M171.75 379.51V387.70M171.31 375.64V378.27M171.75 375.64V379.51M171.31 375.64H171.75M169.47 371.48V375.49M171.53 371.48V375.64M169.47 371.48H171.53M166.49 366.00V374.56M170.50 366.00V371.48M166.49 366.00H170.50M167.10 366.00H168.49M172.13 383.86V387.70M172.39 382.91V387.70M172.13 381.07V383.86M172.39 381.07V382.91M172.13 381.07H172.39M172.70 384.27V387.70M172.96 384.67V387.70M172.70 383.16V384.27M172.96 383.16V384.67M172.70 383.16H172.96M173.17 383.19V387.70M172.83 380.30V383.16M173.17 380.30V383.19M172.83 380.30H173.17M172.26 379.56V381.07M173.00 379.56V380.30M172.26 379.56H173.00M173.44 382.74V387.70M173.75 383.86V387.70M174.12 382.41V387.70M173.75 381.20V383.86M174.12 381.20V382.41M173.75 381.20H174.12M173.44 379.36V382.74M173.94 379.36V381.20M173.44 379.36H173.94M172.63 378.33V379.56M173.69 378.33V379.36M172.63 378.33H173.69M174.53 382.81V387.70M174.89 385.10V387.70M175.22 384.89V387.70M175.57 385.88V387.70M175.91 385.91V387.70M175.57 385.05V385.88M175.91 385.05V385.91M175.57 385.05H175.91M175.22 384.08V384.89M175.74 384.08V385.05M175.22 384.08H175.74M174.89 383.45V385.10M175.48 383.45V384.08M174.89 383.45H175.48M174.53 382.32V382.81M175.18 382.32V383.45M174.53 382.32H175.18M176.17 385.73V387.70M176.45 386.45V387.70M176.74 386.08V387.70M176.45 385.67V386.45M176.74 385.67V386.08M176.45 385.67H176.74M176.17 385.04V385.73M176.59 385.04V385.67M176.17 385.04H176.59M177.01 383.40V387.70M176.38 382.90V385.04M177.01 382.90V383.40M176.38 382.90H177.01M177.36 384.82V387.70M177.70 385.28V387.70M177.36 383.61V384.82M177.70 383.61V385.28M177.36 383.61H177.70M176.69 382.30V382.90M177.53 382.30V383.61M176.69 382.30H177.53M178.09 385.30V387.70M178.43 386.18V387.70M178.09 385.06V385.30M178.43 385.06V386.18M178.09 385.06H178.43M178.70 386.10V387.70M179.06 386.41V387.70M178.70 385.56V386.10M179.06 385.56V386.41M178.70 385.56H179.06M179.49 385.51V387.70M179.83 386.21V387.70M179.49 385.01V385.51M179.83 385.01V386.21M179.49 385.01H179.83M178.88 384.68V385.56M179.66 384.68V385.01M178.88 384.68H179.66M178.26 384.29V385.06M179.27 384.29V384.68M178.26 384.29H179.27M177.11 381.59V382.30M178.77 381.59V384.29M177.11 381.59H178.77M174.85 378.95V382.32M177.94 378.95V381.59M174.85 378.95H177.94M173.16 376.53V378.33M176.40 376.53V378.95M173.16 376.53H176.40M180.20 385.90V387.70M180.51 385.78V387.70M180.20 385.57V385.90M180.51 385.57V385.78M180.20 385.57H180.51M180.78 385.49V387.70M180.35 384.04V385.57M180.78 384.04V385.49M180.35 384.04H180.78M181.14 384.34V387.70M181.58 384.15V387.70M181.14 383.52V384.34M181.58 383.52V384.15M181.14 383.52H181.58M180.57 382.40V384.04M181.36 382.40V383.52M180.57 382.40H181.36M181.89 384.12V387.70M182.17 385.38V387.70M182.45 384.30V387.70M182.17 383.91V385.38M182.45 383.91V384.30M182.17 383.91H182.45M181.89 382.83V384.12M182.31 382.83V383.91M181.89 382.83H182.31M182.73 383.88V387.70M183.02 384.24V387.70M183.28 384.91V387.70M183.02 383.50V384.24M183.28 383.50V384.91M183.02 383.50H183.28M182.73 382.78V383.88M183.15 382.78V383.50M182.73 382.78H183.15M182.10 381.92V382.83M182.94 381.92V382.78M182.10 381.92H182.94M183.55 384.32V387.70M183.80 384.48V387.70M183.55 383.86V384.32M183.80 383.86V384.48M183.55 383.86H183.80M182.52 381.10V381.92M183.67 381.10V383.86M182.52 381.10H183.67M184.14 384.26V387.70M184.56 383.69V387.70M184.14 382.86V384.26M184.56 382.86V383.69M184.14 382.86H184.56M183.10 379.84V381.10M184.35 379.84V382.86M183.10 379.84H184.35M180.96 378.67V382.40M183.72 378.67V379.84M180.96 378.67H183.72M185.02 382.25V387.70M185.45 383.70V387.70M185.77 382.95V387.70M185.45 382.41V383.70M185.77 382.41V382.95M185.45 382.41H185.77M185.02 380.14V382.25M185.61 380.14V382.41M185.02 380.14H185.61M186.07 384.89V387.70M186.36 385.69V387.70M186.07 384.28V384.89M186.36 384.28V385.69M186.07 384.28H186.36M186.63 383.50V387.70M186.21 382.02V384.28M186.63 382.02V383.50M186.21 382.02H186.63M185.32 378.85V380.14M186.42 378.85V382.02M185.32 378.85H186.42M186.92 383.69V387.70M187.22 384.63V387.70M186.92 383.01V383.69M187.22 383.01V384.63M186.92 383.01H187.22M187.45 384.43V387.70M187.07 381.77V383.01M187.45 381.77V384.43M187.07 381.77H187.45M187.76 383.33V387.70M187.26 380.63V381.77M187.76 380.63V383.33M187.26 380.63H187.76M185.87 377.17V378.85M187.51 377.17V380.63M185.87 377.17H187.51M182.34 375.24V378.67M186.69 375.24V377.17M182.34 375.24H186.69M174.78 370.00V376.53M184.52 370.00V375.24M174.78 370.00H184.52M180.40 370.00H179.65M188.24 386.11V387.70M188.68 386.81V387.70M189.06 386.72V387.70M188.68 386.10V386.81M189.06 386.10V386.72M188.68 386.10H189.06M188.24 385.00V386.11M188.87 385.00V386.10M188.24 385.00H188.87M189.46 386.89V387.70M189.81 386.82V387.70M189.46 386.57V386.89M189.81 386.57V386.82M189.46 386.57H189.81M190.04 386.76V387.70M190.31 386.80V387.70M190.57 386.88V387.70M190.31 386.64V386.80M190.57 386.64V386.88M190.31 386.64H190.57M190.04 386.38V386.76M190.44 386.38V386.64M190.04 386.38H190.44M189.63 386.11V386.57M190.24 386.11V386.38M189.63 386.11H190.24M190.82 386.21V387.70M191.05 386.46V387.70M191.36 386.68V387.70M191.05 386.33V386.46M191.36 386.33V386.68M191.05 386.33H191.36M190.82 385.76V386.21M191.21 385.76V386.33M190.82 385.76H191.21M189.94 385.24V386.11M191.01 385.24V385.76M189.94 385.24H191.01M191.80 385.67V387.70M192.12 385.98V387.70M192.46 386.70V387.70M192.78 386.64V387.70M192.46 386.32V386.70M192.78 386.32V386.64M192.46 386.32H192.78M192.12 385.32V385.98M192.62 385.32V386.32M192.12 385.32H192.62M191.80 384.93V385.67M192.37 384.93V385.32M191.80 384.93H192.37M190.47 384.67V385.24M192.08 384.67V384.93M190.47 384.67H192.08M188.55 383.47V385.00M191.28 383.47V384.67M188.55 383.47H191.28M193.04 384.54V387.70M193.41 384.27V387.70M193.04 383.54V384.54M193.41 383.54V384.27M193.04 383.54H193.41M193.71 385.00V387.70M193.23 382.95V383.54M193.71 382.95V385.00M193.23 382.95H193.71M194.05 386.14V387.70M194.40 386.30V387.70M194.05 385.84V386.14M194.40 385.84V386.30M194.05 385.84H194.40M194.64 386.31V387.70M194.22 385.59V385.84M194.64 385.59V386.31M194.22 385.59H194.64M194.89 385.52V387.70M194.43 384.34V385.59M194.89 384.34V385.52M194.43 384.34H194.89M195.15 385.91V387.70M195.45 385.99V387.70M195.77 386.40V387.70M195.45 385.52V385.99M195.77 385.52V386.40M195.45 385.52H195.77M195.15 385.04V385.91M195.61 385.04V385.52M195.15 385.04H195.61M196.05 385.58V387.70M195.38 384.37V385.04M196.05 384.37V385.58M195.38 384.37H196.05M194.66 383.73V384.34M195.72 383.73V384.37M194.66 383.73H195.72M196.40 385.27V387.70M196.73 385.50V387.70M196.40 384.39V385.27M196.73 384.39V385.50M196.40 384.39H196.73M195.19 383.03V383.73M196.56 383.03V384.39M195.19 383.03H196.56M193.47 381.89V382.95M195.88 381.89V383.03M193.47 381.89H195.88M189.92 380.82V383.47M194.67 380.82V381.89M189.92 380.82H194.67M196.95 385.18V387.70M197.15 386.41V387.70M197.47 386.23V387.70M197.15 385.69V386.41M197.47 385.69V386.23M197.15 385.69H197.47M196.95 384.76V385.18M197.31 384.76V385.69M196.95 384.76H197.31M197.81 385.92V387.70M198.10 386.29V387.70M197.81 385.73V385.92M198.10 385.73V386.29M197.81 385.73H198.10M198.35 385.59V387.70M197.96 384.45V385.73M198.35 384.45V385.59M197.96 384.45H198.35M197.13 383.52V384.76M198.16 383.52V384.45M197.13 383.52H198.16M198.62 385.91V387.70M199.01 386.36V387.70M199.44 385.91V387.70M199.01 385.62V386.36M199.44 385.62V385.91M199.01 385.62H199.44M198.62 384.49V385.91M199.23 384.49V385.62M198.62 384.49H199.23M199.84 384.55V387.70M200.17 384.44V387.70M199.84 383.02V384.55M200.17 383.02V384.44M199.84 383.02H200.17M198.92 382.16V384.49M200.01 382.16V383.02M198.92 382.16H200.01M197.64 380.98V383.52M199.47 380.98V382.16M197.64 380.98H199.47M192.29 378.59V380.82M198.55 378.59V380.98M192.29 378.59H198.55M200.47 383.50V387.70M200.80 384.84V387.70M201.20 384.11V387.70M200.80 382.53V384.84M201.20 382.53V384.11M200.80 382.53H201.20M200.47 381.03V383.50M201.00 381.03V382.53M200.47 381.03H201.00M201.62 380.66V387.70M200.73 380.02V381.03M201.62 380.02V380.66M200.73 380.02H201.62M202.05 385.04V387.70M202.38 385.19V387.70M202.71 385.27V387.70M203.02 385.99V387.70M202.71 384.95V385.27M203.02 384.95V385.99M202.71 384.95H203.02M202.38 384.26V385.19M202.86 384.26V384.95M202.38 384.26H202.86M202.05 383.68V385.04M202.62 383.68V384.26M202.05 383.68H202.62M203.23 385.97V387.70M203.52 385.50V387.70M203.23 384.92V385.97M203.52 384.92V385.50M203.23 384.92H203.52M203.87 384.79V387.70M203.37 384.22V384.92M203.87 384.22V384.79M203.37 384.22H203.87M204.29 384.46V387.70M204.67 385.05V387.70M204.98 385.52V387.70M205.24 385.26V387.70M204.98 385.02V385.52M205.24 385.02V385.26M204.98 385.02H205.24M204.67 383.96V385.05M205.11 383.96V385.02M204.67 383.96H205.11M204.29 383.48V384.46M204.89 383.48V383.96M204.29 383.48H204.89M203.62 382.11V384.22M204.59 382.11V383.48M203.62 382.11H204.59M202.34 381.62V383.68M204.11 381.62V382.11M202.34 381.62H204.11M201.18 378.87V380.02M203.22 378.87V381.62M201.18 378.87H203.22M195.42 375.44V378.59M202.20 375.44V378.87M195.42 375.44H202.20M205.59 384.31V387.70M206.06 384.12V387.70M205.59 383.25V384.31M206.06 383.25V384.12M205.59 383.25H206.06M206.37 385.03V387.70M206.53 385.89V387.70M206.81 385.49V387.70M206.53 384.56V385.89M206.81 384.56V385.49M206.53 384.56H206.81M206.37 383.43V385.03M206.67 383.43V384.56M206.37 383.43H206.67M205.83 381.11V383.25M206.52 381.11V383.43M205.83 381.11H206.52M207.14 385.29V387.70M207.40 386.02V387.70M207.14 384.79V385.29M207.40 384.79V386.02M207.14 384.79H207.40M207.59 385.25V387.70M207.27 384.37V384.79M207.59 384.37V385.25M207.27 384.37H207.59M207.74 384.66V387.70M207.43 383.82V384.37M207.74 383.82V384.66M207.43 383.82H207.74M207.96 383.61V387.70M208.25 384.37V387.70M207.96 383.23V383.61M208.25 383.23V384.37M207.96 383.23H208.25M207.59 382.58V383.82M208.10 382.58V383.23M207.59 382.58H208.10M206.17 379.68V381.11M207.85 379.68V382.58M206.17 379.68H207.85M208.54 384.41V387.70M208.86 385.10V387.70M208.54 383.92V384.41M208.86 383.92V385.10M208.54 383.92H208.86M209.19 385.39V387.70M209.52 385.42V387.70M209.82 385.70V387.70M209.52 384.55V385.42M209.82 384.55V385.70M209.52 384.55H209.82M210.01 384.40V387.70M209.67 383.99V384.55M210.01 383.99V384.40M209.67 383.99H210.01M209.19 383.59V385.39M209.84 383.59V383.99M209.19 383.59H209.84M208.70 382.62V383.92M209.52 382.62V383.59M208.70 382.62H209.52M210.24 385.11V387.70M210.53 384.35V387.70M210.24 383.93V385.11M210.53 383.93V384.35M210.24 383.93H210.53M209.11 382.07V382.62M210.39 382.07V383.93M209.11 382.07H210.39M210.90 385.72V387.70M211.31 385.79V387.70M210.90 385.14V385.72M211.31 385.14V385.79M210.90 385.14H211.31M211.64 385.50V387.70M211.10 384.36V385.14M211.64 384.36V385.50M211.10 384.36H211.64M211.95 386.86V387.70M212.22 386.60V387.70M211.95 386.22V386.86M212.22 386.22V386.60M211.95 386.22H212.22M212.47 386.69V387.70M212.75 386.89V387.70M213.09 386.91V387.70M212.75 386.55V386.89M213.09 386.55V386.91M212.75 386.55H213.09M212.47 386.42V386.69M212.92 386.42V386.55M212.47 386.42H212.92M212.08 385.82V386.22M212.70 385.82V386.42M212.08 385.82H212.70M213.46 386.25V387.70M213.69 386.60V387.70M213.97 386.46V387.70M213.69 386.20V386.60M213.97 386.20V386.46M213.69 386.20H213.97M213.46 386.00V386.25M213.83 386.00V386.20M213.46 386.00H213.83M212.39 385.42V385.82M213.64 385.42V386.00M212.39 385.42H213.64M214.37 386.68V387.70M214.68 386.85V387.70M214.37 386.40V386.68M214.68 386.40V386.85M214.37 386.40H214.68M214.93 386.92V387.70M215.30 386.92V387.70M214.93 386.77V386.92M215.30 386.77V386.92M214.93 386.77H215.30M214.53 386.26V386.40M215.11 386.26V386.77M214.53 386.26H215.11M215.61 386.58V387.70M215.87 386.61V387.70M215.61 386.10V386.58M215.87 386.10V386.61M215.61 386.10H215.87M214.82 385.68V386.26M215.74 385.68V386.10M214.82 385.68H215.74M213.02 385.20V385.42M215.28 385.20V385.68M213.02 385.20H215.28M211.37 383.96V384.36M214.15 383.96V385.20M211.37 383.96H214.15M216.19 386.60V387.70M216.44 386.72V387.70M216.19 386.02V386.60M216.44 386.02V386.72M216.19 386.02H216.44M216.63 386.79V387.70M216.93 386.74V387.70M216.63 386.16V386.79M216.93 386.16V386.74M216.63 386.16H216.93M216.31 385.72V386.02M216.78 385.72V386.16M216.31 385.72H216.78M217.37 387.09V387.70M217.73 386.79V387.70M217.37 386.66V387.09M217.73 386.66V386.79M217.37 386.66H217.73M218.06 386.08V387.70M217.55 385.83V386.66M218.06 385.83V386.08M217.55 385.83H218.06M216.55 385.16V385.72M217.80 385.16V385.83M216.55 385.16H217.80M218.35 387.19V387.70M218.60 387.32V387.70M218.35 387.09V387.19M218.60 387.09V387.32M218.35 387.09H218.60M218.88 386.91V387.70M218.47 386.65V387.09M218.88 386.65V386.91M218.47 386.65H218.88M219.11 386.50V387.70M219.40 386.57V387.70M219.11 386.21V386.50M219.40 386.21V386.57M219.11 386.21H219.40M218.68 385.86V386.65M219.25 385.86V386.21M218.68 385.86H219.25M217.17 384.81V385.16M218.97 384.81V385.86M217.17 384.81H218.97M212.76 382.58V383.96M218.07 382.58V384.81M212.76 382.58H218.07M209.75 379.15V382.07M215.41 379.15V382.58M209.75 379.15H215.41M207.01 377.61V379.68M212.58 377.61V379.15M207.01 377.61H212.58M198.81 373.77V375.44M209.80 373.77V377.61M198.81 373.77H209.80M219.63 386.57V387.70M219.95 386.55V387.70M219.63 386.34V386.57M219.95 386.34V386.55M219.63 386.34H219.95M220.30 386.39V387.70M219.79 385.58V386.34M220.30 385.58V386.39M219.79 385.58H220.30M220.53 386.80V387.70M220.87 387.03V387.70M221.17 386.88V387.70M220.87 386.77V387.03M221.17 386.77V386.88M220.87 386.77H221.17M220.53 386.10V386.80M221.02 386.10V386.77M220.53 386.10H221.02M220.05 385.08V385.58M220.77 385.08V386.10M220.05 385.08H220.77M221.37 385.62V387.70M221.72 386.24V387.70M221.37 385.15V385.62M221.72 385.15V386.24M221.37 385.15H221.72M222.08 386.74V387.70M222.38 386.52V387.70M222.66 386.91V387.70M222.38 386.36V386.52M222.66 386.36V386.91M222.38 386.36H222.66M222.08 386.04V386.74M222.52 386.04V386.36M222.08 386.04H222.52M221.54 384.86V385.15M222.30 384.86V386.04M221.54 384.86H222.30M220.41 384.02V385.08M221.92 384.02V384.86M220.41 384.02H221.92M222.91 385.74V387.70M223.23 385.88V387.70M222.91 385.42V385.74M223.23 385.42V385.88M222.91 385.42H223.23M223.49 386.50V387.70M223.76 386.62V387.70M223.49 386.20V386.50M223.76 386.20V386.62M223.49 386.20H223.76M223.07 385.20V385.42M223.63 385.20V386.20M223.07 385.20H223.63M224.17 385.59V387.70M224.51 386.34V387.70M224.77 386.07V387.70M224.51 385.55V386.34M224.77 385.55V386.07M224.51 385.55H224.77M224.17 385.05V385.59M224.64 385.05V385.55M224.17 385.05H224.64M223.35 384.67V385.20M224.40 384.67V385.05M223.35 384.67H224.40M225.02 386.85V387.70M225.29 386.99V387.70M225.02 386.54V386.85M225.29 386.54V386.99M225.02 386.54H225.29M225.50 386.89V387.70M225.76 386.87V387.70M225.50 386.58V386.89M225.76 386.58V386.87M225.50 386.58H225.76M226.15 386.86V387.70M226.51 386.87V387.70M226.15 386.58V386.86M226.51 386.58V386.87M226.15 386.58H226.51M225.63 386.27V386.58M226.33 386.27V386.58M225.63 386.27H226.33M225.15 385.78V386.54M225.98 385.78V386.27M225.15 385.78H225.98M226.77 386.54V387.70M227.06 386.05V387.70M226.77 385.77V386.54M227.06 385.77V386.05M226.77 385.77H227.06M227.44 386.44V387.70M226.92 385.43V385.77M227.44 385.43V386.44M226.92 385.43H227.44M225.57 385.11V385.78M227.18 385.11V385.43M225.57 385.11H227.18M223.87 383.88V384.67M226.37 383.88V385.11M223.87 383.88H226.37M221.17 383.15V384.02M225.12 383.15V383.88M221.17 383.15H225.12M227.75 386.91V387.70M228.08 387.13V387.70M227.75 386.81V386.91M228.08 386.81V387.13M227.75 386.81H228.08M228.38 386.26V387.70M227.92 386.10V386.81M228.38 386.10V386.26M227.92 386.10H228.38M228.70 386.67V387.70M229.10 386.70V387.70M228.70 386.10V386.67M229.10 386.10V386.70M228.70 386.10H229.10M228.15 385.07V386.10M228.90 385.07V386.10M228.15 385.07H228.90M229.49 386.00V387.70M229.81 386.57V387.70M229.49 385.79V386.00M229.81 385.79V386.57M229.49 385.79H229.81M230.04 386.00V387.70M229.65 384.85V385.79M230.04 384.85V386.00M229.65 384.85H230.04M228.52 384.50V385.07M229.85 384.50V384.85M228.52 384.50H229.85M223.14 382.25V383.15M229.19 382.25V384.50M223.14 382.25H229.19M230.31 384.40V387.70M230.59 384.79V387.70M230.90 383.67V387.70M230.59 383.26V384.79M230.90 383.26V383.67M230.59 383.26H230.90M230.31 382.81V384.40M230.74 382.81V383.26M230.31 382.81H230.74M231.20 387.11V387.70M231.50 387.24V387.70M231.20 386.88V387.11M231.50 386.88V387.24M231.20 386.88H231.50M231.86 386.56V387.70M231.35 386.45V386.88M231.86 386.45V386.56M231.35 386.45H231.86M232.11 386.76V387.70M232.38 386.54V387.70M232.11 386.37V386.76M232.38 386.37V386.54M232.11 386.37H232.38M231.61 385.77V386.45M232.24 385.77V386.37M231.61 385.77H232.24M232.77 386.58V387.70M233.07 386.18V387.70M232.77 385.84V386.58M233.07 385.84V386.18M232.77 385.84H233.07M233.37 386.31V387.70M232.92 385.56V385.84M233.37 385.56V386.31M232.92 385.56H233.37M233.78 385.64V387.70M233.15 384.87V385.56M233.78 384.87V385.64M233.15 384.87H233.78M231.93 384.33V385.77M233.46 384.33V384.87M231.93 384.33H233.46M230.53 382.20V382.81M232.69 382.20V384.33M230.53 382.20H232.69M226.17 381.13V382.25M231.61 381.13V382.20M226.17 381.13H231.61M234.18 383.88V387.70M234.49 383.91V387.70M234.18 382.94V383.88M234.49 382.94V383.91M234.18 382.94H234.49M234.84 384.87V387.70M235.20 384.08V387.70M234.84 383.23V384.87M235.20 383.23V384.08M234.84 383.23H235.20M234.33 381.56V382.94M235.02 381.56V383.23M234.33 381.56H235.02M235.50 385.84V387.70M235.82 386.33V387.70M235.50 385.28V385.84M235.82 385.28V386.33M235.50 385.28H235.82M236.15 386.10V387.70M236.54 386.48V387.70M236.80 386.35V387.70M236.54 385.90V386.48M236.80 385.90V386.35M236.54 385.90H236.80M236.15 385.41V386.10M236.67 385.41V385.90M236.15 385.41H236.67M237.02 386.48V387.70M237.34 386.46V387.70M237.02 386.02V386.48M237.34 386.02V386.46M237.02 386.02H237.34M237.71 386.03V387.70M237.18 385.29V386.02M237.71 385.29V386.03M237.18 385.29H237.71M236.41 384.97V385.41M237.45 384.97V385.29M236.41 384.97H237.45M235.66 383.50V385.28M236.93 383.50V384.97M235.66 383.50H236.93M234.68 380.55V381.56M236.29 380.55V383.50M234.68 380.55H236.29M228.89 379.65V381.13M235.49 379.65V380.55M228.89 379.65H235.49M238.04 385.21V387.70M238.40 385.06V387.70M238.04 384.67V385.21M238.40 384.67V385.06M238.04 384.67H238.40M238.84 385.84V387.70M239.21 385.28V387.70M238.84 385.07V385.84M239.21 385.07V385.28M238.84 385.07H239.21M238.22 383.69V384.67M239.03 383.69V385.07M238.22 383.69H239.03M239.56 384.15V387.70M239.92 383.64V387.70M239.56 382.70V384.15M239.92 382.70V383.64M239.56 382.70H239.92M240.22 386.13V387.70M240.40 386.74V387.70M240.61 386.85V387.70M240.91 386.84V387.70M240.61 386.47V386.85M240.91 386.47V386.84M240.61 386.47H240.91M240.40 386.17V386.74M240.76 386.17V386.47M240.40 386.17H240.76M240.22 385.63V386.13M240.58 385.63V386.17M240.22 385.63H240.58M241.27 386.35V387.70M241.60 386.06V387.70M241.27 385.45V386.35M241.60 385.45V386.06M241.27 385.45H241.60M240.40 384.36V385.63M241.44 384.36V385.45M240.40 384.36H241.44M239.74 381.79V382.70M240.92 381.79V384.36M239.74 381.79H240.92M238.62 381.08V383.69M240.33 381.08V381.79M238.62 381.08H240.33M241.91 384.53V387.70M242.25 384.22V387.70M241.91 383.30V384.53M242.25 383.30V384.22M241.91 383.30H242.25M242.55 384.52V387.70M242.75 385.87V387.70M242.95 386.30V387.70M243.24 386.24V387.70M242.95 385.57V386.30M243.24 385.57V386.24M242.95 385.57H243.24M242.75 384.68V385.87M243.09 384.68V385.57M242.75 384.68H243.09M242.55 384.19V384.52M242.92 384.19V384.68M242.55 384.19H242.92M242.08 382.79V383.30M242.73 382.79V384.19M242.08 382.79H242.73M239.48 379.91V381.08M242.41 379.91V382.79M239.48 379.91H242.41M232.19 377.67V379.65M240.94 377.67V379.91M232.19 377.67H240.94M243.57 384.49V387.70M243.82 384.87V387.70M243.57 383.99V384.49M243.82 383.99V384.87M243.57 383.99H243.82M244.15 385.73V387.70M244.44 385.44V387.70M244.15 384.28V385.73M244.44 384.28V385.44M244.15 384.28H244.44M244.70 385.49V387.70M244.29 383.89V384.28M244.70 383.89V385.49M244.29 383.89H244.70M243.70 381.53V383.99M244.50 381.53V383.89M243.70 381.53H244.50M245.07 381.91V387.70M244.10 380.58V381.53M245.07 380.58V381.91M244.10 380.58H245.07M245.44 385.32V387.70M245.87 385.14V387.70M245.44 383.69V385.32M245.87 383.69V385.14M245.44 383.69H245.87M246.32 384.78V387.70M245.66 383.17V383.69M246.32 383.17V384.78M245.66 383.17H246.32M246.76 385.60V387.70M247.23 386.49V387.70M247.63 386.38V387.70M247.23 385.66V386.49M247.63 385.66V386.38M247.23 385.66H247.63M246.76 385.02V385.60M247.43 385.02V385.66M246.76 385.02H247.43M247.94 386.00V387.70M248.24 386.06V387.70M247.94 385.05V386.00M248.24 385.05V386.06M247.94 385.05H248.24M248.49 384.55V387.70M248.09 383.70V385.05M248.49 383.70V384.55M248.09 383.70H248.49M247.09 383.28V385.02M248.29 383.28V383.70M247.09 383.28H248.29M245.99 382.52V383.17M247.69 382.52V383.28M245.99 382.52H247.69M248.77 384.14V387.70M249.15 383.62V387.70M249.50 383.02V387.70M249.15 382.18V383.62M249.50 382.18V383.02M249.15 382.18H249.50M248.77 381.70V384.14M249.33 381.70V382.18M248.77 381.70H249.33M249.86 385.33V387.70M250.15 386.01V387.70M249.86 384.94V385.33M250.15 384.94V386.01M249.86 384.94H250.15M250.33 385.36V387.70M250.00 383.78V384.94M250.33 383.78V385.36M250.00 383.78H250.33M250.67 386.06V387.70M251.00 385.80V387.70M250.67 384.73V386.06M251.00 384.73V385.80M250.67 384.73H251.00M250.17 382.43V383.78M250.83 382.43V384.73M250.17 382.43H250.83M249.05 380.10V381.70M250.50 380.10V382.43M249.05 380.10H250.50M246.84 378.44V382.52M249.77 378.44V380.10M246.84 378.44H249.77M244.58 376.62V380.58M248.31 376.62V378.44M244.58 376.62H248.31M236.56 375.56V377.67M246.44 375.56V376.62M236.56 375.56H246.44M204.30 369.50V373.77M241.50 369.50V375.56M204.30 369.50H241.50M195.10 369.50H222.90M251.26 384.42V387.70M251.64 384.21V387.70M251.26 383.10V384.42M251.64 383.10V384.21M251.26 383.10H251.64M251.97 385.76V387.70M252.25 386.21V387.70M251.97 385.41V385.76M252.25 385.41V386.21M251.97 385.41H252.25M252.51 385.23V387.70M252.11 383.83V385.41M252.51 383.83V385.23M252.11 383.83H252.51M252.76 384.77V387.70M253.02 384.07V387.70M252.76 383.38V384.77M253.02 383.38V384.07M252.76 383.38H253.02M252.31 382.40V383.83M252.89 382.40V383.38M252.31 382.40H252.89M251.45 379.84V383.10M252.60 379.84V382.40M251.45 379.84H252.60M253.29 384.63V387.70M253.58 382.85V387.70M253.29 382.18V384.63M253.58 382.18V382.85M253.29 382.18H253.58M253.92 382.72V387.70M253.43 380.38V382.18M253.92 380.38V382.72M253.43 380.38H253.92M254.32 383.21V387.70M254.63 382.37V387.70M254.32 379.82V383.21M254.63 379.82V382.37M254.32 379.82H254.63M253.68 377.62V380.38M254.47 377.62V379.82M253.68 377.62H254.47M252.03 374.91V379.84M254.08 374.91V377.62M252.03 374.91H254.08M254.95 384.90V387.70M255.28 384.78V387.70M255.57 385.66V387.70M255.28 384.16V384.78M255.57 384.16V385.66M255.28 384.16H255.57M254.95 383.65V384.90M255.42 383.65V384.16M254.95 383.65H255.42M255.93 383.57V387.70M255.19 381.83V383.65M255.93 381.83V383.57M255.19 381.83H255.93M256.32 382.92V387.70M256.71 382.04V387.70M256.32 381.12V382.92M256.71 381.12V382.04M256.32 381.12H256.71M257.12 382.04V387.70M256.52 378.87V381.12M257.12 378.87V382.04M256.52 378.87H257.12M255.56 377.98V381.83M256.82 377.98V378.87M255.56 377.98H256.82M253.05 372.51V374.91M256.19 372.51V377.98M253.05 372.51H256.19M257.44 384.93V387.70M257.73 384.47V387.70M257.44 383.01V384.93M257.73 383.01V384.47M257.44 383.01H257.73M258.00 384.18V387.70M258.25 383.21V387.70M258.00 382.01V384.18M258.25 382.01V383.21M258.00 382.01H258.25M257.58 381.36V383.01M258.12 381.36V382.01M257.58 381.36H258.12M258.58 385.73V387.70M258.88 385.81V387.70M258.58 385.24V385.73M258.88 385.24V385.81M258.58 385.24H258.88M259.16 384.88V387.70M258.73 383.70V385.24M259.16 383.70V384.88M258.73 383.70H259.16M259.50 383.19V387.70M258.94 382.01V383.70M259.50 382.01V383.19M258.94 382.01H259.50M259.76 385.51V387.70M260.02 386.06V387.70M259.76 385.09V385.51M260.02 385.09V386.06M259.76 385.09H260.02M260.26 383.41V387.70M259.89 383.04V385.09M260.26 383.04V383.41M259.89 383.04H260.26M259.22 381.21V382.01M260.08 381.21V383.04M259.22 381.21H260.08M260.41 382.56V387.70M260.68 383.88V387.70M260.41 381.70V382.56M260.68 381.70V383.88M260.41 381.70H260.68M259.65 380.44V381.21M260.55 380.44V381.70M259.65 380.44H260.55M260.99 383.02V387.70M261.35 383.81V387.70M261.65 382.38V387.70M261.35 381.40V383.81M261.65 381.40V382.38M261.35 381.40H261.65M260.99 379.31V383.02M261.50 379.31V381.40M260.99 379.31H261.50M260.10 378.29V380.44M261.25 378.29V379.31M260.10 378.29H261.25M257.85 377.42V381.36M260.67 377.42V378.29M257.85 377.42H260.67M261.87 382.49V387.70M262.18 384.26V387.70M262.48 383.47V387.70M262.77 383.93V387.70M262.48 382.93V383.47M262.77 382.93V383.93M262.48 382.93H262.77M262.18 382.07V384.26M262.63 382.07V382.93M262.18 382.07H262.63M261.87 379.80V382.49M262.40 379.80V382.07M261.87 379.80H262.40M263.13 381.36V387.70M263.42 380.25V387.70M263.13 379.07V381.36M263.42 379.07V380.25M263.13 379.07H263.42M262.13 377.40V379.80M263.28 377.40V379.07M262.13 377.40H263.28M259.26 371.57V377.42M262.71 371.57V377.40M259.26 371.57H262.71M254.62 367.50V372.51M260.98 367.50V371.57M254.62 367.50H260.98M255.20 367.50H257.80" stroke="#1a1a1a" stroke-width="0.65" fill="none"/>
<path d="M55.6 388L55.60 375.42L56.39 375.67L57.32 374.36L58.24 377.73L59.13 376.13L59.58 375.03L60.35 374.16L60.82 378.69L61.74 379.14L62.65 377.33L63.57 378.19L64.31 376.55L64.72 374.54L65.27 376.77L65.74 379.82L66.49 378.44L67.42 375.36L68.36 379.75L68.92 374.75L69.80 379.34L70.68 376.45L71.44 374.68L71.98 381.51L72.82 379.53L73.78 379.18L74.76 380.42L75.65 383.91L76.63 381.82L77.45 380.75L78.35 379.65L79.28 382.55L79.71 384.65L80.30 379.41L80.86 379.16L81.43 383.26L82.42 382.79L83.33 383.93L84.16 381.31L84.71 379.94L85.44 380.22L86.29 380.92L87.03 382.28L87.81 379.93L88.36 383.13L88.89 383.03L89.87 381.33L90.85 382.69L91.81 382.16L92.67 383.10L93.18 382.11L93.93 381.78L94.73 384.45L95.60 383.87L96.09 383.22L96.87 384.63L97.27 380.03L98.25 381.23L99.08 382.55L99.72 381.63L100.45 384.91L101.17 383.74L101.76 383.27L102.52 383.46L103.45 379.48L104.43 382.66L104.98 381.79L105.44 380.39L106.34 383.27L107.26 379.97L107.73 381.28L108.42 383.26L109.00 383.42L109.75 380.73L110.63 379.44L111.38 380.13L111.81 381.87L112.52 382.68L113.14 384.58L114.02 379.92L114.42 384.76L115.06 379.63L115.57 383.20L116.08 381.24L116.88 381.11L117.68 384.69L118.55 382.77L119.33 380.86L120.11 382.89L120.86 381.94L121.71 380.23L122.54 384.87L122.96 380.51L123.96 379.49L124.85 382.49L125.29 382.78L125.69 384.10L126.27 384.54L127.21 379.82L127.85 379.91L128.71 379.57L129.15 379.70L130.07 380.48L130.66 381.68L131.39 381.48L132.36 381.04L133.05 384.17L133.59 380.04L134.49 380.90L135.43 383.93L136.05 381.00L136.51 384.24L137.18 381.05L137.69 380.36L138.61 379.78L139.34 382.75L140.06 382.01L140.69 380.15L141.59 384.38L142.32 380.51L143.27 380.21L143.77 382.76L144.67 382.43L145.14 384.87L145.63 381.06L146.63 383.75L147.48 379.45L148.39 381.40L148.80 383.73L149.76 379.29L150.43 384.41L151.03 380.82L151.89 381.65L152.89 378.64L153.81 377.74L154.33 377.62L155.07 376.40L155.81 375.33L156.33 378.97L156.95 374.13L157.94 376.56L158.74 375.54L159.23 375.49L160.13 375.14L161.08 375.33L162.02 374.57L162.68 374.27L163.17 376.64L163.79 376.73L164.32 375.36L164.91 378.89L165.36 376.00L166.28 376.93L166.83 379.48L167.29 374.32L167.70 376.13L168.62 375.19L169.19 378.29L169.64 373.60L170.44 374.03L171.15 374.37L171.91 378.61L172.59 375.14L173.36 377.70L173.79 374.94L174.42 376.53L174.98 377.45L175.54 378.93L176.15 374.83L176.59 374.26L177.12 378.80L177.77 376.16L178.75 379.30L179.61 374.94L180.21 376.53L180.76 375.58L181.29 374.95L182.14 377.12L182.81 376.33L183.57 377.61L183.99 378.56L184.66 375.55L185.64 378.04L186.25 373.65L186.91 376.14L187.54 374.09L188.28 380.03L189.14 381.67L189.72 383.46L190.38 379.01L190.95 378.82L191.61 383.95L192.57 382.41L193.07 379.94L193.59 380.74L194.37 378.63L195.07 381.05L195.86 383.46L196.50 382.12L197.06 381.23L197.84 378.81L198.55 381.51L199.06 379.99L199.96 380.60L200.47 380.21L201.19 380.89L201.80 380.44L202.33 381.53L203.09 379.03L203.84 380.35L204.83 384.13L205.31 382.68L205.91 379.17L206.84 383.95L207.71 382.32L208.70 381.83L209.50 382.42L210.42 383.64L211.00 379.75L211.73 382.04L212.34 383.66L213.25 382.62L213.97 382.67L214.49 383.35L214.96 383.92L215.74 380.16L216.25 382.10L216.93 382.68L217.39 383.75L218.05 381.14L218.89 382.14L219.56 380.26L220.24 378.69L220.79 383.45L221.26 379.02L222.17 380.74L222.89 382.02L223.72 380.41L224.58 378.50L225.49 380.36L226.27 380.32L227.12 380.76L227.88 380.42L228.78 383.16L229.30 383.04L230.26 379.92L230.78 384.09L231.76 379.28L232.62 384.08L233.18 383.18L233.76 383.22L234.46 381.33L234.94 382.41L235.76 380.24L236.19 379.04L236.74 384.48L237.59 383.88L238.44 379.30L239.07 384.20L239.98 384.45L240.87 382.77L241.73 383.99L242.39 378.70L242.97 378.58L243.54 382.04L244.10 379.99L244.56 380.65L245.27 382.05L246.24 378.92L246.79 378.96L247.75 382.29L248.54 383.38L248.94 383.92L249.54 382.27L250.18 382.97L250.76 380.17L251.31 378.85L251.99 375.43L252.60 377.91L253.22 378.05L254.13 378.34L255.01 376.32L255.93 380.14L256.65 374.64L257.10 379.04L258.02 378.85L258.73 377.74L259.20 378.09L260.20 375.73L260.96 379.60L261.75 376.60L262.30 378.90L263.25 379.77L263.5 388Z" fill="#141414" opacity="0.85"/>
<rect x="55.6" y="384.5" width="207.9" height="3.5" fill="#111"/>
<rect x="55.60" y="389.0" width="2.44" height="7.0" fill="#a4a4a4"/>
<rect x="57.89" y="389.0" width="1.70" height="7.0" fill="#a0a0a0"/>
<rect x="59.44" y="389.0" width="1.72" height="7.0" fill="#7f7f7f"/>
<rect x="61.01" y="389.0" width="0.95" height="7.0" fill="#9e9e9e"/>
<rect x="61.81" y="389.0" width="2.46" height="7.0" fill="#767676"/>
<rect x="64.12" y="389.0" width="1.07" height="7.0" fill="#868686"/>
<rect x="65.04" y="389.0" width="1.37" height="7.0" fill="#9f9f9f"/>
<rect x="66.26" y="389.0" width="1.33" height="7.0" fill="#969696"/>
<rect x="67.44" y="389.0" width="2.05" height="7.0" fill="#888888"/>
<rect x="69.34" y="389.0" width="2.66" height="7.0" fill="#8d8d8d"/>
<rect x="71.85" y="389.0" width="1.97" height="7.0" fill="#9b9b9b"/>
<rect x="73.67" y="389.0" width="1.76" height="7.0" fill="#949494"/>
<rect x="75.28" y="389.0" width="1.94" height="7.0" fill="#5f5f5f"/>
<rect x="77.07" y="389.0" width="1.83" height="7.0" fill="#5c5c5c"/>
<rect x="78.76" y="389.0" width="2.91" height="7.0" fill="#969696"/>
<rect x="81.52" y="389.0" width="2.57" height="7.0" fill="#727272"/>
<rect x="83.94" y="389.0" width="2.56" height="7.0" fill="#848484"/>
<rect x="86.35" y="389.0" width="2.38" height="7.0" fill="#5a5a5a"/>
<rect x="88.58" y="389.0" width="0.97" height="7.0" fill="#888888"/>
<rect x="89.40" y="389.0" width="1.68" height="7.0" fill="#5f5f5f"/>
<rect x="90.93" y="389.0" width="1.58" height="7.0" fill="#525252"/>
<rect x="92.36" y="389.0" width="2.75" height="7.0" fill="#515151"/>
<rect x="94.97" y="389.0" width="2.62" height="7.0" fill="#7e7e7e"/>
<rect x="97.44" y="389.0" width="1.40" height="7.0" fill="#666666"/>
<rect x="98.69" y="389.0" width="1.03" height="7.0" fill="#626262"/>
<rect x="99.57" y="389.0" width="2.18" height="7.0" fill="#696969"/>
<rect x="101.59" y="389.0" width="1.10" height="7.0" fill="#5e5e5e"/>
<rect x="102.54" y="389.0" width="1.89" height="7.0" fill="#898989"/>
<rect x="104.29" y="389.0" width="1.49" height="7.0" fill="#646464"/>
<rect x="105.63" y="389.0" width="1.27" height="7.0" fill="#5b5b5b"/>
<rect x="106.74" y="389.0" width="2.93" height="7.0" fill="#6f6f6f"/>
<rect x="109.53" y="389.0" width="1.00" height="7.0" fill="#747474"/>
<rect x="110.38" y="389.0" width="2.28" height="7.0" fill="#898989"/>
<rect x="112.51" y="389.0" width="2.63" height="7.0" fill="#838383"/>
<rect x="114.99" y="389.0" width="2.94" height="7.0" fill="#707070"/>
<rect x="117.78" y="389.0" width="2.09" height="7.0" fill="#4a4a4a"/>
<rect x="119.72" y="389.0" width="0.99" height="7.0" fill="#676767"/>
<rect x="120.56" y="389.0" width="2.73" height="7.0" fill="#8a8a8a"/>
<rect x="123.15" y="389.0" width="1.43" height="7.0" fill="#878787"/>
<rect x="124.43" y="389.0" width="1.20" height="7.0" fill="#757575"/>
<rect x="125.48" y="389.0" width="2.18" height="7.0" fill="#6f6f6f"/>
<rect x="127.51" y="389.0" width="1.92" height="7.0" fill="#6b6b6b"/>
<rect x="129.28" y="389.0" width="1.89" height="7.0" fill="#808080"/>
<rect x="131.03" y="389.0" width="2.95" height="7.0" fill="#7c7c7c"/>
<rect x="133.82" y="389.0" width="2.89" height="7.0" fill="#4f4f4f"/>
<rect x="136.56" y="389.0" width="1.12" height="7.0" fill="#717171"/>
<rect x="137.53" y="389.0" width="2.80" height="7.0" fill="#4f4f4f"/>
<rect x="140.17" y="389.0" width="2.77" height="7.0" fill="#5d5d5d"/>
<rect x="142.80" y="389.0" width="1.51" height="7.0" fill="#6c6c6c"/>
<rect x="144.16" y="389.0" width="2.92" height="7.0" fill="#8b8b8b"/>
<rect x="146.93" y="389.0" width="2.08" height="7.0" fill="#909090"/>
<rect x="148.87" y="389.0" width="1.70" height="7.0" fill="#474747"/>
<rect x="150.42" y="389.0" width="1.65" height="7.0" fill="#464646"/>
<rect x="151.92" y="389.0" width="1.30" height="7.0" fill="#737373"/>
<rect x="153.07" y="389.0" width="1.11" height="7.0" fill="#ababab"/>
<rect x="154.03" y="389.0" width="1.30" height="7.0" fill="#818181"/>
<rect x="155.18" y="389.0" width="2.93" height="7.0" fill="#797979"/>
<rect x="157.96" y="389.0" width="2.64" height="7.0" fill="#757575"/>
<rect x="160.45" y="389.0" width="1.35" height="7.0" fill="#aeaeae"/>
<rect x="161.66" y="389.0" width="1.84" height="7.0" fill="#9e9e9e"/>
<rect x="163.34" y="389.0" width="1.55" height="7.0" fill="#979797"/>
<rect x="164.74" y="389.0" width="1.04" height="7.0" fill="#828282"/>
<rect x="165.63" y="389.0" width="2.28" height="7.0" fill="#9e9e9e"/>
<rect x="167.76" y="389.0" width="1.87" height="7.0" fill="#a1a1a1"/>
<rect x="169.48" y="389.0" width="1.30" height="7.0" fill="#a6a6a6"/>
<rect x="170.63" y="389.0" width="1.31" height="7.0" fill="#7e7e7e"/>
<rect x="171.79" y="389.0" width="1.75" height="7.0" fill="#8d8d8d"/>
<rect x="173.39" y="389.0" width="2.38" height="7.0" fill="#919191"/>
<rect x="175.62" y="389.0" width="2.00" height="7.0" fill="#858585"/>
<rect x="177.47" y="389.0" width="1.27" height="7.0" fill="#a0a0a0"/>
<rect x="178.59" y="389.0" width="1.39" height="7.0" fill="#acacac"/>
<rect x="179.83" y="389.0" width="2.80" height="7.0" fill="#ababab"/>
<rect x="182.48" y="389.0" width="1.35" height="7.0" fill="#969696"/>
<rect x="183.69" y="389.0" width="1.32" height="7.0" fill="#8b8b8b"/>
<rect x="184.86" y="389.0" width="1.61" height="7.0" fill="#858585"/>
<rect x="186.32" y="389.0" width="1.00" height="7.0" fill="#7f7f7f"/>
<rect x="187.17" y="389.0" width="2.34" height="7.0" fill="#a4a4a4"/>
<rect x="189.36" y="389.0" width="1.98" height="7.0" fill="#939393"/>
<rect x="191.19" y="389.0" width="2.74" height="7.0" fill="#8c8c8c"/>
<rect x="193.77" y="389.0" width="2.04" height="7.0" fill="#868686"/>
<rect x="195.67" y="389.0" width="1.41" height="7.0" fill="#8e8e8e"/>
<rect x="196.92" y="389.0" width="2.24" height="7.0" fill="#898989"/>
<rect x="199.01" y="389.0" width="2.35" height="7.0" fill="#7c7c7c"/>
<rect x="201.22" y="389.0" width="1.05" height="7.0" fill="#858585"/>
<rect x="202.12" y="389.0" width="1.46" height="7.0" fill="#aaaaaa"/>
<rect x="203.43" y="389.0" width="1.88" height="7.0" fill="#a9a9a9"/>
<rect x="205.16" y="389.0" width="1.17" height="7.0" fill="#aeaeae"/>
<rect x="206.18" y="389.0" width="1.38" height="7.0" fill="#999999"/>
<rect x="207.42" y="389.0" width="1.63" height="7.0" fill="#a6a6a6"/>
<rect x="208.89" y="389.0" width="2.40" height="7.0" fill="#999999"/>
<rect x="211.14" y="389.0" width="1.56" height="7.0" fill="#a3a3a3"/>
<rect x="212.55" y="389.0" width="1.37" height="7.0" fill="#747474"/>
<rect x="213.77" y="389.0" width="1.73" height="7.0" fill="#767676"/>
<rect x="215.35" y="389.0" width="2.64" height="7.0" fill="#a5a5a5"/>
<rect x="217.84" y="389.0" width="1.56" height="7.0" fill="#888888"/>
<rect x="219.25" y="389.0" width="2.44" height="7.0" fill="#acacac"/>
<rect x="221.54" y="389.0" width="1.96" height="7.0" fill="#9c9c9c"/>
<rect x="223.36" y="389.0" width="1.39" height="7.0" fill="#7e7e7e"/>
<rect x="224.60" y="389.0" width="1.20" height="7.0" fill="#acacac"/>
<rect x="225.65" y="389.0" width="1.66" height="7.0" fill="#959595"/>
<rect x="227.16" y="389.0" width="2.28" height="7.0" fill="#898989"/>
<rect x="229.29" y="389.0" width="2.29" height="7.0" fill="#8d8d8d"/>
<rect x="231.42" y="389.0" width="2.25" height="7.0" fill="#8a8a8a"/>
<rect x="233.52" y="389.0" width="1.68" height="7.0" fill="#a9a9a9"/>
<rect x="235.05" y="389.0" width="1.03" height="7.0" fill="#8f8f8f"/>
<rect x="235.93" y="389.0" width="2.67" height="7.0" fill="#a8a8a8"/>
<rect x="238.45" y="389.0" width="1.72" height="7.0" fill="#9c9c9c"/>
<rect x="240.03" y="389.0" width="1.29" height="7.0" fill="#aaaaaa"/>
<rect x="241.16" y="389.0" width="2.42" height="7.0" fill="#9d9d9d"/>
<rect x="243.44" y="389.0" width="2.05" height="7.0" fill="#afafaf"/>
<rect x="245.33" y="389.0" width="1.10" height="7.0" fill="#a1a1a1"/>
<rect x="246.28" y="389.0" width="2.94" height="7.0" fill="#858585"/>
<rect x="249.07" y="389.0" width="1.23" height="7.0" fill="#a1a1a1"/>
<rect x="250.15" y="389.0" width="1.56" height="7.0" fill="#7e7e7e"/>
<rect x="251.57" y="389.0" width="2.15" height="7.0" fill="#848484"/>
<rect x="253.57" y="389.0" width="2.21" height="7.0" fill="#a3a3a3"/>
<rect x="255.63" y="389.0" width="2.89" height="7.0" fill="#777777"/>
<rect x="258.37" y="389.0" width="1.28" height="7.0" fill="#a4a4a4"/>
<rect x="259.50" y="389.0" width="2.65" height="7.0" fill="#9e9e9e"/>
<rect x="262.01" y="389.0" width="1.64" height="7.0" fill="#848484"/>
<rect x="55.6" y="397.0" width="16.2" height="8.2" fill="#20e848"/>
<rect x="71.8" y="397.0" width="81.0" height="8.2" fill="#fbb005"/>
<rect x="152.8" y="397.0" width="3.7" height="8.2" fill="#6a14ec"/>
<rect x="156.5" y="397.0" width="7.4" height="8.2" fill="#2038f0"/>
<rect x="163.9" y="397.0" width="15.9" height="8.2" fill="#78ee10"/>
<rect x="179.8" y="397.0" width="71.3" height="8.2" fill="#f80a0a"/>
<rect x="251.1" y="397.0" width="12.4" height="8.2" fill="#18ecec"/>
<rect x="55.60" y="407.8" width="1.45" height="14.5" fill="#f5ab6d"/>
<rect x="55.60" y="422.2" width="1.45" height="14.6" fill="#f9b978"/>
<rect x="55.60" y="436.7" width="1.45" height="14.5" fill="#fdebab"/>
<rect x="55.60" y="451.1" width="1.45" height="14.6" fill="#e5f2f6"/>
<rect x="55.60" y="465.6" width="1.45" height="14.5" fill="#c5dced"/>
<rect x="55.60" y="480.0" width="1.45" height="15.1" fill="#d3e6f2"/>
<rect x="56.90" y="407.8" width="3.77" height="14.5" fill="#f3a56a"/>
<rect x="56.90" y="422.2" width="3.77" height="14.6" fill="#f5aa6c"/>
<rect x="56.90" y="436.7" width="3.77" height="14.5" fill="#fdeaaa"/>
<rect x="56.90" y="451.1" width="3.77" height="14.6" fill="#e2f1f5"/>
<rect x="56.90" y="465.6" width="3.77" height="14.5" fill="#c3dbec"/>
<rect x="56.90" y="480.0" width="3.77" height="15.1" fill="#cee3f0"/>
<rect x="60.51" y="407.8" width="4.06" height="14.5" fill="#f7b16f"/>
<rect x="60.51" y="422.2" width="4.06" height="14.6" fill="#f9b978"/>
<rect x="60.51" y="436.7" width="4.06" height="14.5" fill="#fbd493"/>
<rect x="60.51" y="451.1" width="4.06" height="14.6" fill="#deeef4"/>
<rect x="60.51" y="465.6" width="4.06" height="14.5" fill="#cde3f0"/>
<rect x="60.51" y="480.0" width="4.06" height="15.1" fill="#d2e6f1"/>
<rect x="64.43" y="407.8" width="2.86" height="14.5" fill="#f7af6f"/>
<rect x="64.43" y="422.2" width="2.86" height="14.6" fill="#e17a58"/>
<rect x="64.43" y="436.7" width="2.86" height="14.5" fill="#fde7a7"/>
<rect x="64.43" y="451.1" width="2.86" height="14.6" fill="#ddedf4"/>
<rect x="64.43" y="465.6" width="2.86" height="14.5" fill="#bbd4e8"/>
<rect x="64.43" y="480.0" width="2.86" height="15.1" fill="#b8d2e7"/>
<rect x="67.14" y="407.8" width="2.64" height="14.5" fill="#f1a269"/>
<rect x="67.14" y="422.2" width="2.64" height="14.6" fill="#f5ac6d"/>
<rect x="67.14" y="436.7" width="2.64" height="14.5" fill="#fde9a9"/>
<rect x="67.14" y="451.1" width="2.64" height="14.6" fill="#ddedf4"/>
<rect x="67.14" y="465.6" width="2.64" height="14.5" fill="#cfe4f1"/>
<rect x="67.14" y="480.0" width="2.64" height="15.1" fill="#d2e6f1"/>
<rect x="69.63" y="407.8" width="1.81" height="14.5" fill="#f4a96c"/>
<rect x="69.63" y="422.2" width="1.81" height="14.6" fill="#d7624e"/>
<rect x="69.63" y="436.7" width="1.81" height="14.5" fill="#feefaf"/>
<rect x="69.63" y="451.1" width="1.81" height="14.6" fill="#dbecf3"/>
<rect x="69.63" y="465.6" width="1.81" height="14.5" fill="#bad3e8"/>
<rect x="69.63" y="480.0" width="1.81" height="15.1" fill="#d4e7f2"/>
<rect x="71.29" y="407.8" width="2.00" height="14.5" fill="#f7b16f"/>
<rect x="71.29" y="422.2" width="2.00" height="14.6" fill="#f9b978"/>
<rect x="71.29" y="436.7" width="2.00" height="14.5" fill="#fcda99"/>
<rect x="71.29" y="451.1" width="2.00" height="14.6" fill="#e3f1f5"/>
<rect x="71.29" y="465.6" width="2.00" height="14.5" fill="#cee4f1"/>
<rect x="71.29" y="480.0" width="2.00" height="15.1" fill="#d1e5f1"/>
<rect x="73.14" y="407.8" width="2.08" height="14.5" fill="#f9be7d"/>
<rect x="73.14" y="422.2" width="2.08" height="14.6" fill="#fac685"/>
<rect x="73.14" y="436.7" width="2.08" height="14.5" fill="#fac684"/>
<rect x="73.14" y="451.1" width="2.08" height="14.6" fill="#deeef4"/>
<rect x="73.14" y="465.6" width="2.08" height="14.5" fill="#b1cce4"/>
<rect x="73.14" y="480.0" width="2.08" height="15.1" fill="#cde3f0"/>
<rect x="75.06" y="407.8" width="2.04" height="14.5" fill="#facc8b"/>
<rect x="75.06" y="422.2" width="2.04" height="14.6" fill="#fbd494"/>
<rect x="75.06" y="436.7" width="2.04" height="14.5" fill="#fac887"/>
<rect x="75.06" y="451.1" width="2.04" height="14.6" fill="#e2f1f5"/>
<rect x="75.06" y="465.6" width="2.04" height="14.5" fill="#cfe4f1"/>
<rect x="75.06" y="480.0" width="2.04" height="15.1" fill="#d0e5f1"/>
<rect x="76.95" y="407.8" width="4.12" height="14.5" fill="#f7af6f"/>
<rect x="76.95" y="422.2" width="4.12" height="14.6" fill="#fbd493"/>
<rect x="76.95" y="436.7" width="4.12" height="14.5" fill="#facd8c"/>
<rect x="76.95" y="451.1" width="4.12" height="14.6" fill="#dbecf3"/>
<rect x="76.95" y="465.6" width="4.12" height="14.5" fill="#b9d3e8"/>
<rect x="76.95" y="480.0" width="4.12" height="15.1" fill="#d1e5f1"/>
<rect x="80.92" y="407.8" width="2.99" height="14.5" fill="#fcd998"/>
<rect x="80.92" y="422.2" width="2.99" height="14.6" fill="#fbd796"/>
<rect x="80.92" y="436.7" width="2.99" height="14.5" fill="#f9bb7a"/>
<rect x="80.92" y="451.1" width="2.99" height="14.6" fill="#ddedf4"/>
<rect x="80.92" y="465.6" width="2.99" height="14.5" fill="#c9e0ef"/>
<rect x="80.92" y="480.0" width="2.99" height="15.1" fill="#d8eaf3"/>
<rect x="83.76" y="407.8" width="3.52" height="14.5" fill="#facb8a"/>
<rect x="83.76" y="422.2" width="3.52" height="14.6" fill="#facc8b"/>
<rect x="83.76" y="436.7" width="3.52" height="14.5" fill="#f9bd7b"/>
<rect x="83.76" y="451.1" width="3.52" height="14.6" fill="#dfeff4"/>
<rect x="83.76" y="465.6" width="3.52" height="14.5" fill="#cee3f0"/>
<rect x="83.76" y="480.0" width="3.52" height="15.1" fill="#d0e4f1"/>
<rect x="87.13" y="407.8" width="2.85" height="14.5" fill="#fbd08f"/>
<rect x="87.13" y="422.2" width="2.85" height="14.6" fill="#fdeeae"/>
<rect x="87.13" y="436.7" width="2.85" height="14.5" fill="#fef1b2"/>
<rect x="87.13" y="451.1" width="2.85" height="14.6" fill="#deeef4"/>
<rect x="87.13" y="465.6" width="2.85" height="14.5" fill="#c1d9eb"/>
<rect x="87.13" y="480.0" width="2.85" height="15.1" fill="#b6d0e6"/>
<rect x="89.83" y="407.8" width="4.10" height="14.5" fill="#f8b674"/>
<rect x="89.83" y="422.2" width="4.10" height="14.6" fill="#fcdd9c"/>
<rect x="89.83" y="436.7" width="4.10" height="14.5" fill="#fac381"/>
<rect x="89.83" y="451.1" width="4.10" height="14.6" fill="#deeef4"/>
<rect x="89.83" y="465.6" width="4.10" height="14.5" fill="#bdd6e9"/>
<rect x="89.83" y="480.0" width="4.10" height="15.1" fill="#d1e5f1"/>
<rect x="93.78" y="407.8" width="2.66" height="14.5" fill="#f8b371"/>
<rect x="93.78" y="422.2" width="2.66" height="14.6" fill="#fbcf8f"/>
<rect x="93.78" y="436.7" width="2.66" height="14.5" fill="#f8b775"/>
<rect x="93.78" y="451.1" width="2.66" height="14.6" fill="#e0eff5"/>
<rect x="93.78" y="465.6" width="2.66" height="14.5" fill="#c6dded"/>
<rect x="93.78" y="480.0" width="2.66" height="15.1" fill="#d2e6f1"/>
<rect x="96.29" y="407.8" width="3.25" height="14.5" fill="#f8b775"/>
<rect x="96.29" y="422.2" width="3.25" height="14.6" fill="#f9b978"/>
<rect x="96.29" y="436.7" width="3.25" height="14.5" fill="#f8b170"/>
<rect x="96.29" y="451.1" width="3.25" height="14.6" fill="#e0eff5"/>
<rect x="96.29" y="465.6" width="3.25" height="14.5" fill="#c6dded"/>
<rect x="96.29" y="480.0" width="3.25" height="15.1" fill="#d2e6f1"/>
<rect x="99.39" y="407.8" width="2.35" height="14.5" fill="#f8b674"/>
<rect x="99.39" y="422.2" width="2.35" height="14.6" fill="#f8b675"/>
<rect x="99.39" y="436.7" width="2.35" height="14.5" fill="#f9bc7a"/>
<rect x="99.39" y="451.1" width="2.35" height="14.6" fill="#e1f0f5"/>
<rect x="99.39" y="465.6" width="2.35" height="14.5" fill="#cde3f0"/>
<rect x="99.39" y="480.0" width="2.35" height="15.1" fill="#d4e7f2"/>
<rect x="101.59" y="407.8" width="2.55" height="14.5" fill="#fac382"/>
<rect x="101.59" y="422.2" width="2.55" height="14.6" fill="#fac988"/>
<rect x="101.59" y="436.7" width="2.55" height="14.5" fill="#f9ba79"/>
<rect x="101.59" y="451.1" width="2.55" height="14.6" fill="#deeef4"/>
<rect x="101.59" y="465.6" width="2.55" height="14.5" fill="#bed6ea"/>
<rect x="101.59" y="480.0" width="2.55" height="15.1" fill="#d5e8f2"/>
<rect x="103.99" y="407.8" width="2.64" height="14.5" fill="#fbd695"/>
<rect x="103.99" y="422.2" width="2.64" height="14.6" fill="#fac483"/>
<rect x="103.99" y="436.7" width="2.64" height="14.5" fill="#f8b776"/>
<rect x="103.99" y="451.1" width="2.64" height="14.6" fill="#ddedf4"/>
<rect x="103.99" y="465.6" width="2.64" height="14.5" fill="#bdd6ea"/>
<rect x="103.99" y="480.0" width="2.64" height="15.1" fill="#d1e5f1"/>
<rect x="106.48" y="407.8" width="4.03" height="14.5" fill="#f9b876"/>
<rect x="106.48" y="422.2" width="4.03" height="14.6" fill="#f9bb79"/>
<rect x="106.48" y="436.7" width="4.03" height="14.5" fill="#fac382"/>
<rect x="106.48" y="451.1" width="4.03" height="14.6" fill="#dfeef4"/>
<rect x="106.48" y="465.6" width="4.03" height="14.5" fill="#cce2f0"/>
<rect x="106.48" y="480.0" width="4.03" height="15.1" fill="#c9e0ef"/>
<rect x="110.36" y="407.8" width="3.14" height="14.5" fill="#f9bb7a"/>
<rect x="110.36" y="422.2" width="3.14" height="14.6" fill="#f9bd7b"/>
<rect x="110.36" y="436.7" width="3.14" height="14.5" fill="#f4a76b"/>
<rect x="110.36" y="451.1" width="3.14" height="14.6" fill="#e0eff5"/>
<rect x="110.36" y="465.6" width="3.14" height="14.5" fill="#cde3f0"/>
<rect x="110.36" y="480.0" width="3.14" height="15.1" fill="#d3e6f2"/>
<rect x="113.35" y="407.8" width="3.26" height="14.5" fill="#f3a76b"/>
<rect x="113.35" y="422.2" width="3.26" height="14.6" fill="#f5aa6d"/>
<rect x="113.35" y="436.7" width="3.26" height="14.5" fill="#faca89"/>
<rect x="113.35" y="451.1" width="3.26" height="14.6" fill="#dcecf4"/>
<rect x="113.35" y="465.6" width="3.26" height="14.5" fill="#abc7e1"/>
<rect x="113.35" y="480.0" width="3.26" height="15.1" fill="#daebf3"/>
<rect x="116.46" y="407.8" width="2.67" height="14.5" fill="#f1a068"/>
<rect x="116.46" y="422.2" width="2.67" height="14.6" fill="#fac381"/>
<rect x="116.46" y="436.7" width="2.67" height="14.5" fill="#f9b876"/>
<rect x="116.46" y="451.1" width="2.67" height="14.6" fill="#daebf3"/>
<rect x="116.46" y="465.6" width="2.67" height="14.5" fill="#d7e9f3"/>
<rect x="116.46" y="480.0" width="2.67" height="15.1" fill="#cde2f0"/>
<rect x="118.98" y="407.8" width="3.02" height="14.5" fill="#fac988"/>
<rect x="118.98" y="422.2" width="3.02" height="14.6" fill="#fac785"/>
<rect x="118.98" y="436.7" width="3.02" height="14.5" fill="#f9bf7d"/>
<rect x="118.98" y="451.1" width="3.02" height="14.6" fill="#daebf3"/>
<rect x="118.98" y="465.6" width="3.02" height="14.5" fill="#cee3f0"/>
<rect x="118.98" y="480.0" width="3.02" height="15.1" fill="#d4e8f2"/>
<rect x="121.85" y="407.8" width="2.03" height="14.5" fill="#e78a5f"/>
<rect x="121.85" y="422.2" width="2.03" height="14.6" fill="#f8b270"/>
<rect x="121.85" y="436.7" width="2.03" height="14.5" fill="#fde6a7"/>
<rect x="121.85" y="451.1" width="2.03" height="14.6" fill="#e3f1f5"/>
<rect x="121.85" y="465.6" width="2.03" height="14.5" fill="#bad4e8"/>
<rect x="121.85" y="480.0" width="2.03" height="15.1" fill="#cde3f0"/>
<rect x="123.73" y="407.8" width="3.23" height="14.5" fill="#fac482"/>
<rect x="123.73" y="422.2" width="3.23" height="14.6" fill="#fac382"/>
<rect x="123.73" y="436.7" width="3.23" height="14.5" fill="#f9bd7c"/>
<rect x="123.73" y="451.1" width="3.23" height="14.6" fill="#ddedf4"/>
<rect x="123.73" y="465.6" width="3.23" height="14.5" fill="#c0d8eb"/>
<rect x="123.73" y="480.0" width="3.23" height="15.1" fill="#d2e6f1"/>
<rect x="126.81" y="407.8" width="2.72" height="14.5" fill="#f9bc7a"/>
<rect x="126.81" y="422.2" width="2.72" height="14.6" fill="#f8b371"/>
<rect x="126.81" y="436.7" width="2.72" height="14.5" fill="#f8b270"/>
<rect x="126.81" y="451.1" width="2.72" height="14.6" fill="#e0eff5"/>
<rect x="126.81" y="465.6" width="2.72" height="14.5" fill="#cbe2f0"/>
<rect x="126.81" y="480.0" width="2.72" height="15.1" fill="#d5e8f2"/>
<rect x="129.38" y="407.8" width="1.90" height="14.5" fill="#faca89"/>
<rect x="129.38" y="422.2" width="1.90" height="14.6" fill="#f9bb7a"/>
<rect x="129.38" y="436.7" width="1.90" height="14.5" fill="#fbd695"/>
<rect x="129.38" y="451.1" width="1.90" height="14.6" fill="#e0eff5"/>
<rect x="129.38" y="465.6" width="1.90" height="14.5" fill="#c6dded"/>
<rect x="129.38" y="480.0" width="1.90" height="15.1" fill="#d2e6f1"/>
<rect x="131.13" y="407.8" width="3.37" height="14.5" fill="#f8b775"/>
<rect x="131.13" y="422.2" width="3.37" height="14.6" fill="#f8b170"/>
<rect x="131.13" y="436.7" width="3.37" height="14.5" fill="#f8b472"/>
<rect x="131.13" y="451.1" width="3.37" height="14.6" fill="#e3f1f5"/>
<rect x="131.13" y="465.6" width="3.37" height="14.5" fill="#b8d2e7"/>
<rect x="131.13" y="480.0" width="3.37" height="15.1" fill="#cfe4f1"/>
<rect x="134.35" y="407.8" width="2.91" height="14.5" fill="#fef1b2"/>
<rect x="134.35" y="422.2" width="2.91" height="14.6" fill="#f9bb7a"/>
<rect x="134.35" y="436.7" width="2.91" height="14.5" fill="#ed9764"/>
<rect x="134.35" y="451.1" width="2.91" height="14.6" fill="#dbecf4"/>
<rect x="134.35" y="465.6" width="2.91" height="14.5" fill="#b9d3e7"/>
<rect x="134.35" y="480.0" width="2.91" height="15.1" fill="#d6e9f2"/>
<rect x="137.11" y="407.8" width="4.02" height="14.5" fill="#fbd797"/>
<rect x="137.11" y="422.2" width="4.02" height="14.6" fill="#f7af6f"/>
<rect x="137.11" y="436.7" width="4.02" height="14.5" fill="#facb8a"/>
<rect x="137.11" y="451.1" width="4.02" height="14.6" fill="#ddedf4"/>
<rect x="137.11" y="465.6" width="4.02" height="14.5" fill="#bdd6e9"/>
<rect x="137.11" y="480.0" width="4.02" height="15.1" fill="#d8eaf3"/>
<rect x="140.98" y="407.8" width="3.90" height="14.5" fill="#f9b876"/>
<rect x="140.98" y="422.2" width="3.90" height="14.6" fill="#f3a56a"/>
<rect x="140.98" y="436.7" width="3.90" height="14.5" fill="#fac685"/>
<rect x="140.98" y="451.1" width="3.90" height="14.6" fill="#dfeef4"/>
<rect x="140.98" y="465.6" width="3.90" height="14.5" fill="#bfd7ea"/>
<rect x="140.98" y="480.0" width="3.90" height="15.1" fill="#cbe1f0"/>
<rect x="144.73" y="407.8" width="1.77" height="14.5" fill="#f7b16f"/>
<rect x="144.73" y="422.2" width="1.77" height="14.6" fill="#fac684"/>
<rect x="144.73" y="436.7" width="1.77" height="14.5" fill="#f8b371"/>
<rect x="144.73" y="451.1" width="1.77" height="14.6" fill="#deeef4"/>
<rect x="144.73" y="465.6" width="1.77" height="14.5" fill="#c5dced"/>
<rect x="144.73" y="480.0" width="1.77" height="15.1" fill="#dbecf3"/>
<rect x="146.34" y="407.8" width="3.82" height="14.5" fill="#fcda9a"/>
<rect x="146.34" y="422.2" width="3.82" height="14.6" fill="#f9bf7e"/>
<rect x="146.34" y="436.7" width="3.82" height="14.5" fill="#fac583"/>
<rect x="146.34" y="451.1" width="3.82" height="14.6" fill="#dfeef4"/>
<rect x="146.34" y="465.6" width="3.82" height="14.5" fill="#bed7ea"/>
<rect x="146.34" y="480.0" width="3.82" height="15.1" fill="#d2e6f1"/>
<rect x="150.01" y="407.8" width="2.97" height="14.5" fill="#f9b877"/>
<rect x="150.01" y="422.2" width="2.97" height="14.6" fill="#facd8c"/>
<rect x="150.01" y="436.7" width="2.97" height="14.5" fill="#fac685"/>
<rect x="150.01" y="451.1" width="2.97" height="14.6" fill="#dcecf4"/>
<rect x="150.01" y="465.6" width="2.97" height="14.5" fill="#cde3f0"/>
<rect x="150.01" y="480.0" width="2.97" height="15.1" fill="#d0e5f1"/>
<rect x="152.83" y="407.8" width="1.46" height="14.5" fill="#e6865d"/>
<rect x="152.83" y="422.2" width="1.46" height="14.6" fill="#fdebab"/>
<rect x="152.83" y="436.7" width="1.46" height="14.5" fill="#fde4a4"/>
<rect x="152.83" y="451.1" width="1.46" height="14.6" fill="#daebf3"/>
<rect x="152.83" y="465.6" width="1.46" height="14.5" fill="#e0eff5"/>
<rect x="152.83" y="480.0" width="1.46" height="15.1" fill="#d9eaf3"/>
<rect x="154.14" y="407.8" width="2.34" height="14.5" fill="#ea8f61"/>
<rect x="154.14" y="422.2" width="2.34" height="14.6" fill="#dcecf4"/>
<rect x="154.14" y="436.7" width="2.34" height="14.5" fill="#fde7a7"/>
<rect x="154.14" y="451.1" width="2.34" height="14.6" fill="#d8eaf3"/>
<rect x="154.14" y="465.6" width="2.34" height="14.5" fill="#d7e9f3"/>
<rect x="154.14" y="480.0" width="2.34" height="15.1" fill="#d8eaf3"/>
<rect x="156.33" y="407.8" width="4.15" height="14.5" fill="#e5835c"/>
<rect x="156.33" y="422.2" width="4.15" height="14.6" fill="#f8b674"/>
<rect x="156.33" y="436.7" width="4.15" height="14.5" fill="#fce2a2"/>
<rect x="156.33" y="451.1" width="4.15" height="14.6" fill="#dfeef4"/>
<rect x="156.33" y="465.6" width="4.15" height="14.5" fill="#dfeef4"/>
<rect x="156.33" y="480.0" width="4.15" height="15.1" fill="#d8eaf3"/>
<rect x="160.32" y="407.8" width="2.04" height="14.5" fill="#fcdd9d"/>
<rect x="160.32" y="422.2" width="2.04" height="14.6" fill="#fdecac"/>
<rect x="160.32" y="436.7" width="2.04" height="14.5" fill="#e4825c"/>
<rect x="160.32" y="451.1" width="2.04" height="14.6" fill="#dfeff4"/>
<rect x="160.32" y="465.6" width="2.04" height="14.5" fill="#dcecf4"/>
<rect x="160.32" y="480.0" width="2.04" height="15.1" fill="#daebf3"/>
<rect x="162.21" y="407.8" width="2.25" height="14.5" fill="#fdedad"/>
<rect x="162.21" y="422.2" width="2.25" height="14.6" fill="#fffcbd"/>
<rect x="162.21" y="436.7" width="2.25" height="14.5" fill="#e5845c"/>
<rect x="162.21" y="451.1" width="2.25" height="14.6" fill="#dbecf3"/>
<rect x="162.21" y="465.6" width="2.25" height="14.5" fill="#d5e8f2"/>
<rect x="162.21" y="480.0" width="2.25" height="15.1" fill="#cbe1f0"/>
<rect x="164.31" y="407.8" width="2.93" height="14.5" fill="#cee3f0"/>
<rect x="164.31" y="422.2" width="2.93" height="14.6" fill="#d3e6f2"/>
<rect x="164.31" y="436.7" width="2.93" height="14.5" fill="#d1e5f1"/>
<rect x="164.31" y="451.1" width="2.93" height="14.6" fill="#feefb0"/>
<rect x="164.31" y="465.6" width="2.93" height="14.5" fill="#f4a86c"/>
<rect x="164.31" y="480.0" width="2.93" height="15.1" fill="#df7556"/>
<rect x="167.10" y="407.8" width="3.91" height="14.5" fill="#c8dfee"/>
<rect x="167.10" y="422.2" width="3.91" height="14.6" fill="#c8dfee"/>
<rect x="167.10" y="436.7" width="3.91" height="14.5" fill="#d0e5f1"/>
<rect x="167.10" y="451.1" width="3.91" height="14.6" fill="#fef3b4"/>
<rect x="167.10" y="465.6" width="3.91" height="14.5" fill="#f3a76b"/>
<rect x="167.10" y="480.0" width="3.91" height="15.1" fill="#e4825b"/>
<rect x="170.86" y="407.8" width="3.82" height="14.5" fill="#cee3f0"/>
<rect x="170.86" y="422.2" width="3.82" height="14.6" fill="#cee3f0"/>
<rect x="170.86" y="436.7" width="3.82" height="14.5" fill="#cee3f0"/>
<rect x="170.86" y="451.1" width="3.82" height="14.6" fill="#ffffc0"/>
<rect x="170.86" y="465.6" width="3.82" height="14.5" fill="#f1a169"/>
<rect x="170.86" y="480.0" width="3.82" height="15.1" fill="#ee9b66"/>
<rect x="174.53" y="407.8" width="2.96" height="14.5" fill="#cde3f0"/>
<rect x="174.53" y="422.2" width="2.96" height="14.6" fill="#c6dded"/>
<rect x="174.53" y="436.7" width="2.96" height="14.5" fill="#d2e6f1"/>
<rect x="174.53" y="451.1" width="2.96" height="14.6" fill="#fdedad"/>
<rect x="174.53" y="465.6" width="2.96" height="14.5" fill="#ef9b66"/>
<rect x="174.53" y="480.0" width="2.96" height="15.1" fill="#e7895f"/>
<rect x="177.34" y="407.8" width="1.74" height="14.5" fill="#cde3f0"/>
<rect x="177.34" y="422.2" width="1.74" height="14.6" fill="#d0e5f1"/>
<rect x="177.34" y="436.7" width="1.74" height="14.5" fill="#c2daec"/>
<rect x="177.34" y="451.1" width="1.74" height="14.6" fill="#fde6a6"/>
<rect x="177.34" y="465.6" width="1.74" height="14.5" fill="#f5ab6d"/>
<rect x="177.34" y="480.0" width="1.74" height="15.1" fill="#e4815b"/>
<rect x="178.93" y="407.8" width="4.09" height="14.5" fill="#d6e8f2"/>
<rect x="178.93" y="422.2" width="4.09" height="14.6" fill="#b3cee5"/>
<rect x="178.93" y="436.7" width="4.09" height="14.5" fill="#cce2f0"/>
<rect x="178.93" y="451.1" width="4.09" height="14.6" fill="#f3f9da"/>
<rect x="178.93" y="465.6" width="4.09" height="14.5" fill="#ef9b66"/>
<rect x="178.93" y="480.0" width="4.09" height="15.1" fill="#e98f61"/>
<rect x="182.87" y="407.8" width="3.84" height="14.5" fill="#bad4e8"/>
<rect x="182.87" y="422.2" width="3.84" height="14.6" fill="#cce2f0"/>
<rect x="182.87" y="436.7" width="3.84" height="14.5" fill="#c3dbec"/>
<rect x="182.87" y="451.1" width="3.84" height="14.6" fill="#eb9363"/>
<rect x="182.87" y="465.6" width="3.84" height="14.5" fill="#f7fbd1"/>
<rect x="182.87" y="480.0" width="3.84" height="15.1" fill="#df7556"/>
<rect x="186.56" y="407.8" width="2.20" height="14.5" fill="#cde3f0"/>
<rect x="186.56" y="422.2" width="2.20" height="14.6" fill="#cce2f0"/>
<rect x="186.56" y="436.7" width="2.20" height="14.5" fill="#cee3f0"/>
<rect x="186.56" y="451.1" width="2.20" height="14.6" fill="#f8b775"/>
<rect x="186.56" y="465.6" width="2.20" height="14.5" fill="#fde5a5"/>
<rect x="186.56" y="480.0" width="2.20" height="15.1" fill="#facd8c"/>
<rect x="188.61" y="407.8" width="3.48" height="14.5" fill="#bad3e8"/>
<rect x="188.61" y="422.2" width="3.48" height="14.6" fill="#d7e9f2"/>
<rect x="188.61" y="436.7" width="3.48" height="14.5" fill="#c2daec"/>
<rect x="188.61" y="451.1" width="3.48" height="14.6" fill="#ec9564"/>
<rect x="188.61" y="465.6" width="3.48" height="14.5" fill="#fbd898"/>
<rect x="188.61" y="480.0" width="3.48" height="15.1" fill="#e98e61"/>
<rect x="191.94" y="407.8" width="1.91" height="14.5" fill="#d1e5f1"/>
<rect x="191.94" y="422.2" width="1.91" height="14.6" fill="#cfe4f1"/>
<rect x="191.94" y="436.7" width="1.91" height="14.5" fill="#d4e7f2"/>
<rect x="191.94" y="451.1" width="1.91" height="14.6" fill="#f7b06f"/>
<rect x="191.94" y="465.6" width="1.91" height="14.5" fill="#fef2b2"/>
<rect x="191.94" y="480.0" width="1.91" height="15.1" fill="#fac887"/>
<rect x="193.70" y="407.8" width="2.94" height="14.5" fill="#d1e5f1"/>
<rect x="193.70" y="422.2" width="2.94" height="14.6" fill="#cfe4f1"/>
<rect x="193.70" y="436.7" width="2.94" height="14.5" fill="#d1e5f1"/>
<rect x="193.70" y="451.1" width="2.94" height="14.6" fill="#f5aa6c"/>
<rect x="193.70" y="465.6" width="2.94" height="14.5" fill="#fcde9e"/>
<rect x="193.70" y="480.0" width="2.94" height="15.1" fill="#fcdb9b"/>
<rect x="196.49" y="407.8" width="3.02" height="14.5" fill="#d4e7f2"/>
<rect x="196.49" y="422.2" width="3.02" height="14.6" fill="#cee3f0"/>
<rect x="196.49" y="436.7" width="3.02" height="14.5" fill="#d2e6f1"/>
<rect x="196.49" y="451.1" width="3.02" height="14.6" fill="#f6ad6e"/>
<rect x="196.49" y="465.6" width="3.02" height="14.5" fill="#fcda99"/>
<rect x="196.49" y="480.0" width="3.02" height="15.1" fill="#f9c17f"/>
<rect x="199.36" y="407.8" width="2.34" height="14.5" fill="#cee3f0"/>
<rect x="199.36" y="422.2" width="2.34" height="14.6" fill="#cfe4f1"/>
<rect x="199.36" y="436.7" width="2.34" height="14.5" fill="#c2daec"/>
<rect x="199.36" y="451.1" width="2.34" height="14.6" fill="#f8b170"/>
<rect x="199.36" y="465.6" width="2.34" height="14.5" fill="#fce2a2"/>
<rect x="199.36" y="480.0" width="2.34" height="15.1" fill="#fbd291"/>
<rect x="201.55" y="407.8" width="3.82" height="14.5" fill="#d1e5f1"/>
<rect x="201.55" y="422.2" width="3.82" height="14.6" fill="#cae0ef"/>
<rect x="201.55" y="436.7" width="3.82" height="14.5" fill="#c3dbec"/>
<rect x="201.55" y="451.1" width="3.82" height="14.6" fill="#f9c07e"/>
<rect x="201.55" y="465.6" width="3.82" height="14.5" fill="#fef6b7"/>
<rect x="201.55" y="480.0" width="3.82" height="15.1" fill="#fef1b1"/>
<rect x="205.22" y="407.8" width="3.66" height="14.5" fill="#cce2f0"/>
<rect x="205.22" y="422.2" width="3.66" height="14.6" fill="#cee3f0"/>
<rect x="205.22" y="436.7" width="3.66" height="14.5" fill="#d4e7f2"/>
<rect x="205.22" y="451.1" width="3.66" height="14.6" fill="#f0a068"/>
<rect x="205.22" y="465.6" width="3.66" height="14.5" fill="#fac988"/>
<rect x="205.22" y="480.0" width="3.66" height="15.1" fill="#f9b876"/>
<rect x="208.73" y="407.8" width="3.14" height="14.5" fill="#cee3f0"/>
<rect x="208.73" y="422.2" width="3.14" height="14.6" fill="#cee3f0"/>
<rect x="208.73" y="436.7" width="3.14" height="14.5" fill="#cee3f0"/>
<rect x="208.73" y="451.1" width="3.14" height="14.6" fill="#f1a169"/>
<rect x="208.73" y="465.6" width="3.14" height="14.5" fill="#fce2a2"/>
<rect x="208.73" y="480.0" width="3.14" height="15.1" fill="#f8b775"/>
<rect x="211.72" y="407.8" width="2.23" height="14.5" fill="#cde2f0"/>
<rect x="211.72" y="422.2" width="2.23" height="14.6" fill="#d0e4f1"/>
<rect x="211.72" y="436.7" width="2.23" height="14.5" fill="#d0e5f1"/>
<rect x="211.72" y="451.1" width="2.23" height="14.6" fill="#f8b371"/>
<rect x="211.72" y="465.6" width="2.23" height="14.5" fill="#fdeeaf"/>
<rect x="211.72" y="480.0" width="2.23" height="15.1" fill="#f8b170"/>
<rect x="213.80" y="407.8" width="4.14" height="14.5" fill="#b1cce4"/>
<rect x="213.80" y="422.2" width="4.14" height="14.6" fill="#c5dded"/>
<rect x="213.80" y="436.7" width="4.14" height="14.5" fill="#d0e5f1"/>
<rect x="213.80" y="451.1" width="4.14" height="14.6" fill="#f09e68"/>
<rect x="213.80" y="465.6" width="4.14" height="14.5" fill="#fcdd9c"/>
<rect x="213.80" y="480.0" width="4.14" height="15.1" fill="#f9b977"/>
<rect x="217.79" y="407.8" width="3.91" height="14.5" fill="#d1e5f1"/>
<rect x="217.79" y="422.2" width="3.91" height="14.6" fill="#d2e6f1"/>
<rect x="217.79" y="436.7" width="3.91" height="14.5" fill="#cce2f0"/>
<rect x="217.79" y="451.1" width="3.91" height="14.6" fill="#f09e67"/>
<rect x="217.79" y="465.6" width="3.91" height="14.5" fill="#fbd796"/>
<rect x="217.79" y="480.0" width="3.91" height="15.1" fill="#fbd494"/>
<rect x="221.55" y="407.8" width="3.79" height="14.5" fill="#d0e5f1"/>
<rect x="221.55" y="422.2" width="3.79" height="14.6" fill="#cee3f0"/>
<rect x="221.55" y="436.7" width="3.79" height="14.5" fill="#d0e5f1"/>
<rect x="221.55" y="451.1" width="3.79" height="14.6" fill="#f1a269"/>
<rect x="221.55" y="465.6" width="3.79" height="14.5" fill="#fde8a8"/>
<rect x="221.55" y="480.0" width="3.79" height="15.1" fill="#fbd08f"/>
<rect x="225.19" y="407.8" width="2.04" height="14.5" fill="#d2e6f1"/>
<rect x="225.19" y="422.2" width="2.04" height="14.6" fill="#cfe4f1"/>
<rect x="225.19" y="436.7" width="2.04" height="14.5" fill="#c2daec"/>
<rect x="225.19" y="451.1" width="2.04" height="14.6" fill="#f9c281"/>
<rect x="225.19" y="465.6" width="2.04" height="14.5" fill="#fcdc9c"/>
<rect x="225.19" y="480.0" width="2.04" height="15.1" fill="#facb8a"/>
<rect x="227.08" y="407.8" width="1.37" height="14.5" fill="#d2e6f1"/>
<rect x="227.08" y="422.2" width="1.37" height="14.6" fill="#cbe1f0"/>
<rect x="227.08" y="436.7" width="1.37" height="14.5" fill="#cde3f0"/>
<rect x="227.08" y="451.1" width="1.37" height="14.6" fill="#f5aa6c"/>
<rect x="227.08" y="465.6" width="1.37" height="14.5" fill="#faca89"/>
<rect x="227.08" y="480.0" width="1.37" height="15.1" fill="#faca89"/>
<rect x="228.30" y="407.8" width="3.95" height="14.5" fill="#cce2f0"/>
<rect x="228.30" y="422.2" width="3.95" height="14.6" fill="#d1e5f1"/>
<rect x="228.30" y="436.7" width="3.95" height="14.5" fill="#b0cce4"/>
<rect x="228.30" y="451.1" width="3.95" height="14.6" fill="#dc7054"/>
<rect x="228.30" y="465.6" width="3.95" height="14.5" fill="#f5fad6"/>
<rect x="228.30" y="480.0" width="3.95" height="15.1" fill="#fde7a7"/>
<rect x="232.10" y="407.8" width="1.55" height="14.5" fill="#cee3f0"/>
<rect x="232.10" y="422.2" width="1.55" height="14.6" fill="#cce2f0"/>
<rect x="232.10" y="436.7" width="1.55" height="14.5" fill="#cde3f0"/>
<rect x="232.10" y="451.1" width="1.55" height="14.6" fill="#f5aa6c"/>
<rect x="232.10" y="465.6" width="1.55" height="14.5" fill="#fde8a9"/>
<rect x="232.10" y="480.0" width="1.55" height="15.1" fill="#f8b371"/>
<rect x="233.50" y="407.8" width="3.81" height="14.5" fill="#cde3f0"/>
<rect x="233.50" y="422.2" width="3.81" height="14.6" fill="#d2e6f1"/>
<rect x="233.50" y="436.7" width="3.81" height="14.5" fill="#cde3f0"/>
<rect x="233.50" y="451.1" width="3.81" height="14.6" fill="#f9be7c"/>
<rect x="233.50" y="465.6" width="3.81" height="14.5" fill="#fde5a4"/>
<rect x="233.50" y="480.0" width="3.81" height="15.1" fill="#fac786"/>
<rect x="237.17" y="407.8" width="1.85" height="14.5" fill="#d4e7f2"/>
<rect x="237.17" y="422.2" width="1.85" height="14.6" fill="#cfe4f1"/>
<rect x="237.17" y="436.7" width="1.85" height="14.5" fill="#cde3f0"/>
<rect x="237.17" y="451.1" width="1.85" height="14.6" fill="#f8b775"/>
<rect x="237.17" y="465.6" width="1.85" height="14.5" fill="#f9bc7b"/>
<rect x="237.17" y="480.0" width="1.85" height="15.1" fill="#fac887"/>
<rect x="238.87" y="407.8" width="1.94" height="14.5" fill="#c6deee"/>
<rect x="238.87" y="422.2" width="1.94" height="14.6" fill="#d5e8f2"/>
<rect x="238.87" y="436.7" width="1.94" height="14.5" fill="#c4dbec"/>
<rect x="238.87" y="451.1" width="1.94" height="14.6" fill="#ef9c67"/>
<rect x="238.87" y="465.6" width="1.94" height="14.5" fill="#fef5b5"/>
<rect x="238.87" y="480.0" width="1.94" height="15.1" fill="#fffaba"/>
<rect x="240.66" y="407.8" width="1.94" height="14.5" fill="#cee3f0"/>
<rect x="240.66" y="422.2" width="1.94" height="14.6" fill="#d0e5f1"/>
<rect x="240.66" y="436.7" width="1.94" height="14.5" fill="#d3e7f2"/>
<rect x="240.66" y="451.1" width="1.94" height="14.6" fill="#f6ac6e"/>
<rect x="240.66" y="465.6" width="1.94" height="14.5" fill="#fbd897"/>
<rect x="240.66" y="480.0" width="1.94" height="15.1" fill="#f9c180"/>
<rect x="242.45" y="407.8" width="3.36" height="14.5" fill="#cee3f0"/>
<rect x="242.45" y="422.2" width="3.36" height="14.6" fill="#c1d9eb"/>
<rect x="242.45" y="436.7" width="3.36" height="14.5" fill="#c4dbec"/>
<rect x="242.45" y="451.1" width="3.36" height="14.6" fill="#f7af6f"/>
<rect x="242.45" y="465.6" width="3.36" height="14.5" fill="#fde4a4"/>
<rect x="242.45" y="480.0" width="3.36" height="15.1" fill="#f9c280"/>
<rect x="245.67" y="407.8" width="4.13" height="14.5" fill="#d7e9f3"/>
<rect x="245.67" y="422.2" width="4.13" height="14.6" fill="#d5e8f2"/>
<rect x="245.67" y="436.7" width="4.13" height="14.5" fill="#d2e6f1"/>
<rect x="245.67" y="451.1" width="4.13" height="14.6" fill="#db6c52"/>
<rect x="245.67" y="465.6" width="4.13" height="14.5" fill="#fbd594"/>
<rect x="245.67" y="480.0" width="4.13" height="15.1" fill="#f8b775"/>
<rect x="249.64" y="407.8" width="3.63" height="14.5" fill="#c6deee"/>
<rect x="249.64" y="422.2" width="3.63" height="14.6" fill="#d8eaf3"/>
<rect x="249.64" y="436.7" width="3.63" height="14.5" fill="#c5dced"/>
<rect x="249.64" y="451.1" width="3.63" height="14.6" fill="#f1a269"/>
<rect x="249.64" y="465.6" width="3.63" height="14.5" fill="#fbd695"/>
<rect x="249.64" y="480.0" width="3.63" height="15.1" fill="#facd8c"/>
<rect x="253.13" y="407.8" width="2.43" height="14.5" fill="#d3e6f2"/>
<rect x="253.13" y="422.2" width="2.43" height="14.6" fill="#c6dded"/>
<rect x="253.13" y="436.7" width="2.43" height="14.5" fill="#d1e5f1"/>
<rect x="253.13" y="451.1" width="2.43" height="14.6" fill="#f9bc7b"/>
<rect x="253.13" y="465.6" width="2.43" height="14.5" fill="#e5835c"/>
<rect x="253.13" y="480.0" width="2.43" height="15.1" fill="#fde4a4"/>
<rect x="255.40" y="407.8" width="3.74" height="14.5" fill="#d0e5f1"/>
<rect x="255.40" y="422.2" width="3.74" height="14.6" fill="#cfe4f1"/>
<rect x="255.40" y="436.7" width="3.74" height="14.5" fill="#d2e6f1"/>
<rect x="255.40" y="451.1" width="3.74" height="14.6" fill="#fde7a7"/>
<rect x="255.40" y="465.6" width="3.74" height="14.5" fill="#f4a76b"/>
<rect x="255.40" y="480.0" width="3.74" height="15.1" fill="#fbd493"/>
<rect x="259.00" y="407.8" width="2.25" height="14.5" fill="#d4e7f2"/>
<rect x="259.00" y="422.2" width="2.25" height="14.6" fill="#cce2f0"/>
<rect x="259.00" y="436.7" width="2.25" height="14.5" fill="#cde3f0"/>
<rect x="259.00" y="451.1" width="2.25" height="14.6" fill="#fce2a1"/>
<rect x="259.00" y="465.6" width="2.25" height="14.5" fill="#f8b473"/>
<rect x="259.00" y="480.0" width="2.25" height="15.1" fill="#fdebab"/>
<rect x="261.10" y="407.8" width="2.55" height="14.5" fill="#d2e6f1"/>
<rect x="261.10" y="422.2" width="2.55" height="14.6" fill="#cfe4f1"/>
<rect x="261.10" y="436.7" width="2.55" height="14.5" fill="#d1e5f1"/>
<rect x="261.10" y="451.1" width="2.55" height="14.6" fill="#fac382"/>
<rect x="261.10" y="465.6" width="2.55" height="14.5" fill="#ea9061"/>
<rect x="261.10" y="480.0" width="2.55" height="15.1" fill="#fbce8e"/>
<rect x="55.6" y="405.2" width="207.9" height="2.6" fill="#fdf6d8"/>
<line x1="45.9" y1="415.0" x2="45.9" y2="429.4" stroke="#333" stroke-width="0.8"/>
<line x1="45.9" y1="415.0" x2="55.6" y2="415.0" stroke="#333" stroke-width="0.8"/>
<line x1="45.9" y1="429.4" x2="55.6" y2="429.4" stroke="#333" stroke-width="0.8"/>
<line x1="45.4" y1="422.2" x2="45.4" y2="443.9" stroke="#333" stroke-width="0.8"/>
<line x1="45.4" y1="422.2" x2="45.9" y2="422.2" stroke="#333" stroke-width="0.8"/>
<line x1="45.4" y1="443.9" x2="55.6" y2="443.9" stroke="#333" stroke-width="0.8"/>
<line x1="45.4" y1="472.8" x2="45.4" y2="487.5" stroke="#333" stroke-width="0.8"/>
<line x1="45.4" y1="472.8" x2="55.6" y2="472.8" stroke="#333" stroke-width="0.8"/>
<line x1="45.4" y1="487.5" x2="55.6" y2="487.5" stroke="#333" stroke-width="0.8"/>
<line x1="42.2" y1="458.4" x2="42.2" y2="480.1" stroke="#333" stroke-width="0.8"/>
<line x1="42.2" y1="458.4" x2="55.6" y2="458.4" stroke="#333" stroke-width="0.8"/>
<line x1="42.2" y1="480.1" x2="45.4" y2="480.1" stroke="#333" stroke-width="0.8"/>
<line x1="17.6" y1="433.1" x2="17.6" y2="469.2" stroke="#333" stroke-width="0.8"/>
<line x1="17.6" y1="433.1" x2="45.4" y2="433.1" stroke="#333" stroke-width="0.8"/>
<line x1="17.6" y1="469.2" x2="42.2" y2="469.2" stroke="#333" stroke-width="0.8"/>
<text x="266.0" y="394.9" font-family="Liberation Sans" font-size="7.60" font-weight="bold" fill="#111" textLength="32.4" lengthAdjust="spacingAndGlyphs" stroke="#111" stroke-width="0.38">log2Mean</text>
<text x="266.0" y="404.1" font-family="Liberation Sans" font-size="7.60" font-weight="bold" fill="#111" textLength="23.9" lengthAdjust="spacingAndGlyphs" stroke="#111" stroke-width="0.38">Cluster</text>
<text x="266.5" y="417.6" font-family="Liberation Sans" font-size="7.6" fill="#222">NO<tspan font-size="4.8" dy="1.5">3</tspan><tspan font-size="4.8" dy="-4">-</tspan><tspan dy="2.5">-N.1</tspan></text>
<text x="266.5" y="432.1" font-family="Liberation Sans" font-size="7.6" fill="#222">NO<tspan font-size="4.8" dy="1.5">3</tspan><tspan font-size="4.8" dy="-4">-</tspan><tspan dy="2.5">-N.2</tspan></text>
<text x="266.5" y="446.5" font-family="Liberation Sans" font-size="7.6" fill="#222">NO<tspan font-size="4.8" dy="1.5">3</tspan><tspan font-size="4.8" dy="-4">-</tspan><tspan dy="2.5">-N.3</tspan></text>
<text x="266.5" y="461.0" font-family="Liberation Sans" font-size="7.6" fill="#222">NH<tspan font-size="4.8" dy="1.5">4</tspan><tspan font-size="4.8" dy="-4">+</tspan><tspan dy="2.5">-N.2</tspan></text>
<text x="266.5" y="475.4" font-family="Liberation Sans" font-size="7.6" fill="#222">NH<tspan font-size="4.8" dy="1.5">4</tspan><tspan font-size="4.8" dy="-4">+</tspan><tspan dy="2.5">-N.1</tspan></text>
<text x="266.5" y="490.1" font-family="Liberation Sans" font-size="7.6" fill="#222">NH<tspan font-size="4.8" dy="1.5">4</tspan><tspan font-size="4.8" dy="-4">+</tspan><tspan dy="2.5">-N.3</tspan></text>
<defs><linearGradient id="hb" x1="0" y1="0" x2="0" y2="1"><stop offset="0" stop-color="#d6604d"/><stop offset="0.25" stop-color="#f6ad6b"/><stop offset="0.5" stop-color="#ffffbf"/><stop offset="0.75" stop-color="#c6ddee"/><stop offset="1" stop-color="#4575b4"/></linearGradient></defs>
<rect x="302.3" y="389.2" width="6.3" height="108" fill="url(#hb)"/>
<text x="313.0" y="392.6" font-family="Liberation Sans" font-size="7.5" fill="#222">2</text>
<text x="313.0" y="419.5" font-family="Liberation Sans" font-size="7.5" fill="#222">1</text>
<text x="313.0" y="446.5" font-family="Liberation Sans" font-size="7.5" fill="#222">0</text>
<text x="311.5" y="473.1" font-family="Liberation Sans" font-size="7.5" fill="#222">−1</text>
<text x="311.5" y="499.6" font-family="Liberation Sans" font-size="7.5" fill="#222">−2</text>
<text x="322.0" y="393.9" font-family="Liberation Sans" font-size="7.60" font-weight="bold" fill="#111" textLength="32.9" lengthAdjust="spacingAndGlyphs" stroke="#111" stroke-width="0.38">log2Mean</text>
<rect x="322" y="397.0" width="10.7" height="10.5" fill="#111"/>
<rect x="322" y="407.4" width="10.7" height="10.5" fill="#555"/>
<rect x="322" y="417.8" width="10.7" height="10.5" fill="#8a8a8a"/>
<rect x="322" y="428.2" width="10.7" height="10.5" fill="#c6c6c6"/>
<text x="335.3" y="404.6" font-family="Liberation Sans" font-size="7.5" fill="#222">15</text>
<text x="335.3" y="436.3" font-family="Liberation Sans" font-size="7.5" fill="#222">5</text>
<text x="322.0" y="450.9" font-family="Liberation Sans" font-size="7.60" font-weight="bold" fill="#111" textLength="24.3" lengthAdjust="spacingAndGlyphs" stroke="#111" stroke-width="0.38">Cluster</text>
<rect x="322" y="454.1" width="10.7" height="10.3" fill="#f80a0a"/>
<text x="334.8" y="461.7" font-family="Liberation Sans" font-size="7.3" fill="#222">cluster 1</text>
<rect x="322" y="464.7" width="10.7" height="10.3" fill="#fba405"/>
<text x="334.8" y="472.3" font-family="Liberation Sans" font-size="7.3" fill="#222">cluster 2</text>
<rect x="322" y="475.2" width="10.7" height="10.3" fill="#78ee10"/>
<text x="334.8" y="482.8" font-family="Liberation Sans" font-size="7.3" fill="#222">cluster 3</text>
<rect x="322" y="485.8" width="10.7" height="10.3" fill="#20e848"/>
<text x="334.8" y="493.4" font-family="Liberation Sans" font-size="7.3" fill="#222">cluster 4</text>
<rect x="322" y="496.3" width="10.7" height="10.3" fill="#18ecec"/>
<text x="334.8" y="503.9" font-family="Liberation Sans" font-size="7.3" fill="#222">cluster 5</text>
<rect x="322" y="506.9" width="10.7" height="10.3" fill="#1a44f0"/>
<text x="334.8" y="514.5" font-family="Liberation Sans" font-size="7.3" fill="#222">cluster 6</text>
<rect x="322" y="517.4" width="10.7" height="10.3" fill="#7a14ec"/>
<text x="334.8" y="525.0" font-family="Liberation Sans" font-size="7.3" fill="#222">cluster 7</text>
<rect x="322" y="528.0" width="10.7" height="10.3" fill="#f812d0"/>
<text x="334.8" y="535.6" font-family="Liberation Sans" font-size="7.3" fill="#222">cluster 8</text>
<text x="5.8" y="543.5" font-family="Liberation Serif" font-weight="bold" font-size="19.80" fill="#111" textLength="23.6" lengthAdjust="spacingAndGlyphs" stroke="#111" stroke-width="0.35">(D)</text>
<rect x="223.0" y="551.8" width="162.4" height="409.8" fill="#ebebeb"/>
<line x1="233.3" y1="551.8" x2="233.3" y2="961.6" stroke="#fff" stroke-width="0.6"/>
<line x1="274.7" y1="551.8" x2="274.7" y2="961.6" stroke="#fff" stroke-width="0.6"/>
<line x1="316.0" y1="551.8" x2="316.0" y2="961.6" stroke="#fff" stroke-width="0.6"/>
<line x1="357.3" y1="551.8" x2="357.3" y2="961.6" stroke="#fff" stroke-width="0.6"/>
<line x1="254.0" y1="551.8" x2="254.0" y2="961.6" stroke="#fff" stroke-width="1.2"/>
<line x1="295.3" y1="551.8" x2="295.3" y2="961.6" stroke="#fff" stroke-width="1.2"/>
<line x1="336.6" y1="551.8" x2="336.6" y2="961.6" stroke="#fff" stroke-width="1.2"/>
<line x1="378.0" y1="551.8" x2="378.0" y2="961.6" stroke="#fff" stroke-width="1.2"/>
<line x1="223.0" y1="561.4" x2="385.4" y2="561.4" stroke="#fff" stroke-width="1.2"/>
<line x1="223.0" y1="578.4" x2="385.4" y2="578.4" stroke="#fff" stroke-width="1.2"/>
<line x1="223.0" y1="595.3" x2="385.4" y2="595.3" stroke="#fff" stroke-width="1.2"/>
<line x1="223.0" y1="612.2" x2="385.4" y2="612.2" stroke="#fff" stroke-width="1.2"/>
<line x1="223.0" y1="629.2" x2="385.4" y2="629.2" stroke="#fff" stroke-width="1.2"/>
<line x1="223.0" y1="646.1" x2="385.4" y2="646.1" stroke="#fff" stroke-width="1.2"/>
<line x1="223.0" y1="663.1" x2="385.4" y2="663.1" stroke="#fff" stroke-width="1.2"/>
<line x1="223.0" y1="680.0" x2="385.4" y2="680.0" stroke="#fff" stroke-width="1.2"/>
<line x1="223.0" y1="697.0" x2="385.4" y2="697.0" stroke="#fff" stroke-width="1.2"/>
<line x1="223.0" y1="713.9" x2="385.4" y2="713.9" stroke="#fff" stroke-width="1.2"/>
<line x1="223.0" y1="730.9" x2="385.4" y2="730.9" stroke="#fff" stroke-width="1.2"/>
<line x1="223.0" y1="747.8" x2="385.4" y2="747.8" stroke="#fff" stroke-width="1.2"/>
<line x1="223.0" y1="764.8" x2="385.4" y2="764.8" stroke="#fff" stroke-width="1.2"/>
<line x1="223.0" y1="781.8" x2="385.4" y2="781.8" stroke="#fff" stroke-width="1.2"/>
<line x1="223.0" y1="798.7" x2="385.4" y2="798.7" stroke="#fff" stroke-width="1.2"/>
<line x1="223.0" y1="815.6" x2="385.4" y2="815.6" stroke="#fff" stroke-width="1.2"/>
<line x1="223.0" y1="832.6" x2="385.4" y2="832.6" stroke="#fff" stroke-width="1.2"/>
<line x1="223.0" y1="849.5" x2="385.4" y2="849.5" stroke="#fff" stroke-width="1.2"/>
<line x1="223.0" y1="866.5" x2="385.4" y2="866.5" stroke="#fff" stroke-width="1.2"/>
<line x1="223.0" y1="883.5" x2="385.4" y2="883.5" stroke="#fff" stroke-width="1.2"/>
<line x1="223.0" y1="900.4" x2="385.4" y2="900.4" stroke="#fff" stroke-width="1.2"/>
<line x1="223.0" y1="917.3" x2="385.4" y2="917.3" stroke="#fff" stroke-width="1.2"/>
<line x1="223.0" y1="934.3" x2="385.4" y2="934.3" stroke="#fff" stroke-width="1.2"/>
<line x1="223.0" y1="951.2" x2="385.4" y2="951.2" stroke="#fff" stroke-width="1.2"/>
<line x1="219.8" y1="561.4" x2="223" y2="561.4" stroke="#333" stroke-width="1"/>
<text x="217.8" y="564.6" font-family="Liberation Sans" font-size="9.0" fill="#1c1c1c" stroke="#1c1c1c" stroke-width="0.3" text-anchor="end">ABC transporters</text>
<circle cx="245.7" cy="561.4" r="5.3" fill="#d4a020" stroke="none" stroke-width="0.8"/>
<line x1="219.8" y1="578.4" x2="223" y2="578.4" stroke="#333" stroke-width="1"/>
<text x="217.8" y="581.6" font-family="Liberation Sans" font-size="9.0" fill="#1c1c1c" stroke="#1c1c1c" stroke-width="0.3" text-anchor="end">Oxidative phosphorylation</text>
<circle cx="249.0" cy="578.4" r="4.6" fill="#d4a020" stroke="none" stroke-width="0.8"/>
<line x1="219.8" y1="595.3" x2="223" y2="595.3" stroke="#333" stroke-width="1"/>
<text x="217.8" y="598.5" font-family="Liberation Sans" font-size="9.0" fill="#1c1c1c" stroke="#1c1c1c" stroke-width="0.3" text-anchor="end">Photosynthesis</text>
<circle cx="253.2" cy="595.3" r="4.3" fill="#d6a524" stroke="none" stroke-width="0.8"/>
<line x1="219.8" y1="612.2" x2="223" y2="612.2" stroke="#333" stroke-width="1"/>
<text x="217.8" y="615.5" font-family="Liberation Sans" font-size="9.0" fill="#1c1c1c" stroke="#1c1c1c" stroke-width="0.3" text-anchor="end">Porphyrin and chlorophyll metabolism</text>
<circle cx="240.8" cy="612.2" r="4.0" fill="#e07a20" stroke="none" stroke-width="0.8"/>
<line x1="219.8" y1="629.2" x2="223" y2="629.2" stroke="#333" stroke-width="1"/>
<text x="217.8" y="632.4" font-family="Liberation Sans" font-size="9.0" fill="#1c1c1c" stroke="#1c1c1c" stroke-width="0.3" text-anchor="end">Two−component system</text>
<circle cx="244.1" cy="629.2" r="3.9" fill="#e07a20" stroke="none" stroke-width="0.8"/>
<line x1="219.8" y1="646.1" x2="223" y2="646.1" stroke="#333" stroke-width="1"/>
<text x="217.8" y="649.4" font-family="Liberation Sans" font-size="9.0" fill="#1c1c1c" stroke="#1c1c1c" stroke-width="0.3" text-anchor="end">Photosynthesis − antenna proteins</text>
<circle cx="303.3" cy="646.1" r="3.6" fill="#5ee040" stroke="none" stroke-width="0.8"/>
<line x1="219.8" y1="663.1" x2="223" y2="663.1" stroke="#333" stroke-width="1"/>
<text x="217.8" y="666.3" font-family="Liberation Sans" font-size="9.0" fill="#1c1c1c" stroke="#1c1c1c" stroke-width="0.3" text-anchor="end">Alanine, aspartate and glutamate metabolism</text>
<circle cx="251.5" cy="663.1" r="3.6" fill="#dc9524" stroke="none" stroke-width="0.8"/>
<line x1="219.8" y1="680.0" x2="223" y2="680.0" stroke="#333" stroke-width="1"/>
<text x="217.8" y="683.2" font-family="Liberation Sans" font-size="9.0" fill="#1c1c1c" stroke="#1c1c1c" stroke-width="0.3" text-anchor="end">Arginine biosynthesis</text>
<circle cx="263.9" cy="680.0" r="3.5" fill="#d6a524" stroke="none" stroke-width="0.8"/>
<line x1="219.8" y1="697.0" x2="223" y2="697.0" stroke="#333" stroke-width="1"/>
<text x="217.8" y="700.2" font-family="Liberation Sans" font-size="9.0" fill="#1c1c1c" stroke="#1c1c1c" stroke-width="0.3" text-anchor="end">Amino sugar and nucleotide sugar metabolism</text>
<circle cx="239.1" cy="697.0" r="3.4" fill="#e06a22" stroke="none" stroke-width="0.8"/>
<line x1="219.8" y1="713.9" x2="223" y2="713.9" stroke="#333" stroke-width="1"/>
<text x="217.8" y="717.1" font-family="Liberation Sans" font-size="9.0" fill="#1c1c1c" stroke="#1c1c1c" stroke-width="0.3" text-anchor="end">Fatty acid biosynthesis</text>
<circle cx="268.1" cy="713.9" r="3.2" fill="#d6a524" stroke="none" stroke-width="0.8"/>
<line x1="219.8" y1="730.9" x2="223" y2="730.9" stroke="#333" stroke-width="1"/>
<text x="217.8" y="734.1" font-family="Liberation Sans" font-size="9.0" fill="#1c1c1c" stroke="#1c1c1c" stroke-width="0.3" text-anchor="end">Streptomycin biosynthesis</text>
<circle cx="268.1" cy="730.9" r="3.2" fill="#d6a524" stroke="none" stroke-width="0.8"/>
<line x1="219.8" y1="747.8" x2="223" y2="747.8" stroke="#333" stroke-width="1"/>
<text x="217.8" y="751.0" font-family="Liberation Sans" font-size="9.0" fill="#1c1c1c" stroke="#1c1c1c" stroke-width="0.3" text-anchor="end">Polyketide sugar unit biosynthesis</text>
<circle cx="344.9" cy="747.8" r="3.2" fill="#55e040" stroke="none" stroke-width="0.8"/>
<line x1="219.8" y1="764.8" x2="223" y2="764.8" stroke="#333" stroke-width="1"/>
<text x="217.8" y="768.0" font-family="Liberation Sans" font-size="9.0" fill="#1c1c1c" stroke="#1c1c1c" stroke-width="0.3" text-anchor="end">Propanoate metabolism</text>
<circle cx="259.8" cy="764.8" r="3.1" fill="#dc9a28" stroke="none" stroke-width="0.8"/>
<line x1="219.8" y1="781.8" x2="223" y2="781.8" stroke="#333" stroke-width="1"/>
<text x="217.8" y="785.0" font-family="Liberation Sans" font-size="9.0" fill="#1c1c1c" stroke="#1c1c1c" stroke-width="0.3" text-anchor="end">Nitrogen metabolism</text>
<circle cx="251.5" cy="781.8" r="3.1" fill="#d6a524" stroke="none" stroke-width="0.8"/>
<line x1="219.8" y1="798.7" x2="223" y2="798.7" stroke="#333" stroke-width="1"/>
<text x="217.8" y="801.9" font-family="Liberation Sans" font-size="9.0" fill="#1c1c1c" stroke="#1c1c1c" stroke-width="0.3" text-anchor="end">Nonribosomal peptide structures</text>
<circle cx="378.0" cy="798.7" r="3.1" fill="#e02020" stroke="none" stroke-width="0.8"/>
<line x1="219.8" y1="815.6" x2="223" y2="815.6" stroke="#333" stroke-width="1"/>
<text x="217.8" y="818.9" font-family="Liberation Sans" font-size="9.0" fill="#1c1c1c" stroke="#1c1c1c" stroke-width="0.3" text-anchor="end">Ubiquinone and other terpenoid−quinone biosynthesis</text>
<circle cx="237.5" cy="815.6" r="2.7" fill="#e06a22" stroke="none" stroke-width="0.8"/>
<line x1="219.8" y1="832.6" x2="223" y2="832.6" stroke="#333" stroke-width="1"/>
<text x="217.8" y="835.8" font-family="Liberation Sans" font-size="9.0" fill="#1c1c1c" stroke="#1c1c1c" stroke-width="0.3" text-anchor="end">Lipopolysaccharide biosynthesis</text>
<circle cx="254.0" cy="832.6" r="2.8" fill="#dc9a28" stroke="none" stroke-width="0.8"/>
<line x1="219.8" y1="849.5" x2="223" y2="849.5" stroke="#333" stroke-width="1"/>
<text x="217.8" y="852.8" font-family="Liberation Sans" font-size="9.0" fill="#1c1c1c" stroke="#1c1c1c" stroke-width="0.3" text-anchor="end">Glycerolipid metabolism</text>
<circle cx="258.1" cy="849.5" r="2.9" fill="#dc9a28" stroke="none" stroke-width="0.8"/>
<line x1="219.8" y1="866.5" x2="223" y2="866.5" stroke="#333" stroke-width="1"/>
<text x="217.8" y="869.7" font-family="Liberation Sans" font-size="9.0" fill="#1c1c1c" stroke="#1c1c1c" stroke-width="0.3" text-anchor="end">Carbon fixation pathways in prokaryotes</text>
<circle cx="233.3" cy="866.5" r="3.0" fill="#e06024" stroke="none" stroke-width="0.8"/>
<line x1="219.8" y1="883.5" x2="223" y2="883.5" stroke="#333" stroke-width="1"/>
<text x="217.8" y="886.7" font-family="Liberation Sans" font-size="9.0" fill="#1c1c1c" stroke="#1c1c1c" stroke-width="0.3" text-anchor="end">Steroid hormone biosynthesis</text>
<circle cx="378.0" cy="883.5" r="2.3" fill="#a02a2a" stroke="none" stroke-width="0.8"/>
<line x1="219.8" y1="900.4" x2="223" y2="900.4" stroke="#333" stroke-width="1"/>
<text x="217.8" y="903.6" font-family="Liberation Sans" font-size="9.0" fill="#1c1c1c" stroke="#1c1c1c" stroke-width="0.3" text-anchor="end">Arginine and proline metabolism</text>
<circle cx="230.0" cy="900.4" r="2.4" fill="#a8603e" stroke="none" stroke-width="0.8"/>
<line x1="219.8" y1="917.3" x2="223" y2="917.3" stroke="#333" stroke-width="1"/>
<text x="217.8" y="920.5" font-family="Liberation Sans" font-size="9.0" fill="#1c1c1c" stroke="#1c1c1c" stroke-width="0.3" text-anchor="end">Acarbose and validamycin biosynthesis</text>
<circle cx="378.0" cy="917.3" r="2.3" fill="#a02a2a" stroke="none" stroke-width="0.8"/>
<line x1="219.8" y1="934.3" x2="223" y2="934.3" stroke="#333" stroke-width="1"/>
<text x="217.8" y="937.5" font-family="Liberation Sans" font-size="9.0" fill="#1c1c1c" stroke="#1c1c1c" stroke-width="0.3" text-anchor="end">Sphingolipid metabolism</text>
<circle cx="322.9" cy="934.3" r="2.3" fill="#7a9a3a" stroke="#e8d060" stroke-width="0.8"/>
<line x1="219.8" y1="951.2" x2="223" y2="951.2" stroke="#333" stroke-width="1"/>
<text x="217.8" y="954.5" font-family="Liberation Sans" font-size="9.0" fill="#1c1c1c" stroke="#1c1c1c" stroke-width="0.3" text-anchor="end">Biosynthesis of unsaturated fatty acids</text>
<circle cx="378.0" cy="951.2" r="2.3" fill="#a02a2a" stroke="none" stroke-width="0.8"/>
<line x1="254.0" y1="961.6" x2="254.0" y2="964.4" stroke="#333" stroke-width="1"/>
<text x="254.0" y="976.2" font-family="Liberation Sans" font-size="9.3" fill="#444" text-anchor="middle">0.25</text>
<line x1="295.3" y1="961.6" x2="295.3" y2="964.4" stroke="#333" stroke-width="1"/>
<text x="295.3" y="976.2" font-family="Liberation Sans" font-size="9.3" fill="#444" text-anchor="middle">0.50</text>
<line x1="336.6" y1="961.6" x2="336.6" y2="964.4" stroke="#333" stroke-width="1"/>
<text x="336.6" y="976.2" font-family="Liberation Sans" font-size="9.3" fill="#444" text-anchor="middle">0.75</text>
<line x1="378.0" y1="961.6" x2="378.0" y2="964.4" stroke="#333" stroke-width="1"/>
<text x="378.0" y="976.2" font-family="Liberation Sans" font-size="9.3" fill="#444" text-anchor="middle">1.00</text>
<text x="311.5" y="988.2" font-family="Liberation Sans" font-size="11.3" fill="#222" text-anchor="middle">GeneRatio</text>
<text transform="translate(16,722.8) rotate(-90)" x="0" y="0" font-family="Liberation Sans" font-size="13.6" fill="#222" text-anchor="middle">Pathway Name</text>
<text x="397" y="684.2" font-family="Liberation Sans" font-size="8.3" fill="#333">−log<tspan font-size="5.5" dy="1.6">10</tspan><tspan dy="-1.6">(</tspan><tspan font-style="italic">p</tspan> value)</text>
<defs><linearGradient id="pg" x1="0" y1="0" x2="0" y2="1"><stop offset="0" stop-color="#48ee25"/><stop offset="0.5" stop-color="#c8a010"/><stop offset="1" stop-color="#ff3a0a"/></linearGradient></defs>
<rect x="396.9" y="690.9" width="11.6" height="64.9" fill="url(#pg)"/>
<line x1="396.9" y1="696.9" x2="399" y2="696.9" stroke="#fff" stroke-width="0.6"/>
<line x1="406.4" y1="696.9" x2="408.5" y2="696.9" stroke="#fff" stroke-width="0.6"/>
<text x="412.6" y="699.9" font-family="Liberation Sans" font-size="8.3" fill="#333">4</text>
<line x1="396.9" y1="711.9" x2="399" y2="711.9" stroke="#fff" stroke-width="0.6"/>
<line x1="406.4" y1="711.9" x2="408.5" y2="711.9" stroke="#fff" stroke-width="0.6"/>
<text x="412.6" y="714.9" font-family="Liberation Sans" font-size="8.3" fill="#333">3</text>
<line x1="396.9" y1="727.0" x2="399" y2="727.0" stroke="#fff" stroke-width="0.6"/>
<line x1="406.4" y1="727.0" x2="408.5" y2="727.0" stroke="#fff" stroke-width="0.6"/>
<text x="412.6" y="730.0" font-family="Liberation Sans" font-size="8.3" fill="#333">2</text>
<line x1="396.9" y1="741.2" x2="399" y2="741.2" stroke="#fff" stroke-width="0.6"/>
<line x1="406.4" y1="741.2" x2="408.5" y2="741.2" stroke="#fff" stroke-width="0.6"/>
<text x="412.6" y="744.2" font-family="Liberation Sans" font-size="8.3" fill="#333">1</text>
<line x1="396.9" y1="755.8" x2="399" y2="755.8" stroke="#fff" stroke-width="0.6"/>
<line x1="406.4" y1="755.8" x2="408.5" y2="755.8" stroke="#fff" stroke-width="0.6"/>
<text x="412.6" y="758.8" font-family="Liberation Sans" font-size="8.3" fill="#333">0</text>
<text x="397" y="780.4" font-family="Liberation Sans" font-size="8.6" fill="#333">Gene Count</text>
<circle cx="402.5" cy="792.2" r="2.8" fill="#000"/>
<text x="413" y="795.2" font-family="Liberation Sans" font-size="8.3" fill="#333">4</text>
<circle cx="402.5" cy="804.7" r="4.0" fill="#000"/>
<text x="413" y="807.7" font-family="Liberation Sans" font-size="8.3" fill="#333">8</text>
<circle cx="402.5" cy="817.3" r="4.8" fill="#000"/>
<text x="413" y="820.3" font-family="Liberation Sans" font-size="8.3" fill="#333">12</text>
<circle cx="402.5" cy="830.7" r="5.8" fill="#000"/>
<text x="413" y="833.7" font-family="Liberation Sans" font-size="8.3" fill="#333">16</text>
<text x="412.0" y="25.4" font-family="Liberation Serif" font-weight="bold" font-size="17.80" fill="#111" textLength="23.6" lengthAdjust="spacingAndGlyphs" stroke="#111" stroke-width="0.35">(C)</text>
<text x="462.6" y="30.6" font-family="Liberation Serif" font-weight="bold" font-size="16.90" fill="#111" textLength="107.8" lengthAdjust="spacingAndGlyphs" stroke="#111" stroke-width="0.35">Biological process</text>
<text x="462.5" y="540.6" font-family="Liberation Serif" font-weight="bold" font-size="16.00" fill="#111" textLength="115.5" lengthAdjust="spacingAndGlyphs" stroke="#111" stroke-width="0.35">Molecular function</text>
<path d="M522.7 128.7L496.4 108.0M490.1 109.6L470.4 154.4M496.2 176.9L492.5 110.0M522.4 135.8L508.0 145.6M499.1 149.8L473.2 157.6M543.5 165.3L508.5 150.4M545.8 162.8L530.5 137.5M569.7 124.3L551.0 162.6M588.7 152.3L553.7 165.5M573.0 180.2L572.2 124.9M576.3 181.0L591.0 154.9M566.6 186.3L502.0 182.7M541.9 204.2L547.6 172.9M567.8 190.5L545.7 206.6M534.8 210.6L480.7 215.0M493.5 187.0L478.2 210.9M474.5 210.0L469.0 164.0M572.2 250.8L544.5 214.9M627.4 232.8L578.1 190.9M626.2 239.0L581.6 253.7M705.3 279.2L638.0 240.3M784.1 321.0L715.8 285.0M568.0 182.7L552.9 170.9M810.2 219.6L767.2 215.1M813.8 211.7L794.3 193.2M835.1 213.9L855.4 201.2M830.9 209.7L849.2 181.6M824.3 207.5L825.8 179.3M836.0 226.3L893.1 250.5M816.2 243.2L819.3 233.8M818.6 244.0L821.8 234.6M798.9 259.6L773.7 266.5M799.9 313.6L809.1 269.2M816.2 268.8L826.3 298.9M749.3 209.8L727.4 198.9M760.5 205.0L771.4 168.3M777.1 187.7L728.1 194.5M716.0 189.6L686.6 152.9M787.4 176.3L788.8 137.0M792.6 178.0L818.9 138.6M813.6 164.6L783.5 160.5M817.5 156.9L795.7 134.3M815.1 160.0L783.5 142.7M864.4 163.3L870.1 158.0M848.0 162.3L827.9 138.2M871.0 187.5L887.2 168.1M867.5 185.6L894.3 102.1M900.8 207.7L960.8 189.3M900.1 215.7L916.8 224.4M891.0 200.3L891.6 169.7M900.0 244.5L893.6 220.9M909.0 246.1L918.8 232.7M927.4 223.0L962.2 191.8M950.9 139.0L985.1 125.9M995.2 121.6L1024.4 108.4M940.3 103.0L943.7 134.5M898.2 160.1L937.9 144.1M964.1 181.6L947.5 147.8M904.1 95.1L932.0 95.4M885.4 125.4L894.0 102.0M863.1 118.9L890.5 99.4M812.2 74.1L813.8 38.5M821.5 125.1L813.4 87.9M702.4 70.9L676.1 82.2M740.7 79.4L765.2 69.3M738.7 105.6L711.3 112.6M750.2 97.6L767.4 72.0M699.3 109.6L675.2 88.1M709.3 109.2L731.1 86.1M732.5 126.5L710.9 117.1M745.4 166.8L739.2 134.8M771.2 132.8L750.9 109.5M752.1 143.3L747.2 111.2M707.9 154.0L705.1 121.3M714.8 159.0L746.4 151.8M759.5 147.1L769.3 142.3M686.2 140.8L700.5 120.1M718.2 188.4L710.6 166.6M740.5 98.8L711.5 72.4M778.8 110.3L797.1 104.8M808.7 104.5L834.2 110.3M767.3 110.3L753.2 106.0M764.7 158.0L689.3 148.0M766.8 153.1L742.6 132.8M773.9 149.7L773.1 118.0M779.8 129.2L689.3 145.7M793.3 119.0L808.8 87.4M815.7 131.3L798.5 128.9M825.2 153.4L823.8 139.9M822.0 154.1L805.0 108.7M844.0 174.0L796.8 184.2M852.7 159.9L841.5 117.5M862.5 161.6L879.0 137.8M871.5 143.8L861.3 129.4M867.3 185.5L881.0 138.7M888.4 200.6L879.2 160.8M839.0 162.6L867.9 154.2M889.8 156.0L884.9 138.7M740.5 171.1L714.7 162.6M768.8 136.8L743.8 130.4M782.0 133.8L782.5 133.5M836.9 219.0L880.4 212.4M765.6 163.5L752.5 170.2M780.2 179.0L758.0 155.3M755.3 204.9L748.4 179.5M845.4 114.3L876.7 129.0M809.2 87.6L805.2 97.5M792.7 313.9L787.1 295.7M783.5 322.2L758.1 311.7M782.5 329.9L763.0 332.7M786.2 337.6L770.4 351.9M784.9 336.0L743.8 364.3M797.0 342.3L797.2 374.8M811.2 330.2L848.7 336.4M805.0 339.8L842.1 395.1M806.5 338.6L837.4 373.5M792.8 341.7L775.3 400.3M810.6 323.2L899.4 293.3M914.7 288.5L954.3 277.2M781.3 293.4L757.8 306.9M749.8 314.1L727.5 345.9M719.0 351.8L687.8 360.0M722.5 355.6L712.2 384.4M761.3 357.9L744.4 365.4M686.3 365.7L706.5 385.7M752.8 339.9L741.1 361.9M731.2 372.3L675.3 405.6M663.0 412.2L637.4 424.6M625.5 429.9L589.4 445.1M578.0 446.2L546.5 439.7M579.6 451.6L555.1 475.6M535.7 439.7L506.7 445.6M502.6 452.0L509.8 481.2M546.6 480.0L515.9 485.2M715.9 389.7L747.8 390.1M803.3 386.9L808.1 390.6M807.0 393.6L758.8 390.5M778.9 412.4L796.8 428.0M775.1 414.8L778.3 427.0M771.2 414.7L760.9 451.6M781.0 439.7L786.0 470.5M800.0 440.0L789.2 470.8M763.3 461.9L806.8 511.1M790.4 482.4L807.7 510.5M811.2 521.6L813.5 559.7M814.1 570.7L815.6 600.4M828.7 309.6L832.6 348.1M860.6 336.7L904.1 331.3M859.3 341.1L878.5 356.2M905.9 334.6L886.5 355.6M879.3 363.8L864.1 382.3M836.7 357.8L857.1 382.3M852.8 405.0L878.0 419.0M844.1 408.5L833.0 445.0M850.6 407.4L875.0 442.1M880.5 445.1L915.1 446.5M876.0 448.4L869.6 469.9M887.4 424.7L916.1 443.4M919.8 452.6L911.8 487.4M873.1 477.3L905.5 490.7M798.1 389.8L801.7 425.4M808.4 319.0L823.7 307.4M833.5 303.2L899.1 292.0M844.1 380.8L879.0 417.7M855.2 387.3L817.9 393.1M800.8 341.8L829.6 444.9M767.1 272.5L755.0 304.5M757.5 393.8L796.8 428.0M806.6 268.7L797.3 313.1" stroke="#5c5c5c" stroke-width="0.9" fill="none"/>
<path d="M768.9 748.8L723.4 732.7M800.1 762.2L849.8 787.3M694.3 719.6L659.0 700.1M700.6 713.3L684.2 683.1M697.3 738.9L674.2 763.3M653.4 685.8L667.9 642.4M640.3 696.7L594.4 702.9M672.0 627.0L680.4 586.2M672.3 668.7L637.5 639.4M625.9 628.4L597.7 599.2M583.2 699.5L544.0 664.5M582.9 707.8L550.6 733.1M658.5 780.1L632.6 808.5M622.7 819.7L598.1 849.0M862.0 780.4L865.6 738.6M871.0 785.4L909.3 756.5M873.5 792.2L916.2 789.7M871.5 799.6L899.5 817.5M853.0 802.5L825.7 835.3M862.5 805.3L870.4 868.6M867.7 723.8L876.6 681.9M925.3 739.1L948.7 701.8M958.8 685.7L977.8 654.9M986.9 639.4L1005.5 606.4M1011.4 590.7L1019.5 549.5M929.0 790.8L969.2 800.2M909.3 829.2L922.0 860.0M917.8 864.2L879.8 847.9M809.4 841.5L771.4 835.9M829.3 843.4L867.3 845.0M756.6 842.3L737.8 869.2M741.1 875.3L777.5 873.7M786.2 865.4L789.7 823.7M769.8 892.7L740.4 878.9M783.0 902.8L800.7 923.9M803.2 922.5L788.2 880.9M875.8 884.3L897.8 920.3M869.3 885.2L859.1 926.6M899.8 935.8L889.7 969.9M861.9 941.8L882.4 971.1M848.5 934.0L813.9 930.7M813.1 850.9L782.7 889.6" stroke="#505050" stroke-width="1.15" fill="none"/>
<path d="M496.4 108.0L500.7 109.2L498.6 111.9ZM470.4 154.4L470.5 149.9L473.7 151.3ZM492.5 110.0L494.4 114.1L491.0 114.3ZM508.0 145.6L510.5 141.8L512.5 144.6ZM473.2 157.6L476.7 154.7L477.7 158.0ZM508.5 150.4L513.0 150.5L511.7 153.6ZM530.5 137.5L534.1 140.3L531.2 142.0ZM551.0 162.6L551.3 158.0L554.4 159.5ZM553.7 165.5L557.1 162.5L558.3 165.6ZM572.2 124.9L573.9 129.1L570.5 129.1ZM591.0 154.9L590.4 159.4L587.4 157.7ZM502.0 182.7L506.3 181.2L506.1 184.6ZM547.6 172.9L548.5 177.3L545.2 176.7ZM545.7 206.6L548.1 202.7L550.1 205.5ZM480.7 215.0L484.7 213.0L485.0 216.4ZM478.2 210.9L479.0 206.4L481.9 208.3ZM469.0 164.0L471.2 167.9L467.8 168.3ZM544.5 214.9L548.4 217.1L545.7 219.2ZM578.1 190.9L582.4 192.3L580.2 194.9ZM581.6 253.7L585.1 250.8L586.1 254.0ZM638.0 240.3L642.5 240.9L640.8 243.8ZM715.8 285.0L720.3 285.5L718.7 288.5ZM552.9 170.9L557.3 172.1L555.2 174.8ZM767.2 215.1L771.6 213.8L771.2 217.2ZM794.3 193.2L798.5 194.8L796.1 197.3ZM855.4 201.2L852.7 204.8L850.9 201.9ZM849.2 181.6L848.3 186.0L845.5 184.2ZM825.8 179.3L827.3 183.6L823.9 183.4ZM893.1 250.5L888.6 250.4L889.9 247.3ZM819.3 233.8L819.6 238.3L816.4 237.2ZM821.8 234.6L822.1 239.2L818.8 238.1ZM773.7 266.5L777.3 263.7L778.2 267.0ZM809.1 269.2L809.9 273.7L806.6 273.0ZM826.3 298.9L823.4 295.4L826.6 294.4ZM727.4 198.9L731.9 199.2L730.4 202.3ZM771.4 168.3L771.8 172.8L768.6 171.8ZM728.1 194.5L732.1 192.2L732.5 195.6ZM686.6 152.9L690.5 155.1L687.9 157.2ZM788.8 137.0L790.3 141.3L786.9 141.1ZM818.9 138.6L818.0 143.1L815.2 141.2ZM783.5 160.5L787.9 159.4L787.4 162.7ZM795.7 134.3L799.8 136.2L797.4 138.5ZM783.5 142.7L788.0 143.2L786.4 146.2ZM870.1 158.0L868.2 162.1L865.8 159.6ZM827.9 138.2L831.9 140.3L829.3 142.5ZM887.2 168.1L885.8 172.4L883.2 170.2ZM894.3 102.1L894.6 106.7L891.4 105.6ZM960.8 189.3L957.3 192.2L956.3 188.9ZM916.8 224.4L912.3 224.0L913.9 220.9ZM891.6 169.7L893.2 173.9L889.8 173.9ZM893.6 220.9L896.3 224.5L893.0 225.4ZM918.8 232.7L917.7 237.1L914.9 235.1ZM962.2 191.8L960.2 195.8L957.9 193.3ZM985.1 125.9L981.8 129.0L980.5 125.8ZM1024.4 108.4L1021.3 111.6L1019.9 108.6ZM943.7 134.5L941.5 130.5L944.9 130.2ZM937.9 144.1L934.6 147.3L933.4 144.1ZM947.5 147.8L950.9 150.8L947.8 152.3ZM932.0 95.4L927.8 97.1L927.8 93.7ZM894.0 102.0L894.2 106.6L891.0 105.4ZM890.5 99.4L888.1 103.2L886.1 100.4ZM813.8 38.5L815.4 42.8L812.0 42.6ZM813.4 87.9L815.9 91.7L812.6 92.4ZM676.1 82.2L679.3 79.0L680.7 82.1ZM765.2 69.3L761.9 72.5L760.6 69.3ZM711.3 112.6L714.9 109.9L715.8 113.2ZM767.4 72.0L766.4 76.4L763.6 74.5ZM675.2 88.1L679.5 89.6L677.2 92.1ZM731.1 86.1L729.4 90.3L727.0 88.0ZM710.9 117.1L715.4 117.2L714.1 120.3ZM739.2 134.8L741.6 138.6L738.3 139.2ZM750.9 109.5L755.0 111.5L752.4 113.7ZM747.2 111.2L749.5 115.1L746.1 115.6ZM705.1 121.3L707.2 125.3L703.8 125.6ZM746.4 151.8L742.7 154.4L741.9 151.1ZM769.3 142.3L766.3 145.7L764.8 142.6ZM700.5 120.1L699.5 124.5L696.7 122.5ZM710.6 166.6L713.6 170.0L710.4 171.2ZM711.5 72.4L715.7 74.0L713.4 76.5ZM797.1 104.8L793.6 107.6L792.6 104.4ZM834.2 110.3L829.7 111.1L830.4 107.7ZM753.2 106.0L757.7 105.6L756.7 108.8ZM689.3 148.0L693.7 146.8L693.3 150.2ZM742.6 132.8L746.9 134.2L744.7 136.8ZM773.1 118.0L774.9 122.2L771.5 122.2ZM689.3 145.7L693.1 143.2L693.7 146.6ZM808.8 87.4L808.5 91.9L805.4 90.4ZM798.5 128.9L802.9 127.8L802.4 131.1ZM823.8 139.9L826.0 143.9L822.6 144.2ZM805.0 108.7L808.1 112.1L804.9 113.3ZM796.8 184.2L800.5 181.6L801.2 185.0ZM841.5 117.5L844.2 121.1L840.9 122.0ZM879.0 137.8L878.0 142.2L875.2 140.2ZM861.3 129.4L865.2 131.9L862.4 133.8ZM881.0 138.7L881.5 143.2L878.2 142.3ZM879.2 160.8L881.8 164.5L878.4 165.2ZM867.9 154.2L864.3 157.0L863.4 153.7ZM884.9 138.7L887.7 142.3L884.4 143.2ZM714.7 162.6L719.2 162.3L718.1 165.5ZM743.8 130.4L748.3 129.8L747.5 133.1ZM782.5 133.5L784.4 129.4L786.7 131.9ZM880.4 212.4L876.5 214.7L876.0 211.3ZM752.5 170.2L755.5 166.8L757.0 169.8ZM758.0 155.3L762.1 157.2L759.6 159.5ZM748.4 179.5L751.1 183.1L747.9 184.0ZM876.7 129.0L872.1 128.8L873.6 125.7ZM805.2 97.5L805.2 93.0L808.3 94.3ZM787.1 295.7L789.9 299.2L786.7 300.2ZM758.1 311.7L762.6 311.7L761.3 314.9ZM763.0 332.7L766.9 330.4L767.4 333.8ZM770.4 351.9L772.3 347.8L774.6 350.3ZM743.8 364.3L746.3 360.5L748.2 363.3ZM797.2 374.8L795.5 370.6L798.9 370.6ZM848.7 336.4L844.3 337.4L844.8 334.0ZM842.1 395.1L838.4 392.5L841.2 390.6ZM837.4 373.5L833.3 371.4L835.9 369.2ZM775.3 400.3L774.9 395.8L778.2 396.8ZM899.4 293.3L896.0 296.2L894.9 293.0ZM954.3 277.2L950.7 280.0L949.8 276.7ZM757.8 306.9L760.6 303.3L762.3 306.2ZM727.5 345.9L728.5 341.5L731.3 343.4ZM687.8 360.0L691.4 357.3L692.3 360.6ZM712.2 384.4L712.0 379.9L715.2 381.0ZM744.4 365.4L747.6 362.2L749.0 365.3ZM706.5 385.7L702.3 384.0L704.7 381.6ZM741.1 361.9L741.6 357.4L744.6 359.0ZM675.3 405.6L678.1 402.0L679.8 404.9ZM637.4 424.6L640.4 421.2L641.9 424.3ZM589.4 445.1L592.6 441.9L594.0 445.0ZM546.5 439.7L550.9 438.9L550.3 442.2ZM555.1 475.6L556.9 471.5L559.3 473.9ZM506.7 445.6L510.5 443.1L511.1 446.4ZM509.8 481.2L507.1 477.6L510.5 476.8ZM515.9 485.2L519.8 482.9L520.4 486.2ZM747.8 390.1L743.6 391.8L743.6 388.4ZM808.1 390.6L803.8 389.4L805.8 386.7ZM758.8 390.5L763.1 389.1L762.9 392.5ZM796.8 428.0L792.5 426.5L794.8 424.0ZM778.3 427.0L775.6 423.4L778.9 422.5ZM760.9 451.6L760.4 447.1L763.7 448.0ZM786.0 470.5L783.6 466.6L787.0 466.1ZM789.2 470.8L789.0 466.2L792.2 467.4ZM806.8 511.1L802.8 509.1L805.3 506.8ZM807.7 510.5L804.0 507.8L806.9 506.0ZM813.5 559.7L811.5 555.6L814.9 555.4ZM815.6 600.4L813.7 596.3L817.1 596.1ZM832.6 348.1L830.5 344.1L833.9 343.8ZM904.1 331.3L900.2 333.5L899.8 330.1ZM878.5 356.2L874.1 354.9L876.2 352.3ZM886.5 355.6L888.1 351.3L890.6 353.6ZM864.1 382.3L865.5 377.9L868.1 380.1ZM857.1 382.3L853.1 380.1L855.7 378.0ZM878.0 419.0L873.5 418.5L875.2 415.5ZM833.0 445.0L832.6 440.4L835.8 441.4ZM875.0 442.1L871.2 439.7L874.0 437.7ZM915.1 446.5L910.8 448.0L911.0 444.6ZM869.6 469.9L869.1 465.4L872.4 466.4ZM916.1 443.4L911.6 442.5L913.5 439.7ZM911.8 487.4L911.1 483.0L914.4 483.7ZM905.5 490.7L901.0 490.7L902.3 487.5ZM801.7 425.4L799.6 421.4L803.0 421.1ZM823.7 307.4L821.4 311.3L819.3 308.6ZM899.1 292.0L895.3 294.4L894.7 291.1ZM879.0 417.7L874.9 415.8L877.4 413.5ZM817.9 393.1L821.8 390.7L822.3 394.1ZM829.6 444.9L826.8 441.3L830.1 440.4ZM755.0 304.5L754.9 299.9L758.0 301.1ZM796.8 428.0L792.5 426.5L794.8 423.9ZM797.3 313.1L796.5 308.6L799.8 309.3ZM723.4 732.7L727.9 732.5L726.8 735.7ZM849.8 787.3L845.3 786.9L846.9 783.9ZM659.0 700.1L663.5 700.7L661.8 703.6ZM684.2 683.1L687.7 686.0L684.7 687.6ZM674.2 763.3L675.9 759.0L678.3 761.4ZM667.9 642.4L668.1 646.9L664.9 645.8ZM594.4 702.9L598.4 700.7L598.8 704.0ZM680.4 586.2L681.2 590.6L677.9 589.9ZM637.5 639.4L641.8 640.8L639.6 643.4ZM597.7 599.2L601.8 601.0L599.4 603.4ZM544.0 664.5L548.2 666.0L546.0 668.6ZM550.6 733.1L552.9 729.2L555.0 731.8ZM632.6 808.5L634.1 804.2L636.7 806.5ZM598.1 849.0L599.5 844.6L602.1 846.8ZM865.6 738.6L866.9 742.9L863.5 742.6ZM909.3 756.5L907.0 760.4L904.9 757.7ZM916.2 789.7L912.1 791.6L911.9 788.2ZM899.5 817.5L895.0 816.7L896.8 813.8ZM825.7 835.3L827.1 831.0L829.7 833.2ZM870.4 868.6L868.2 864.6L871.5 864.2ZM876.6 681.9L877.4 686.3L874.0 685.6ZM948.7 701.8L947.9 706.3L945.1 704.5ZM977.8 654.9L977.0 659.3L974.1 657.5ZM1005.5 606.4L1004.9 610.9L1002.0 609.2ZM1019.5 549.5L1020.4 553.9L1017.0 553.3ZM969.2 800.2L964.7 800.9L965.5 797.6ZM922.0 860.0L918.9 856.8L922.0 855.5ZM879.8 847.9L884.3 848.0L883.0 851.1ZM771.4 835.9L775.8 834.8L775.3 838.2ZM867.3 845.0L863.0 846.5L863.2 843.2ZM737.8 869.2L738.8 864.8L741.6 866.7ZM777.5 873.7L773.4 875.6L773.2 872.2ZM789.7 823.7L791.0 828.0L787.6 827.7ZM740.4 878.9L744.9 879.1L743.4 882.2ZM800.7 923.9L796.7 921.8L799.3 919.6ZM788.2 880.9L791.2 884.3L788.0 885.5ZM897.8 920.3L894.1 917.6L897.0 915.9ZM859.1 926.6L858.4 922.1L861.7 922.9ZM889.7 969.9L889.3 965.4L892.5 966.4ZM882.4 971.1L878.6 968.7L881.4 966.7ZM813.9 930.7L818.2 929.4L817.9 932.8ZM782.7 889.6L784.0 885.3L786.7 887.4Z" fill="#444"/>
<circle cx="492.2" cy="104.7" r="5.3" fill="#ffffff" stroke="#9a9a92" stroke-width="0.8"/>
<circle cx="572.1" cy="119.4" r="5.5" fill="#bdf1b0" stroke="#9a9a92" stroke-width="0.8"/>
<circle cx="527.4" cy="132.4" r="6.0" fill="#bdf1b0" stroke="#9a9a92" stroke-width="0.8"/>
<circle cx="503.9" cy="148.4" r="5.0" fill="#ffffff" stroke="#9a9a92" stroke-width="0.8"/>
<circle cx="468.4" cy="159.0" r="5.0" fill="#f9dfbb" stroke="#9a9a92" stroke-width="0.8"/>
<circle cx="593.4" cy="150.5" r="5.0" fill="#ffffff" stroke="#9a9a92" stroke-width="0.8"/>
<circle cx="548.6" cy="167.5" r="5.5" fill="#ffffff" stroke="#9a9a92" stroke-width="0.8"/>
<circle cx="496.5" cy="182.4" r="5.5" fill="#ffffff" stroke="#9a9a92" stroke-width="0.8"/>
<circle cx="573.1" cy="186.7" r="6.5" fill="#9aee8a" stroke="#7a9a72" stroke-width="0.8"/>
<circle cx="540.8" cy="210.1" r="6.0" fill="#c2f2b5" stroke="#9a9a92" stroke-width="0.8"/>
<circle cx="475.2" cy="215.5" r="5.5" fill="#ffffff" stroke="#9a9a92" stroke-width="0.8"/>
<circle cx="707.4" cy="68.7" r="5.5" fill="#f9dfbb" stroke="#9a9a92" stroke-width="0.8"/>
<circle cx="671.1" cy="84.4" r="5.5" fill="#f9dfbb" stroke="#9a9a92" stroke-width="0.8"/>
<circle cx="770.7" cy="67.0" r="6.0" fill="#f6cc8e" stroke="#9a9a92" stroke-width="0.8"/>
<circle cx="735.2" cy="81.7" r="6.0" fill="#f6cc8e" stroke="#9a9a92" stroke-width="0.8"/>
<circle cx="746.0" cy="103.8" r="7.5" fill="#eeab52" stroke="#9a9a92" stroke-width="0.8"/>
<circle cx="704.5" cy="114.3" r="7.0" fill="#eeab52" stroke="#9a9a92" stroke-width="0.8"/>
<circle cx="773.0" cy="112.0" r="6.0" fill="#f2fbee" stroke="#9a9a92" stroke-width="0.8"/>
<circle cx="738.0" cy="128.9" r="6.0" fill="#ffffff" stroke="#9a9a92" stroke-width="0.8"/>
<circle cx="776.5" cy="138.8" r="8.0" fill="#fcefde" stroke="#9a9a92" stroke-width="0.8"/>
<circle cx="681.9" cy="147.0" r="7.5" fill="#4ae832" stroke="#7a9a72" stroke-width="0.8"/>
<circle cx="753.2" cy="150.2" r="7.0" fill="#fcefde" stroke="#9a9a92" stroke-width="0.8"/>
<circle cx="708.5" cy="160.5" r="6.5" fill="#fcefde" stroke="#9a9a92" stroke-width="0.8"/>
<circle cx="746.7" cy="173.2" r="6.5" fill="#d6f6cf" stroke="#9a9a92" stroke-width="0.8"/>
<circle cx="787.0" cy="186.3" r="10.0" fill="#76e865" stroke="#7a9a72" stroke-width="0.8"/>
<circle cx="720.7" cy="195.5" r="7.5" fill="#4ae832" stroke="#7a9a72" stroke-width="0.8"/>
<circle cx="774.1" cy="159.2" r="9.5" fill="#4ae832" stroke="#7a9a72" stroke-width="0.8"/>
<circle cx="814.1" cy="33.0" r="5.5" fill="#fcefde" stroke="#9a9a92" stroke-width="0.8"/>
<circle cx="811.9" cy="81.1" r="7.0" fill="#4ae832" stroke="#7a9a72" stroke-width="0.8"/>
<circle cx="896.6" cy="95.0" r="7.5" fill="#76e865" stroke="#7a9a72" stroke-width="0.8"/>
<circle cx="939.5" cy="95.5" r="7.5" fill="#76e865" stroke="#7a9a72" stroke-width="0.8"/>
<circle cx="802.9" cy="103.1" r="6.0" fill="#f2fbee" stroke="#9a9a92" stroke-width="0.8"/>
<circle cx="840.0" cy="111.7" r="6.0" fill="#d6f6cf" stroke="#9a9a92" stroke-width="0.8"/>
<circle cx="789.1" cy="127.5" r="9.5" fill="#4ae832" stroke="#7a9a72" stroke-width="0.8"/>
<circle cx="857.0" cy="123.3" r="7.5" fill="#4ae832" stroke="#7a9a72" stroke-width="0.8"/>
<circle cx="823.1" cy="132.4" r="7.5" fill="#4ae832" stroke="#7a9a72" stroke-width="0.8"/>
<circle cx="883.0" cy="132.0" r="7.0" fill="#4ae832" stroke="#7a9a72" stroke-width="0.8"/>
<circle cx="877.0" cy="151.5" r="9.5" fill="#9aee8a" stroke="#7a9a72" stroke-width="0.8"/>
<circle cx="826.5" cy="166.3" r="13.0" fill="#9aee8a" stroke="#7a9a72" stroke-width="0.8"/>
<circle cx="891.7" cy="162.7" r="7.0" fill="#4ae832" stroke="#7a9a72" stroke-width="0.8"/>
<circle cx="855.7" cy="171.5" r="12.0" fill="#76e865" stroke="#7a9a72" stroke-width="0.8"/>
<circle cx="1029.0" cy="106.3" r="5.0" fill="#ffffff" stroke="#9a9a92" stroke-width="0.8"/>
<circle cx="990.2" cy="123.9" r="5.5" fill="#ffffff" stroke="#9a9a92" stroke-width="0.8"/>
<circle cx="944.4" cy="141.5" r="7.0" fill="#76e865" stroke="#7a9a72" stroke-width="0.8"/>
<circle cx="967.0" cy="187.4" r="6.5" fill="#4ae832" stroke="#7a9a72" stroke-width="0.8"/>
<circle cx="890.8" cy="210.8" r="10.5" fill="#9aee8a" stroke="#7a9a72" stroke-width="0.8"/>
<circle cx="757.8" cy="214.1" r="9.5" fill="#4ae832" stroke="#7a9a72" stroke-width="0.8"/>
<circle cx="823.6" cy="221.0" r="13.5" fill="#9aee8a" stroke="#7a9a72" stroke-width="0.8"/>
<circle cx="811.9" cy="256.0" r="13.5" fill="#9aee8a" stroke="#7a9a72" stroke-width="0.8"/>
<circle cx="768.9" cy="267.8" r="5.0" fill="#f9dfbb" stroke="#9a9a92" stroke-width="0.8"/>
<circle cx="710.5" cy="282.2" r="6.0" fill="#76e865" stroke="#7a9a72" stroke-width="0.8"/>
<circle cx="785.6" cy="290.9" r="5.0" fill="#ffffff" stroke="#9a9a92" stroke-width="0.8"/>
<circle cx="864.3" cy="195.6" r="10.5" fill="#9aee8a" stroke="#7a9a72" stroke-width="0.8"/>
<circle cx="632.4" cy="237.0" r="6.5" fill="#76e865" stroke="#7a9a72" stroke-width="0.8"/>
<circle cx="575.9" cy="255.6" r="6.0" fill="#76e865" stroke="#7a9a72" stroke-width="0.8"/>
<circle cx="753.0" cy="309.6" r="5.5" fill="#f9dfbb" stroke="#9a9a92" stroke-width="0.8"/>
<circle cx="796.9" cy="327.8" r="14.5" fill="#4ae832" stroke="#7a9a72" stroke-width="0.8"/>
<circle cx="756.1" cy="333.7" r="7.0" fill="#76e865" stroke="#7a9a72" stroke-width="0.8"/>
<circle cx="724.3" cy="350.4" r="5.5" fill="#f9dfbb" stroke="#9a9a92" stroke-width="0.8"/>
<circle cx="766.3" cy="355.6" r="5.5" fill="#f6cc8e" stroke="#9a9a92" stroke-width="0.8"/>
<circle cx="682.0" cy="361.5" r="6.0" fill="#f6cc8e" stroke="#9a9a92" stroke-width="0.8"/>
<circle cx="737.6" cy="368.5" r="7.5" fill="#9aee8a" stroke="#7a9a72" stroke-width="0.8"/>
<circle cx="797.3" cy="382.3" r="7.5" fill="#ffffff" stroke="#9a9a92" stroke-width="0.8"/>
<circle cx="710.4" cy="389.6" r="5.5" fill="#f6cc8e" stroke="#9a9a92" stroke-width="0.8"/>
<circle cx="753.3" cy="390.2" r="5.5" fill="#f6cc8e" stroke="#9a9a92" stroke-width="0.8"/>
<circle cx="812.5" cy="393.9" r="5.5" fill="#f6cc8e" stroke="#9a9a92" stroke-width="0.8"/>
<circle cx="773.2" cy="407.5" r="7.5" fill="#76e865" stroke="#7a9a72" stroke-width="0.8"/>
<circle cx="669.3" cy="409.2" r="7.0" fill="#9aee8a" stroke="#7a9a72" stroke-width="0.8"/>
<circle cx="631.5" cy="427.4" r="6.5" fill="#76e865" stroke="#7a9a72" stroke-width="0.8"/>
<circle cx="780.0" cy="433.3" r="6.5" fill="#d6f6cf" stroke="#9a9a92" stroke-width="0.8"/>
<circle cx="802.5" cy="432.9" r="7.5" fill="#d6f6cf" stroke="#9a9a92" stroke-width="0.8"/>
<circle cx="922.6" cy="227.4" r="6.5" fill="#4ae832" stroke="#7a9a72" stroke-width="0.8"/>
<circle cx="902.8" cy="254.6" r="10.5" fill="#9aee8a" stroke="#7a9a72" stroke-width="0.8"/>
<circle cx="962.0" cy="275.0" r="8.0" fill="#f9dfbb" stroke="#9a9a92" stroke-width="0.8"/>
<circle cx="907.0" cy="290.7" r="8.0" fill="#ffffff" stroke="#9a9a92" stroke-width="0.8"/>
<circle cx="828.1" cy="304.1" r="5.5" fill="#f9dfbb" stroke="#9a9a92" stroke-width="0.8"/>
<circle cx="909.6" cy="330.6" r="5.5" fill="#fcefde" stroke="#9a9a92" stroke-width="0.8"/>
<circle cx="854.6" cy="337.4" r="6.0" fill="#fcefde" stroke="#9a9a92" stroke-width="0.8"/>
<circle cx="833.2" cy="353.6" r="5.5" fill="#f9dfbb" stroke="#9a9a92" stroke-width="0.8"/>
<circle cx="882.8" cy="359.6" r="5.5" fill="#f9dfbb" stroke="#9a9a92" stroke-width="0.8"/>
<circle cx="840.7" cy="377.2" r="5.0" fill="#fcefde" stroke="#9a9a92" stroke-width="0.8"/>
<circle cx="860.6" cy="386.5" r="5.5" fill="#f9dfbb" stroke="#9a9a92" stroke-width="0.8"/>
<circle cx="846.3" cy="401.3" r="7.5" fill="#f6cc8e" stroke="#9a9a92" stroke-width="0.8"/>
<circle cx="882.8" cy="421.7" r="5.5" fill="#fcefde" stroke="#9a9a92" stroke-width="0.8"/>
<circle cx="831.2" cy="450.7" r="6.0" fill="#f9dfbb" stroke="#9a9a92" stroke-width="0.8"/>
<circle cx="877.0" cy="445.0" r="3.5" fill="#ffffff" stroke="#9a9a92" stroke-width="0.8"/>
<circle cx="921.1" cy="446.7" r="6.0" fill="#ffffff" stroke="#9a9a92" stroke-width="0.8"/>
<circle cx="868.0" cy="475.2" r="5.5" fill="#fcefde" stroke="#9a9a92" stroke-width="0.8"/>
<circle cx="910.6" cy="492.8" r="5.5" fill="#ffffff" stroke="#9a9a92" stroke-width="0.8"/>
<circle cx="759.3" cy="457.4" r="6.0" fill="#ffffff" stroke="#9a9a92" stroke-width="0.8"/>
<circle cx="787.0" cy="476.9" r="6.5" fill="#d6f6cf" stroke="#9a9a92" stroke-width="0.8"/>
<circle cx="810.8" cy="515.6" r="6.0" fill="#ffffff" stroke="#9a9a92" stroke-width="0.8"/>
<circle cx="583.9" cy="447.4" r="6.0" fill="#b5f0a8" stroke="#9a9a92" stroke-width="0.8"/>
<circle cx="541.1" cy="438.6" r="5.5" fill="#d6f6cf" stroke="#9a9a92" stroke-width="0.8"/>
<circle cx="501.3" cy="446.7" r="5.5" fill="#f2fbee" stroke="#9a9a92" stroke-width="0.8"/>
<circle cx="551.5" cy="479.1" r="5.0" fill="#fcefde" stroke="#9a9a92" stroke-width="0.8"/>
<circle cx="511.0" cy="486.1" r="5.0" fill="#fcefde" stroke="#9a9a92" stroke-width="0.8"/>
<circle cx="813.8" cy="565.2" r="5.5" fill="#ffffff" stroke="#9a9a92" stroke-width="0.8"/>
<circle cx="815.9" cy="606.4" r="6.0" fill="#fcefde" stroke="#9a9a92" stroke-width="0.8"/>
<circle cx="593.9" cy="595.2" r="5.5" fill="#ffffff" stroke="#9a9a92" stroke-width="1.0"/>
<circle cx="631.4" cy="634.2" r="8.0" fill="#f6cc8e" stroke="#9a9a92" stroke-width="1.0"/>
<circle cx="539.5" cy="660.5" r="6.0" fill="#f9dfbb" stroke="#9a9a92" stroke-width="1.0"/>
<circle cx="681.7" cy="579.8" r="6.5" fill="#fcefde" stroke="#9a9a92" stroke-width="1.0"/>
<circle cx="670.4" cy="634.8" r="8.0" fill="#f6cc8e" stroke="#9a9a92" stroke-width="1.0"/>
<circle cx="679.6" cy="674.8" r="9.5" fill="#f6cc8e" stroke="#9a9a92" stroke-width="1.0"/>
<circle cx="650.2" cy="695.3" r="10.0" fill="#faf7ee" stroke="#9a9a92" stroke-width="1.0"/>
<circle cx="708.3" cy="727.3" r="16.0" fill="#eef8e8" stroke="#9a9a92" stroke-width="1.0"/>
<circle cx="784.9" cy="754.5" r="17.0" fill="#4ae832" stroke="#7a9a72" stroke-width="1.0"/>
<circle cx="666.3" cy="771.6" r="11.5" fill="#ffffff" stroke="#9a9a92" stroke-width="1.0"/>
<circle cx="861.0" cy="792.9" r="12.5" fill="#a9f09b" stroke="#9a9a92" stroke-width="1.0"/>
<circle cx="627.5" cy="814.0" r="7.5" fill="#ffffff" stroke="#9a9a92" stroke-width="1.0"/>
<circle cx="790.3" cy="816.2" r="7.5" fill="#ffffff" stroke="#9a9a92" stroke-width="1.0"/>
<circle cx="762.0" cy="834.5" r="9.5" fill="#f9dfbb" stroke="#9a9a92" stroke-width="1.0"/>
<circle cx="819.3" cy="843.0" r="10.0" fill="#f9dfbb" stroke="#9a9a92" stroke-width="1.0"/>
<circle cx="982.5" cy="647.2" r="9.0" fill="#d6f6cf" stroke="#9a9a92" stroke-width="1.0"/>
<circle cx="877.8" cy="676.0" r="6.0" fill="#f9dfbb" stroke="#9a9a92" stroke-width="1.0"/>
<circle cx="953.8" cy="693.8" r="9.5" fill="#b2f0a3" stroke="#9a9a92" stroke-width="1.0"/>
<circle cx="866.2" cy="731.1" r="7.5" fill="#ffffff" stroke="#9a9a92" stroke-width="1.0"/>
<circle cx="918.9" cy="749.3" r="12.0" fill="#ffffff" stroke="#9a9a92" stroke-width="1.0"/>
<circle cx="922.7" cy="789.3" r="6.5" fill="#ffffff" stroke="#9a9a92" stroke-width="1.0"/>
<circle cx="976.0" cy="801.8" r="7.0" fill="#ffffff" stroke="#9a9a92" stroke-width="1.0"/>
<circle cx="906.2" cy="821.8" r="8.0" fill="#b2f0a3" stroke="#9a9a92" stroke-width="1.0"/>
<circle cx="1020.8" cy="543.1" r="6.5" fill="#f9dfbb" stroke="#9a9a92" stroke-width="1.0"/>
<circle cx="1009.7" cy="599.0" r="8.5" fill="#fcefde" stroke="#9a9a92" stroke-width="1.0"/>
<circle cx="873.8" cy="845.3" r="6.5" fill="#ffffff" stroke="#9a9a92" stroke-width="1.0"/>
<circle cx="925.1" cy="867.4" r="8.0" fill="#ffffff" stroke="#9a9a92" stroke-width="1.0"/>
<circle cx="733.3" cy="875.6" r="7.8" fill="#faf7ee" stroke="#9a9a92" stroke-width="1.0"/>
<circle cx="785.5" cy="873.4" r="8.0" fill="#faf7ee" stroke="#9a9a92" stroke-width="1.0"/>
<circle cx="871.4" cy="877.0" r="8.5" fill="#faf7ee" stroke="#9a9a92" stroke-width="1.0"/>
<circle cx="777.5" cy="896.3" r="8.5" fill="#eef8e8" stroke="#9a9a92" stroke-width="1.0"/>
<circle cx="805.9" cy="930.0" r="8.0" fill="#bff2b2" stroke="#9a9a92" stroke-width="1.0"/>
<circle cx="902.2" cy="927.6" r="8.5" fill="#faf7ee" stroke="#9a9a92" stroke-width="1.0"/>
<circle cx="857.0" cy="934.8" r="8.5" fill="#faf7ee" stroke="#9a9a92" stroke-width="1.0"/>
<circle cx="887.3" cy="978.1" r="8.5" fill="#faf7ee" stroke="#9a9a92" stroke-width="1.0"/>
<circle cx="588.0" cy="703.8" r="6.5" fill="#f6cc8e" stroke="#9a9a92" stroke-width="1.0"/>
<circle cx="545.9" cy="736.8" r="6.0" fill="#f8d8a8" stroke="#9a9a92" stroke-width="1.0"/>
<circle cx="593.3" cy="854.7" r="7.5" fill="#fcefde" stroke="#9a9a92" stroke-width="1.0"/>
<text x="448.6" y="96.5" font-family="Liberation Sans" font-size="6.99" font-weight="normal" fill="#161616" textLength="90.5" lengthAdjust="spacingAndGlyphs" stroke="#161616" stroke-width="0.35">Regulation of macromolecule</text>
<text x="462.0" y="106.3" font-family="Liberation Sans" font-size="6.98" font-weight="normal" fill="#161616" textLength="63.2" lengthAdjust="spacingAndGlyphs" stroke="#161616" stroke-width="0.35">biosynthetic process</text>
<text x="500.3" y="122.0" font-family="Liberation Sans" font-size="6.98" font-weight="normal" fill="#161616" textLength="124.6" lengthAdjust="spacingAndGlyphs" stroke="#161616" stroke-width="0.35">Regulation of primary metabolic process</text>
<text x="406.0" y="134.1" font-family="Liberation Sans" font-size="7.33" font-weight="normal" fill="#161616" textLength="156.0" lengthAdjust="spacingAndGlyphs" stroke="#161616" stroke-width="0.37">Regulation of macromolecule metabolic process</text>
<text x="426.6" y="151.0" font-family="Liberation Sans" font-size="7.05" font-weight="normal" fill="#161616" textLength="116.7" lengthAdjust="spacingAndGlyphs" stroke="#161616" stroke-width="0.35">Regulation of DNA metabolic process</text>
<text x="392.6" y="162.9" font-family="Liberation Sans" font-size="6.94" font-weight="normal" fill="#161616" textLength="90.7" lengthAdjust="spacingAndGlyphs" stroke="#161616" stroke-width="0.35">Regulation of DNA replication</text>
<text x="550.8" y="144.5" font-family="Liberation Sans" font-size="5.21" font-weight="normal" fill="#161616" textLength="76.7" lengthAdjust="spacingAndGlyphs" stroke="#161616" stroke-width="0.26">Regulation of nitrogen compound</text>
<text x="567.2" y="152.0" font-family="Liberation Sans" font-size="5.22" font-weight="normal" fill="#161616" textLength="42.1" lengthAdjust="spacingAndGlyphs" stroke="#161616" stroke-width="0.26">metabolic process</text>
<text x="476.9" y="172.3" font-family="Liberation Sans" font-size="7.29" font-weight="normal" fill="#161616" textLength="143.8" lengthAdjust="spacingAndGlyphs" stroke="#161616" stroke-width="0.36">Regulation of nucleic acid metabolic process</text>
<text x="422.4" y="183.8" font-family="Liberation Sans" font-size="7.21" font-weight="normal" fill="#161616" textLength="109.8" lengthAdjust="spacingAndGlyphs" stroke="#161616" stroke-width="0.36">Regulation of biosynthetic process</text>
<text x="548.0" y="187.7" font-family="Liberation Sans" font-size="7.52" font-weight="normal" fill="#161616" textLength="107.0" lengthAdjust="spacingAndGlyphs" stroke="#161616" stroke-width="0.38">Regulation of metabolic process</text>
<text x="502.9" y="211.0" font-family="Liberation Sans" font-size="7.21" font-weight="normal" fill="#161616" textLength="127.5" lengthAdjust="spacingAndGlyphs" stroke="#161616" stroke-width="0.36">Regulation of cellular metabolic process</text>
<text x="399.6" y="223.0" font-family="Liberation Sans" font-size="6.33" font-weight="normal" fill="#161616" textLength="118.2" lengthAdjust="spacingAndGlyphs" stroke="#161616" stroke-width="0.32">Regulation of cellular biosynthetic process</text>
<text x="590.2" y="69.5" font-family="Liberation Sans" font-size="7.57" font-weight="normal" fill="#161616" textLength="157.4" lengthAdjust="spacingAndGlyphs" stroke="#161616" stroke-width="0.38">Extracellular polysaccharide metabolic process</text>
<text x="544.9" y="87.8" font-family="Liberation Sans" font-size="6.78" font-weight="normal" fill="#161616" textLength="147.7" lengthAdjust="spacingAndGlyphs" stroke="#161616" stroke-width="0.34">Extracellular polysaccharide biosynthetic process</text>
<text x="752.2" y="68.0" font-family="Liberation Sans" font-size="7.56" font-weight="normal" fill="#161616" textLength="127.8" lengthAdjust="spacingAndGlyphs" stroke="#161616" stroke-width="0.38">Lipopolysaccharide metabolic process</text>
<text x="696.3" y="83.8" font-family="Liberation Sans" font-size="5.67" font-weight="normal" fill="#161616" textLength="101.5" lengthAdjust="spacingAndGlyphs" stroke="#161616" stroke-width="0.28">Lipopolysaccharide biosynthetic process</text>
<text x="642.0" y="104.7" font-family="Liberation Sans" font-size="7.36" font-weight="normal" fill="#161616" textLength="137.4" lengthAdjust="spacingAndGlyphs" stroke="#161616" stroke-width="0.37">Cellular polysaccharide metabolic process</text>
<text x="625.4" y="116.5" font-family="Liberation Sans" font-size="5.36" font-weight="normal" fill="#161616" textLength="105.5" lengthAdjust="spacingAndGlyphs" stroke="#161616" stroke-width="0.27">Cellular polysaccharide biosynthetic process</text>
<text x="737.0" y="116.5" font-family="Liberation Sans" font-size="6.72" font-weight="normal" fill="#161616" textLength="77.0" lengthAdjust="spacingAndGlyphs" stroke="#161616" stroke-width="0.34">Lipid biosynthetic process</text>
<text x="655.9" y="130.1" font-family="Liberation Sans" font-size="5.65" font-weight="normal" fill="#161616" textLength="106.5" lengthAdjust="spacingAndGlyphs" stroke="#161616" stroke-width="0.28">Cellular carbohydrate biosynthetic process</text>
<text x="691.3" y="140.3" font-family="Liberation Sans" font-size="6.90" font-weight="normal" fill="#161616" textLength="123.1" lengthAdjust="spacingAndGlyphs" stroke="#161616" stroke-width="0.34">Cellular carbohydrate metabolic process</text>
<text x="635.9" y="143.7" font-family="Liberation Sans" font-size="5.47" font-weight="normal" fill="#161616" textLength="57.1" lengthAdjust="spacingAndGlyphs" stroke="#161616" stroke-width="0.27">Cellular macromolecule</text>
<text x="638.9" y="151.2" font-family="Liberation Sans" font-size="5.56" font-weight="normal" fill="#161616" textLength="50.4" lengthAdjust="spacingAndGlyphs" stroke="#161616" stroke-width="0.28">biosynthetic process</text>
<text x="697.6" y="151.0" font-family="Liberation Sans" font-size="4.96" font-weight="normal" fill="#161616" textLength="75.0" lengthAdjust="spacingAndGlyphs" stroke="#161616" stroke-width="0.25">Polysaccharide metabolic process</text>
<text x="653.7" y="164.1" font-family="Liberation Sans" font-size="5.45" font-weight="normal" fill="#161616" textLength="87.8" lengthAdjust="spacingAndGlyphs" stroke="#161616" stroke-width="0.27">Polysaccharide biosynthetic process</text>
<text x="670.7" y="176.3" font-family="Liberation Sans" font-size="7.03" font-weight="normal" fill="#161616" textLength="108.3" lengthAdjust="spacingAndGlyphs" stroke="#161616" stroke-width="0.35">Carbohydrate biosynthetic process</text>
<text x="722.2" y="189.3" font-family="Liberation Sans" font-size="7.56" font-weight="normal" fill="#161616" textLength="114.3" lengthAdjust="spacingAndGlyphs" stroke="#161616" stroke-width="0.38">Macromolecule metabolic process</text>
<text x="640.2" y="200.3" font-family="Liberation Sans" font-size="7.24" font-weight="normal" fill="#161616" textLength="116.7" lengthAdjust="spacingAndGlyphs" stroke="#161616" stroke-width="0.36">Macromolecule biosynthetic process</text>
<text x="760.4" y="159.1" font-family="Liberation Sans" font-size="7.49" font-weight="normal" fill="#161616" textLength="95.3" lengthAdjust="spacingAndGlyphs" stroke="#161616" stroke-width="0.37">Cellular biosynthetic process</text>
<text x="802.0" y="33.6" font-family="Liberation Sans" font-size="7.54" font-weight="normal" fill="#161616" textLength="48.2" lengthAdjust="spacingAndGlyphs" stroke="#161616" stroke-width="0.38">Protein folding</text>
<text x="803.9" y="82.7" font-family="Liberation Sans" font-size="5.59" font-weight="normal" fill="#161616" textLength="84.2" lengthAdjust="spacingAndGlyphs" stroke="#161616" stroke-width="0.28">Cellular protein metabolic process</text>
<text x="835.4" y="94.1" font-family="Liberation Sans" font-size="7.48" font-weight="normal" fill="#161616" textLength="89.8" lengthAdjust="spacingAndGlyphs" stroke="#161616" stroke-width="0.37">Oxoacid metabolic process</text>
<text x="933.7" y="96.4" font-family="Liberation Sans" font-size="7.59" font-weight="normal" fill="#161616" textLength="114.8" lengthAdjust="spacingAndGlyphs" stroke="#161616" stroke-width="0.38">Carboxylic acid metabolic process</text>
<text x="785.4" y="104.9" font-family="Liberation Sans" font-size="5.64" font-weight="normal" fill="#161616" textLength="77.7" lengthAdjust="spacingAndGlyphs" stroke="#161616" stroke-width="0.28">Cellular lipid metabolic process</text>
<text x="828.0" y="115.1" font-family="Liberation Sans" font-size="5.67" font-weight="normal" fill="#161616" textLength="59.2" lengthAdjust="spacingAndGlyphs" stroke="#161616" stroke-width="0.28">Lipid metabolic process</text>
<text x="762.2" y="123.6" font-family="Liberation Sans" font-size="5.14" font-weight="normal" fill="#161616" textLength="53.7" lengthAdjust="spacingAndGlyphs" stroke="#161616" stroke-width="0.26">Cellular macromolecule</text>
<text x="767.8" y="131.0" font-family="Liberation Sans" font-size="5.16" font-weight="normal" fill="#161616" textLength="41.6" lengthAdjust="spacingAndGlyphs" stroke="#161616" stroke-width="0.26">metabolic process</text>
<text x="826.1" y="124.3" font-family="Liberation Sans" font-size="7.59" font-weight="normal" fill="#161616" textLength="113.9" lengthAdjust="spacingAndGlyphs" stroke="#161616" stroke-width="0.38">Cellular ketone metabolic process</text>
<text x="810.0" y="133.5" font-family="Liberation Sans" font-size="5.35" font-weight="normal" fill="#161616" textLength="61.5" lengthAdjust="spacingAndGlyphs" stroke="#161616" stroke-width="0.27">Protein metabolic process</text>
<text x="878.0" y="133.6" font-family="Liberation Sans" font-size="5.66" font-weight="normal" fill="#161616" textLength="78.9" lengthAdjust="spacingAndGlyphs" stroke="#161616" stroke-width="0.28">Organic acid metabolic process</text>
<text x="850.7" y="152.7" font-family="Liberation Sans" font-size="7.53" font-weight="normal" fill="#161616" textLength="103.3" lengthAdjust="spacingAndGlyphs" stroke="#161616" stroke-width="0.38">Nucleic acid metabolic process</text>
<text x="777.0" y="169.4" font-family="Liberation Sans" font-size="7.98" font-weight="normal" fill="#161616" textLength="93.6" lengthAdjust="spacingAndGlyphs" stroke="#161616" stroke-width="0.40">Cellular metabolic process</text>
<text x="885.6" y="164.1" font-family="Liberation Sans" font-size="7.57" font-weight="normal" fill="#161616" textLength="176.8" lengthAdjust="spacingAndGlyphs" stroke="#161616" stroke-width="0.38">Cellular amino acid and derivative metabolic process</text>
<text x="843.7" y="177.8" font-family="Liberation Sans" font-size="7.97" font-weight="normal" fill="#161616" textLength="93.9" lengthAdjust="spacingAndGlyphs" stroke="#161616" stroke-width="0.40">Primary metabolic process</text>
<text x="997.6" y="106.5" font-family="Liberation Sans" font-size="7.37" font-weight="normal" fill="#161616" textLength="95.4" lengthAdjust="spacingAndGlyphs" stroke="#161616" stroke-width="0.37">Glutamate metabolic process</text>
<text x="956.3" y="123.6" font-family="Liberation Sans" font-size="7.50" font-weight="normal" fill="#161616" textLength="156.7" lengthAdjust="spacingAndGlyphs" stroke="#161616" stroke-width="0.37">Glutamine family amino acid metabolic process</text>
<text x="931.9" y="142.1" font-family="Liberation Sans" font-size="7.58" font-weight="normal" fill="#161616" textLength="127.7" lengthAdjust="spacingAndGlyphs" stroke="#161616" stroke-width="0.38">Cellular amino acid metabolic process</text>
<text x="961.5" y="189.5" font-family="Liberation Sans" font-size="7.60" font-weight="normal" fill="#161616" textLength="112.0" lengthAdjust="spacingAndGlyphs" stroke="#161616" stroke-width="0.38">Cellular amine metabolic process</text>
<text x="853.7" y="213.5" font-family="Liberation Sans" font-size="7.96" font-weight="normal" fill="#161616" textLength="163.7" lengthAdjust="spacingAndGlyphs" stroke="#161616" stroke-width="0.40">Cellular nitrogen compound metabolic process</text>
<text x="829.0" y="198.6" font-family="Liberation Sans" font-size="8.00" font-weight="normal" fill="#161616" textLength="121.0" lengthAdjust="spacingAndGlyphs" stroke="#161616" stroke-width="0.40">Small molecule metabolic process</text>
<text x="705.6" y="216.5" font-family="Liberation Sans" font-size="8.42" font-weight="normal" fill="#161616" textLength="77.2" lengthAdjust="spacingAndGlyphs" stroke="#161616" stroke-width="0.42">Biosynthetic process</text>
<text x="790.2" y="223.2" font-family="Liberation Sans" font-size="9.42" font-weight="normal" fill="#161616" textLength="75.9" lengthAdjust="spacingAndGlyphs" stroke="#161616" stroke-width="0.47">Metabolic process</text>
<text x="780.0" y="256.5" font-family="Liberation Sans" font-size="9.37" font-weight="normal" fill="#161616" textLength="67.2" lengthAdjust="spacingAndGlyphs" stroke="#161616" stroke-width="0.47">Cellular process</text>
<text x="702.2" y="271.7" font-family="Liberation Sans" font-size="7.56" font-weight="normal" fill="#161616" textLength="99.1" lengthAdjust="spacingAndGlyphs" stroke="#161616" stroke-width="0.38">Reproductive cellular process</text>
<text x="673.9" y="283.9" font-family="Liberation Sans" font-size="7.53" font-weight="normal" fill="#161616" textLength="67.4" lengthAdjust="spacingAndGlyphs" stroke="#161616" stroke-width="0.38">Biological regulation</text>
<text x="759.3" y="293.0" font-family="Liberation Sans" font-size="7.36" font-weight="normal" fill="#161616" textLength="43.8" lengthAdjust="spacingAndGlyphs" stroke="#161616" stroke-width="0.37">Reproduction</text>
<text x="600.9" y="239.0" font-family="Liberation Sans" font-size="7.16" font-weight="normal" fill="#161616" textLength="101.1" lengthAdjust="spacingAndGlyphs" stroke="#161616" stroke-width="0.36">Regulation of biological process</text>
<text x="533.7" y="259.4" font-family="Liberation Sans" font-size="7.17" font-weight="normal" fill="#161616" textLength="94.1" lengthAdjust="spacingAndGlyphs" stroke="#161616" stroke-width="0.36">Regulation of cellular process</text>
<text x="905.9" y="229.5" font-family="Liberation Sans" font-size="7.59" font-weight="normal" fill="#161616" textLength="84.8" lengthAdjust="spacingAndGlyphs" stroke="#161616" stroke-width="0.38">Amine metabolic process</text>
<text x="863.9" y="257.8" font-family="Liberation Sans" font-size="7.95" font-weight="normal" fill="#161616" textLength="135.7" lengthAdjust="spacingAndGlyphs" stroke="#161616" stroke-width="0.40">Nitrogen compound metabolic process</text>
<text x="938.0" y="275.1" font-family="Liberation Sans" font-size="7.02" font-weight="normal" fill="#161616" textLength="60.1" lengthAdjust="spacingAndGlyphs" stroke="#161616" stroke-width="0.35">Response to stress</text>
<text x="878.7" y="291.4" font-family="Liberation Sans" font-size="7.23" font-weight="normal" fill="#161616" textLength="69.1" lengthAdjust="spacingAndGlyphs" stroke="#161616" stroke-width="0.36">Response to stimulus</text>
<text x="805.2" y="306.7" font-family="Liberation Sans" font-size="7.46" font-weight="normal" fill="#161616" textLength="104.1" lengthAdjust="spacingAndGlyphs" stroke="#161616" stroke-width="0.37">Cellular developmental process</text>
<text x="876.9" y="326.5" font-family="Liberation Sans" font-size="7.51" font-weight="normal" fill="#161616" textLength="113.5" lengthAdjust="spacingAndGlyphs" stroke="#161616" stroke-width="0.38">Anatomical structure development</text>
<text x="837.0" y="341.4" font-family="Liberation Sans" font-size="7.41" font-weight="normal" fill="#161616" textLength="77.4" lengthAdjust="spacingAndGlyphs" stroke="#161616" stroke-width="0.37">Developmental process</text>
<text x="799.4" y="354.7" font-family="Liberation Sans" font-size="5.12" font-weight="normal" fill="#161616" textLength="80.6" lengthAdjust="spacingAndGlyphs" stroke="#161616" stroke-width="0.26">Cellular component morphogenesis</text>
<text x="683.9" y="311.4" font-family="Liberation Sans" font-size="7.56" font-weight="normal" fill="#161616" textLength="73.1" lengthAdjust="spacingAndGlyphs" stroke="#161616" stroke-width="0.38">Reproductive process</text>
<text x="761.7" y="327.1" font-family="Liberation Sans" font-size="9.47" font-weight="normal" fill="#161616" textLength="76.3" lengthAdjust="spacingAndGlyphs" stroke="#161616" stroke-width="0.47">Biological process</text>
<text x="730.2" y="336.4" font-family="Liberation Sans" font-size="7.37" font-weight="normal" fill="#161616" textLength="38.9" lengthAdjust="spacingAndGlyphs" stroke="#161616" stroke-width="0.37">Localization</text>
<text x="669.6" y="350.2" font-family="Liberation Sans" font-size="7.49" font-weight="normal" fill="#161616" textLength="86.5" lengthAdjust="spacingAndGlyphs" stroke="#161616" stroke-width="0.37">Viral reproductive process</text>
<text x="751.9" y="356.2" font-family="Liberation Sans" font-size="5.63" font-weight="normal" fill="#161616" textLength="44.0" lengthAdjust="spacingAndGlyphs" stroke="#161616" stroke-width="0.28">Viral reproduction</text>
<text x="638.5" y="364.9" font-family="Liberation Sans" font-size="7.58" font-weight="normal" fill="#161616" textLength="68.5" lengthAdjust="spacingAndGlyphs" stroke="#161616" stroke-width="0.38">Viral infectious cycle</text>
<text x="713.5" y="369.1" font-family="Liberation Sans" font-size="7.56" font-weight="normal" fill="#161616" textLength="95.4" lengthAdjust="spacingAndGlyphs" stroke="#161616" stroke-width="0.38">Establishment of localization</text>
<text x="730.7" y="382.8" font-family="Liberation Sans" font-size="7.44" font-weight="normal" fill="#161616" textLength="106.7" lengthAdjust="spacingAndGlyphs" stroke="#161616" stroke-width="0.37">Cellular component organization</text>
<text x="660.4" y="389.0" font-family="Liberation Sans" font-size="5.57" font-weight="normal" fill="#161616" textLength="66.6" lengthAdjust="spacingAndGlyphs" stroke="#161616" stroke-width="0.28">Viral assembly, maturation,</text>
<text x="670.4" y="396.0" font-family="Liberation Sans" font-size="5.65" font-weight="normal" fill="#161616" textLength="49.6" lengthAdjust="spacingAndGlyphs" stroke="#161616" stroke-width="0.28">egress, and release</text>
<text x="733.3" y="396.8" font-family="Liberation Sans" font-size="5.68" font-weight="normal" fill="#161616" textLength="40.0" lengthAdjust="spacingAndGlyphs" stroke="#161616" stroke-width="0.28">Virion assembly</text>
<text x="783.7" y="398.2" font-family="Liberation Sans" font-size="5.70" font-weight="normal" fill="#161616" textLength="49.1" lengthAdjust="spacingAndGlyphs" stroke="#161616" stroke-width="0.28">Cellular component</text>
<text x="796.7" y="405.4" font-family="Liberation Sans" font-size="5.47" font-weight="normal" fill="#161616" textLength="23.1" lengthAdjust="spacingAndGlyphs" stroke="#161616" stroke-width="0.27">assembly</text>
<text x="727.8" y="405.8" font-family="Liberation Sans" font-size="7.48" font-weight="normal" fill="#161616" textLength="64.4" lengthAdjust="spacingAndGlyphs" stroke="#161616" stroke-width="0.37">Cellular component</text>
<text x="742.2" y="415.4" font-family="Liberation Sans" font-size="7.55" font-weight="normal" fill="#161616" textLength="36.1" lengthAdjust="spacingAndGlyphs" stroke="#161616" stroke-width="0.38">biogenesis</text>
<text x="657.0" y="409.5" font-family="Liberation Sans" font-size="7.43" font-weight="normal" fill="#161616" textLength="31.5" lengthAdjust="spacingAndGlyphs" stroke="#161616" stroke-width="0.37">Transport</text>
<text x="614.7" y="429.6" font-family="Liberation Sans" font-size="7.52" font-weight="normal" fill="#161616" textLength="42.2" lengthAdjust="spacingAndGlyphs" stroke="#161616" stroke-width="0.38">Ion transport</text>
<text x="862.4" y="364.4" font-family="Liberation Sans" font-size="7.02" font-weight="normal" fill="#161616" textLength="113.9" lengthAdjust="spacingAndGlyphs" stroke="#161616" stroke-width="0.35">Anatomical structure morphogenesis</text>
<text x="825.9" y="375.6" font-family="Liberation Sans" font-size="7.52" font-weight="normal" fill="#161616" textLength="64.8" lengthAdjust="spacingAndGlyphs" stroke="#161616" stroke-width="0.38">Biological adhesion</text>
<text x="843.0" y="387.1" font-family="Liberation Sans" font-size="6.85" font-weight="normal" fill="#161616" textLength="176.0" lengthAdjust="spacingAndGlyphs" stroke="#161616" stroke-width="0.34">Anatomical structure formation involved in morphogenesis</text>
<text x="835.6" y="402.8" font-family="Liberation Sans" font-size="7.56" font-weight="normal" fill="#161616" textLength="78.1" lengthAdjust="spacingAndGlyphs" stroke="#161616" stroke-width="0.38">Multi-organism process</text>
<text x="843.9" y="423.8" font-family="Liberation Sans" font-size="7.57" font-weight="normal" fill="#161616" textLength="201.1" lengthAdjust="spacingAndGlyphs" stroke="#161616" stroke-width="0.38">Adhesion to other organism involved in symbiotic interaction</text>
<text x="792.6" y="434.0" font-family="Liberation Sans" font-size="7.58" font-weight="normal" fill="#161616" textLength="99.4" lengthAdjust="spacingAndGlyphs" stroke="#161616" stroke-width="0.38">Cellular component assembly</text>
<text x="727.2" y="433.1" font-family="Liberation Sans" font-size="5.67" font-weight="normal" fill="#161616" textLength="63.0" lengthAdjust="spacingAndGlyphs" stroke="#161616" stroke-width="0.28">Macromolecular complex</text>
<text x="733.3" y="440.5" font-family="Liberation Sans" font-size="5.73" font-weight="normal" fill="#161616" textLength="51.3" lengthAdjust="spacingAndGlyphs" stroke="#161616" stroke-width="0.29">subunit organization</text>
<text x="798.5" y="451.5" font-family="Liberation Sans" font-size="7.49" font-weight="normal" fill="#161616" textLength="45.4" lengthAdjust="spacingAndGlyphs" stroke="#161616" stroke-width="0.37">Pathogenesis</text>
<text x="845.7" y="445.5" font-family="Liberation Sans" font-size="5.64" font-weight="normal" fill="#161616" textLength="58.0" lengthAdjust="spacingAndGlyphs" stroke="#161616" stroke-width="0.28">Interspecies interaction</text>
<text x="848.9" y="452.9" font-family="Liberation Sans" font-size="5.72" font-weight="normal" fill="#161616" textLength="49.6" lengthAdjust="spacingAndGlyphs" stroke="#161616" stroke-width="0.29">between organisms</text>
<text x="914.8" y="448.7" font-family="Liberation Sans" font-size="6.17" font-weight="normal" fill="#161616" textLength="101.2" lengthAdjust="spacingAndGlyphs" stroke="#161616" stroke-width="0.31">Symbiosis, encompassing mutualism</text>
<text x="937.4" y="455.3" font-family="Liberation Sans" font-size="5.79" font-weight="normal" fill="#161616" textLength="47.6" lengthAdjust="spacingAndGlyphs" stroke="#161616" stroke-width="0.29">through parasitism</text>
<text x="838.9" y="476.9" font-family="Liberation Sans" font-size="7.56" font-weight="normal" fill="#161616" textLength="56.3" lengthAdjust="spacingAndGlyphs" stroke="#161616" stroke-width="0.38">Adhesion to host</text>
<text x="896.1" y="496.5" font-family="Liberation Sans" font-size="7.53" font-weight="normal" fill="#161616" textLength="67.0" lengthAdjust="spacingAndGlyphs" stroke="#161616" stroke-width="0.38">Interaction with host</text>
<text x="698.5" y="459.9" font-family="Liberation Sans" font-size="7.54" font-weight="normal" fill="#161616" textLength="92.2" lengthAdjust="spacingAndGlyphs" stroke="#161616" stroke-width="0.38">Protein complex biogenesis</text>
<text x="747.0" y="477.1" font-family="Liberation Sans" font-size="7.55" font-weight="normal" fill="#161616" textLength="83.9" lengthAdjust="spacingAndGlyphs" stroke="#161616" stroke-width="0.38">Macromolecular complex</text>
<text x="773.5" y="486.9" font-family="Liberation Sans" font-size="7.46" font-weight="normal" fill="#161616" textLength="31.5" lengthAdjust="spacingAndGlyphs" stroke="#161616" stroke-width="0.37">assembly</text>
<text x="788.9" y="517.1" font-family="Liberation Sans" font-size="7.49" font-weight="normal" fill="#161616" textLength="87.4" lengthAdjust="spacingAndGlyphs" stroke="#161616" stroke-width="0.37">Protein complex assembly</text>
<text x="523.0" y="436.8" font-family="Liberation Sans" font-size="7.56" font-weight="normal" fill="#161616" textLength="62.6" lengthAdjust="spacingAndGlyphs" stroke="#161616" stroke-width="0.38">Metal ion transport</text>
<text x="570.0" y="451.1" font-family="Liberation Sans" font-size="7.59" font-weight="normal" fill="#161616" textLength="54.0" lengthAdjust="spacingAndGlyphs" stroke="#161616" stroke-width="0.38">Cation transport</text>
<text x="447.4" y="452.7" font-family="Liberation Sans" font-size="7.58" font-weight="normal" fill="#161616" textLength="97.9" lengthAdjust="spacingAndGlyphs" stroke="#161616" stroke-width="0.38">Transition metal ion transport</text>
<text x="530.7" y="481.2" font-family="Liberation Sans" font-size="7.59" font-weight="normal" fill="#161616" textLength="130.3" lengthAdjust="spacingAndGlyphs" stroke="#161616" stroke-width="0.38">Di-, tri-valent inorganic cation transport</text>
<text x="482.1" y="493.3" font-family="Liberation Sans" font-size="7.50" font-weight="normal" fill="#161616" textLength="56.7" lengthAdjust="spacingAndGlyphs" stroke="#161616" stroke-width="0.38">Iron ion transport</text>
<text x="785.2" y="565.1" font-family="Liberation Sans" font-size="7.57" font-weight="normal" fill="#161616" textLength="77.0" lengthAdjust="spacingAndGlyphs" stroke="#161616" stroke-width="0.38">Protein oligomerization</text>
<text x="787.1" y="606.5" font-family="Liberation Sans" font-size="7.57" font-weight="normal" fill="#161616" textLength="95.9" lengthAdjust="spacingAndGlyphs" stroke="#161616" stroke-width="0.38">Protein homooligomerization</text>
<text x="522.2" y="596.1" font-family="Liberation Sans" font-size="7.32" font-weight="normal" fill="#161616" textLength="102.5" lengthAdjust="spacingAndGlyphs" stroke="#161616" stroke-width="0.37">Pseudouridine synthase activity</text>
<text x="529.8" y="636.1" font-family="Liberation Sans" font-size="7.30" font-weight="normal" fill="#161616" textLength="109.2" lengthAdjust="spacingAndGlyphs" stroke="#161616" stroke-width="0.37">Intramolecular transferase activity</text>
<text x="467.7" y="653.6" font-family="Liberation Sans" font-size="7.32" font-weight="normal" fill="#161616" textLength="167.8" lengthAdjust="spacingAndGlyphs" stroke="#161616" stroke-width="0.37">Oxidoreductase activity, acting on other nitrogenous</text>
<text x="473.2" y="663.2" font-family="Liberation Sans" font-size="7.30" font-weight="normal" fill="#161616" textLength="153.4" lengthAdjust="spacingAndGlyphs" stroke="#161616" stroke-width="0.37">compounds as donors, cytochrome as acceptor</text>
<text x="625.9" y="580.6" font-family="Liberation Sans" font-size="7.33" font-weight="normal" fill="#161616" textLength="131.9" lengthAdjust="spacingAndGlyphs" stroke="#161616" stroke-width="0.37">Oxidoreductase activity, acting on NADH</text>
<text x="633.0" y="589.8" font-family="Liberation Sans" font-size="7.28" font-weight="normal" fill="#161616" textLength="116.1" lengthAdjust="spacingAndGlyphs" stroke="#161616" stroke-width="0.36">or NADPH, with oxygen as acceptor</text>
<text x="647.8" y="636.5" font-family="Liberation Sans" font-size="7.33" font-weight="normal" fill="#161616" textLength="98.9" lengthAdjust="spacingAndGlyphs" stroke="#161616" stroke-width="0.37">Oxidoreductase activity, acting</text>
<text x="663.3" y="645.8" font-family="Liberation Sans" font-size="7.34" font-weight="normal" fill="#161616" textLength="67.3" lengthAdjust="spacingAndGlyphs" stroke="#161616" stroke-width="0.37">on NADH or NADPH</text>
<text x="661.5" y="677.2" font-family="Liberation Sans" font-size="7.31" font-weight="normal" fill="#161616" textLength="58.5" lengthAdjust="spacingAndGlyphs" stroke="#161616" stroke-width="0.37">Isomerase activity</text>
<text x="632.4" y="697.3" font-family="Liberation Sans" font-size="7.34" font-weight="normal" fill="#161616" textLength="75.9" lengthAdjust="spacingAndGlyphs" stroke="#161616" stroke-width="0.37">Oxidoreductase activity</text>
<text x="497.3" y="698.7" font-family="Liberation Sans" font-size="7.35" font-weight="normal" fill="#161616" textLength="128.1" lengthAdjust="spacingAndGlyphs" stroke="#161616" stroke-width="0.37">Oxidoreductase activity, acting on other</text>
<text x="503.1" y="707.5" font-family="Liberation Sans" font-size="7.31" font-weight="normal" fill="#161616" textLength="112.2" lengthAdjust="spacingAndGlyphs" stroke="#161616" stroke-width="0.37">nitrogenous compounds as donors</text>
<text x="515.1" y="738.3" font-family="Liberation Sans" font-size="7.31" font-weight="normal" fill="#161616" textLength="94.6" lengthAdjust="spacingAndGlyphs" stroke="#161616" stroke-width="0.37">Nitric oxide reductase activity</text>
<text x="680.6" y="728.8" font-family="Liberation Sans" font-size="9.64" font-weight="normal" fill="#161616" textLength="69.1" lengthAdjust="spacingAndGlyphs" stroke="#161616" stroke-width="0.48">Catalytic activity</text>
<text x="745.6" y="757.2" font-family="Liberation Sans" font-size="9.80" font-weight="normal" fill="#161616" textLength="79.5" lengthAdjust="spacingAndGlyphs" stroke="#161616" stroke-width="0.49">Molecular function</text>
<text x="628.4" y="774.1" font-family="Liberation Sans" font-size="9.65" font-weight="normal" fill="#161616" textLength="75.6" lengthAdjust="spacingAndGlyphs" stroke="#161616" stroke-width="0.48">Hydrolase activity</text>
<text x="599.4" y="816.5" font-family="Liberation Sans" font-size="7.30" font-weight="normal" fill="#161616" textLength="56.8" lengthAdjust="spacingAndGlyphs" stroke="#161616" stroke-width="0.36">Peptidase activity</text>
<text x="506.9" y="856.4" font-family="Liberation Sans" font-size="7.34" font-weight="normal" fill="#161616" textLength="164.2" lengthAdjust="spacingAndGlyphs" stroke="#161616" stroke-width="0.37">Peptidase activity, acting on L-amino acid peptides</text>
<text x="769.8" y="818.9" font-family="Liberation Sans" font-size="7.28" font-weight="normal" fill="#161616" textLength="39.0" lengthAdjust="spacingAndGlyphs" stroke="#161616" stroke-width="0.36">ATP binding</text>
<text x="697.5" y="836.8" font-family="Liberation Sans" font-size="7.50" font-weight="normal" fill="#161616" textLength="74.2" lengthAdjust="spacingAndGlyphs" stroke="#161616" stroke-width="0.37">Rbonucleotide binding</text>
<text x="790.3" y="847.7" font-family="Liberation Sans" font-size="7.22" font-weight="normal" fill="#161616" textLength="59.4" lengthAdjust="spacingAndGlyphs" stroke="#161616" stroke-width="0.36">Nucleotide binding</text>
<text x="869.7" y="847.4" font-family="Liberation Sans" font-size="7.36" font-weight="normal" fill="#161616" textLength="41.7" lengthAdjust="spacingAndGlyphs" stroke="#161616" stroke-width="0.37">FMN binding</text>
<text x="919.1" y="870.0" font-family="Liberation Sans" font-size="7.35" font-weight="normal" fill="#161616" textLength="60.9" lengthAdjust="spacingAndGlyphs" stroke="#161616" stroke-width="0.37">Coenzyme binding</text>
<text x="647.1" y="877.6" font-family="Liberation Sans" font-size="7.32" font-weight="normal" fill="#161616" textLength="94.4" lengthAdjust="spacingAndGlyphs" stroke="#161616" stroke-width="0.37">Purine ribonucleotide binding</text>
<text x="757.3" y="870.6" font-family="Liberation Sans" font-size="7.23" font-weight="normal" fill="#161616" textLength="94.4" lengthAdjust="spacingAndGlyphs" stroke="#161616" stroke-width="0.36">Adenyl ribonucleotide binding</text>
<text x="851.7" y="879.0" font-family="Liberation Sans" font-size="7.25" font-weight="normal" fill="#161616" textLength="61.3" lengthAdjust="spacingAndGlyphs" stroke="#161616" stroke-width="0.36">Nucleoside binding</text>
<text x="749.4" y="899.0" font-family="Liberation Sans" font-size="7.28" font-weight="normal" fill="#161616" textLength="81.8" lengthAdjust="spacingAndGlyphs" stroke="#161616" stroke-width="0.36">Purine nucleotide binding</text>
<text x="728.4" y="932.1" font-family="Liberation Sans" font-size="7.33" font-weight="normal" fill="#161616" textLength="83.5" lengthAdjust="spacingAndGlyphs" stroke="#161616" stroke-width="0.37">Adenyl nucleotide binding</text>
<text x="880.5" y="929.1" font-family="Liberation Sans" font-size="7.22" font-weight="normal" fill="#161616" textLength="74.7" lengthAdjust="spacingAndGlyphs" stroke="#161616" stroke-width="0.36">Ribonucleoside binding</text>
<text x="811.9" y="940.4" font-family="Liberation Sans" font-size="7.30" font-weight="normal" fill="#161616" textLength="83.6" lengthAdjust="spacingAndGlyphs" stroke="#161616" stroke-width="0.37">Purine nucleoside binding</text>
<text x="839.6" y="980.6" font-family="Liberation Sans" font-size="7.25" font-weight="normal" fill="#161616" textLength="95.1" lengthAdjust="spacingAndGlyphs" stroke="#161616" stroke-width="0.36">Purine ribonucleoside binding</text>
<text x="841.1" y="795.6" font-family="Liberation Sans" font-size="9.53" font-weight="normal" fill="#161616" textLength="31.8" lengthAdjust="spacingAndGlyphs" stroke="#161616" stroke-width="0.48">Binding</text>
<text x="960.0" y="649.1" font-family="Liberation Sans" font-size="7.29" font-weight="normal" fill="#161616" textLength="55.1" lengthAdjust="spacingAndGlyphs" stroke="#161616" stroke-width="0.36">Metal ion binding</text>
<text x="854.4" y="677.1" font-family="Liberation Sans" font-size="7.28" font-weight="normal" fill="#161616" textLength="78.9" lengthAdjust="spacingAndGlyphs" stroke="#161616" stroke-width="0.36">Unfolded protein binding</text>
<text x="933.3" y="695.8" font-family="Liberation Sans" font-size="7.30" font-weight="normal" fill="#161616" textLength="46.7" lengthAdjust="spacingAndGlyphs" stroke="#161616" stroke-width="0.37">Cation binding</text>
<text x="853.8" y="733.7" font-family="Liberation Sans" font-size="7.42" font-weight="normal" fill="#161616" textLength="49.5" lengthAdjust="spacingAndGlyphs" stroke="#161616" stroke-width="0.37">Protein binding</text>
<text x="898.2" y="752.7" font-family="Liberation Sans" font-size="9.69" font-weight="normal" fill="#161616" textLength="47.4" lengthAdjust="spacingAndGlyphs" stroke="#161616" stroke-width="0.48">Ion binding</text>
<text x="895.6" y="787.7" font-family="Liberation Sans" font-size="7.33" font-weight="normal" fill="#161616" textLength="84.8" lengthAdjust="spacingAndGlyphs" stroke="#161616" stroke-width="0.37">Ribonucleoprotein binding</text>
<text x="971.1" y="805.4" font-family="Liberation Sans" font-size="7.36" font-weight="normal" fill="#161616" textLength="58.9" lengthAdjust="spacingAndGlyphs" stroke="#161616" stroke-width="0.37">Ribosome binding</text>
<text x="889.3" y="824.2" font-family="Liberation Sans" font-size="7.26" font-weight="normal" fill="#161616" textLength="52.9" lengthAdjust="spacingAndGlyphs" stroke="#161616" stroke-width="0.36">Cofactor binding</text>
<text x="1017.6" y="545.1" font-family="Liberation Sans" font-size="7.27" font-weight="normal" fill="#161616" textLength="49.7" lengthAdjust="spacingAndGlyphs" stroke="#161616" stroke-width="0.36">Iron ion binding</text>
<text x="977.1" y="601.7" font-family="Liberation Sans" font-size="7.28" font-weight="normal" fill="#161616" textLength="88.8" lengthAdjust="spacingAndGlyphs" stroke="#161616" stroke-width="0.36">Transition metal ion binding</text>
<defs><linearGradient id="mg" x1="0" y1="0" x2="1" y2="0"><stop offset="0" stop-color="#3ee92a"/><stop offset="0.08" stop-color="#62ee52"/><stop offset="0.2" stop-color="#ffffff"/><stop offset="0.45" stop-color="#fde2bd"/><stop offset="1" stop-color="#fb9c14"/></linearGradient></defs>
<rect x="500" y="928.1" width="97.8" height="38.3" fill="url(#mg)" stroke="#a8a8a0" stroke-width="0.8"/>
<text x="499.3" y="977.6" font-family="Liberation Sans" font-size="6.22" font-weight="normal" fill="#444" textLength="12.1" lengthAdjust="spacingAndGlyphs" stroke="#444" stroke-width="0.31">0.00</text>
<text x="520.7" y="977.5" font-family="Liberation Sans" font-size="5.76" font-weight="normal" fill="#444" textLength="11.2" lengthAdjust="spacingAndGlyphs" stroke="#444" stroke-width="0.29">1.07</text>
<text x="587.0" y="977.7" font-family="Liberation Sans" font-size="6.32" font-weight="normal" fill="#444" textLength="12.3" lengthAdjust="spacingAndGlyphs" stroke="#444" stroke-width="0.32">5.00</text>
<text x="522.2" y="986.4" font-family="Liberation Sans" font-size="6.01" font-weight="normal" fill="#444" textLength="51.8" lengthAdjust="spacingAndGlyphs" stroke="#444" stroke-width="0.30">nodeFillColor_MAE</text>
</g>
</svg></body></html>
